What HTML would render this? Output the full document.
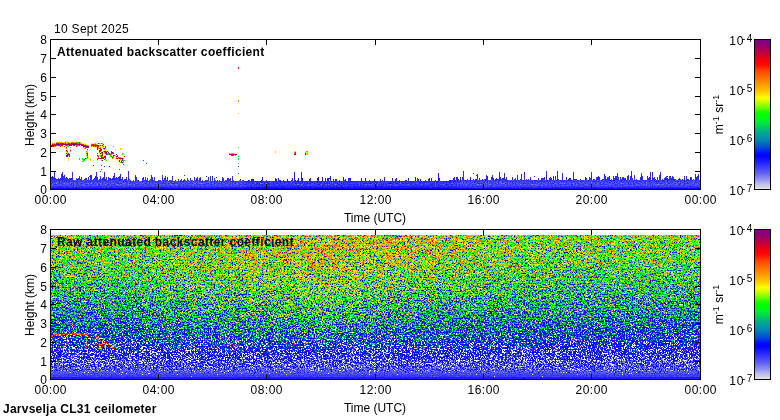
<!DOCTYPE html><html><head><meta charset="utf-8"><style>
html,body{margin:0;padding:0;background:#fff;width:780px;height:420px;overflow:hidden}
body{position:relative;font-family:"Liberation Sans", sans-serif;font-size:12px;color:#000}
.t{position:absolute;line-height:20px;white-space:nowrap;opacity:0.999}
.ov{position:absolute}
.frame{position:absolute;width:649px;height:149px;border:1px solid #000}
.cbar{position:absolute;width:15px;height:149px;border:1px solid #000;background:linear-gradient(to bottom,#800088 0.00%,#900070 3.40%,#b00050 6.80%,#d00030 10.10%,#e80018 12.20%,#ff0000 14.90%,#ff1800 17.60%,#ff4000 20.30%,#ff6000 23.60%,#ff8000 27.00%,#ffa000 30.40%,#ffc000 33.80%,#ffe000 36.50%,#ffff00 38.50%,#e0ff00 40.50%,#a0ff00 43.20%,#60ff00 45.90%,#20ff00 48.00%,#00ff00 50.00%,#00ff00 51.40%,#00f030 54.10%,#00d850 57.40%,#00c070 59.50%,#00a890 62.20%,#0098a8 64.90%,#0080b8 67.60%,#0060c8 70.30%,#0040e0 73.00%,#0010f8 75.70%,#0000ff 77.70%,#1818ff 81.10%,#3030ff 83.80%,#4848f8 86.50%,#6060f0 89.20%,#8080f0 91.90%,#a0a0f0 94.60%,#c0c0e8 96.60%,#d0d0e0 98.65%,#e8e8e8 100.00%)}
.rot{transform:rotate(-90deg);transform-origin:50% 50%}
sup{font-size:9px;vertical-align:0;position:relative;top:-4px}
</style></head><body><svg class="ov" width="780" height="420" style="left:0;top:0"><defs><filter id="nzb" filterUnits="userSpaceOnUse" x="51" y="160" width="649" height="29" color-interpolation-filters="sRGB">
<feTurbulence type="fractalNoise" baseFrequency="0.71" numOctaves="2" seed="5" result="t"/>
<feColorMatrix in="t" values="1 0 0 0 0 1 0 0 0 0 1 0 0 0 0 0 0 0 0 1" result="n0"/>
<feComponentTransfer in="n0" result="n"><feFuncR type="table" tableValues="0.0000 0.0000 0.0000 0.0000 0.0000 0.0000 0.0000 0.0000 0.0000 0.0000 0.0000 0.0000 0.0000 0.0025 0.0516 0.1045 0.1515 0.1968 0.2383 0.2762 0.3101 0.3422 0.3716 0.3995 0.4250 0.4497 0.4735 0.4969 0.5203 0.5438 0.5672 0.5908 0.6123 0.6388 0.6612 0.6823 0.7027 0.7222 0.7415 0.7601 0.7788 0.7976 0.8163 0.8357 0.8550 0.8751 0.8960 0.9175 0.9399 0.9624 0.9846 1.0000 1.0000 1.0000 1.0000 1.0000 1.0000 1.0000 1.0000 1.0000 1.0000 1.0000 1.0000 1.0000 1.0000"/><feFuncG type="table" tableValues="0.0000 0.0000 0.0000 0.0000 0.0000 0.0000 0.0000 0.0000 0.0000 0.0000 0.0000 0.0000 0.0000 0.0025 0.0516 0.1045 0.1515 0.1968 0.2383 0.2762 0.3101 0.3422 0.3716 0.3995 0.4250 0.4497 0.4735 0.4969 0.5203 0.5438 0.5672 0.5908 0.6123 0.6388 0.6612 0.6823 0.7027 0.7222 0.7415 0.7601 0.7788 0.7976 0.8163 0.8357 0.8550 0.8751 0.8960 0.9175 0.9399 0.9624 0.9846 1.0000 1.0000 1.0000 1.0000 1.0000 1.0000 1.0000 1.0000 1.0000 1.0000 1.0000 1.0000 1.0000 1.0000"/><feFuncB type="table" tableValues="0.0000 0.0000 0.0000 0.0000 0.0000 0.0000 0.0000 0.0000 0.0000 0.0000 0.0000 0.0000 0.0000 0.0025 0.0516 0.1045 0.1515 0.1968 0.2383 0.2762 0.3101 0.3422 0.3716 0.3995 0.4250 0.4497 0.4735 0.4969 0.5203 0.5438 0.5672 0.5908 0.6123 0.6388 0.6612 0.6823 0.7027 0.7222 0.7415 0.7601 0.7788 0.7976 0.8163 0.8357 0.8550 0.8751 0.8960 0.9175 0.9399 0.9624 0.9846 1.0000 1.0000 1.0000 1.0000 1.0000 1.0000 1.0000 1.0000 1.0000 1.0000 1.0000 1.0000 1.0000 1.0000"/></feComponentTransfer>
<feColorMatrix in="SourceGraphic" values="0 1 0 0 0 0 1 0 0 0 0 1 0 0 0 0 0 0 0 1" result="amp"/>
<feComposite in="amp" in2="n" operator="arithmetic" k1="1" k2="0" k3="0" k4="0" result="an"/>
<feColorMatrix in="SourceGraphic" values="1 0 0 0 0 1 0 0 0 0 1 0 0 0 0 0 0 0 0 1" result="base"/>
<feComposite in="base" in2="an" operator="arithmetic" k1="0" k2="1" k3="1.2" k4="-0.6" result="v"/>
<feComponentTransfer in="v" result="col"><feFuncR type="table" tableValues="0.957 0.806 0.755 0.653 0.569 0.491 0.414 0.346 0.288 0.230 0.172 0.114 0.064 0.018 0.000 0.000 0.000 0.000 0.000 0.000 0.000 0.000 0.000 0.000 0.000 0.000 0.000 0.000 0.000 0.000 0.000 0.105 0.285 0.460 0.615 0.770 0.909 1.000 1.000 1.000 1.000 1.000 1.000 1.000 1.000 1.000 1.000 1.000 1.000 1.000 1.000 1.000 0.948 0.886 0.812 0.749 0.685 0.624 0.563 0.533 0.502"/><feFuncG type="table" tableValues="0.957 0.806 0.755 0.653 0.569 0.491 0.414 0.346 0.288 0.230 0.172 0.114 0.064 0.018 0.032 0.112 0.228 0.313 0.390 0.468 0.534 0.593 0.632 0.677 0.736 0.805 0.868 0.916 0.958 0.994 1.000 1.000 1.000 1.000 1.000 1.000 1.000 0.990 0.889 0.809 0.736 0.674 0.613 0.551 0.490 0.428 0.366 0.303 0.234 0.137 0.062 0.003 0.000 0.000 0.000 0.000 0.000 0.000 0.000 0.000 0.000"/><feFuncB type="table" tableValues="0.894 0.883 0.909 0.935 0.941 0.941 0.941 0.951 0.971 0.988 1.000 1.000 1.000 1.000 0.986 0.948 0.890 0.832 0.777 0.739 0.700 0.661 0.604 0.540 0.462 0.369 0.286 0.222 0.135 0.019 0.000 0.000 0.000 0.000 0.000 0.000 0.000 0.000 0.000 0.000 0.000 0.000 0.000 0.000 0.000 0.000 0.000 0.000 0.000 0.000 0.000 0.000 0.055 0.118 0.192 0.255 0.319 0.380 0.441 0.487 0.533"/></feComponentTransfer>
<feColorMatrix in="t" values="0 1 0 0 0 0 1 0 0 0 0 1 0 0 0 0 0 0 0 1" result="g"/>
<feComponentTransfer in="g" result="u"><feFuncR type="table" tableValues="1.0000 1.0000 1.0000 1.0000 1.0000 1.0000 1.0000 1.0000 0.9999 0.9998 0.9996 0.9990 0.9981 0.9966 0.9942 0.9908 0.9858 0.9783 0.9686 0.9561 0.9410 0.9227 0.9016 0.8772 0.8499 0.8186 0.7836 0.7447 0.7028 0.6568 0.6073 0.5544 0.5036 0.4410 0.3887 0.3403 0.2951 0.2540 0.2165 0.1828 0.1519 0.1246 0.1002 0.0788 0.0606 0.0456 0.0329 0.0229 0.0151 0.0099 0.0061 0.0036 0.0021 0.0011 0.0006 0.0003 0.0001 0.0000 0.0000 0.0000 0.0000 0.0000 0.0000 0.0000 0.0000"/><feFuncG type="table" tableValues="1.0000 1.0000 1.0000 1.0000 1.0000 1.0000 1.0000 1.0000 0.9999 0.9998 0.9996 0.9990 0.9981 0.9966 0.9942 0.9908 0.9858 0.9783 0.9686 0.9561 0.9410 0.9227 0.9016 0.8772 0.8499 0.8186 0.7836 0.7447 0.7028 0.6568 0.6073 0.5544 0.5036 0.4410 0.3887 0.3403 0.2951 0.2540 0.2165 0.1828 0.1519 0.1246 0.1002 0.0788 0.0606 0.0456 0.0329 0.0229 0.0151 0.0099 0.0061 0.0036 0.0021 0.0011 0.0006 0.0003 0.0001 0.0000 0.0000 0.0000 0.0000 0.0000 0.0000 0.0000 0.0000"/><feFuncB type="table" tableValues="1.0000 1.0000 1.0000 1.0000 1.0000 1.0000 1.0000 1.0000 0.9999 0.9998 0.9996 0.9990 0.9981 0.9966 0.9942 0.9908 0.9858 0.9783 0.9686 0.9561 0.9410 0.9227 0.9016 0.8772 0.8499 0.8186 0.7836 0.7447 0.7028 0.6568 0.6073 0.5544 0.5036 0.4410 0.3887 0.3403 0.2951 0.2540 0.2165 0.1828 0.1519 0.1246 0.1002 0.0788 0.0606 0.0456 0.0329 0.0229 0.0151 0.0099 0.0061 0.0036 0.0021 0.0011 0.0006 0.0003 0.0001 0.0000 0.0000 0.0000 0.0000 0.0000 0.0000 0.0000 0.0000"/></feComponentTransfer>
<feColorMatrix in="SourceGraphic" values="0 0 1 0 0 0 0 1 0 0 0 0 1 0 0 0 0 0 0 1" result="pp"/>
<feComposite in="pp" in2="u" operator="arithmetic" k1="0" k2="0.5" k3="0.5" k4="0" result="w0"/>
<feComponentTransfer in="w0" result="mask"><feFuncR type="discrete" tableValues="0 1"/><feFuncG type="discrete" tableValues="0 1"/><feFuncB type="discrete" tableValues="0 1"/></feComponentTransfer>
<feColorMatrix in="mask" values="0 0 0 0 0 0 0 0 0 0 0 0 0 0 0 1 0 0 0 0" result="ma"/>
<feFlood flood-color="#f4f4e4" result="fw"/>
<feComposite in="fw" in2="ma" operator="in" result="wl"/>
<feComposite in="wl" in2="col" operator="over"/><feComposite in2="SourceAlpha" operator="in"/>
</filter><linearGradient id="b0" gradientUnits="userSpaceOnUse" x1="51" x2="700" y1="0" y2="0"><stop offset="0.0%" stop-color="#bd0a00"/><stop offset="29.1%" stop-color="#bd0a00"/><stop offset="30.7%" stop-color="#c20a00"/><stop offset="61.5%" stop-color="#c20a00"/><stop offset="63.0%" stop-color="#bd0a00"/><stop offset="99.8%" stop-color="#bd0a00"/></linearGradient><linearGradient id="b1" gradientUnits="userSpaceOnUse" x1="51" x2="700" y1="0" y2="0"><stop offset="0.0%" stop-color="#bd0a00"/><stop offset="29.1%" stop-color="#bd0a00"/><stop offset="30.7%" stop-color="#c20a00"/><stop offset="61.5%" stop-color="#c20a00"/><stop offset="63.0%" stop-color="#bd0a00"/><stop offset="99.8%" stop-color="#bd0a00"/></linearGradient><linearGradient id="b2" gradientUnits="userSpaceOnUse" x1="51" x2="700" y1="0" y2="0"><stop offset="0.0%" stop-color="#bd0a00"/><stop offset="29.1%" stop-color="#bd0a00"/><stop offset="30.7%" stop-color="#c20a00"/><stop offset="61.5%" stop-color="#c20a00"/><stop offset="63.0%" stop-color="#bd0a00"/><stop offset="99.8%" stop-color="#bd0a00"/></linearGradient><linearGradient id="b3" gradientUnits="userSpaceOnUse" x1="51" x2="700" y1="0" y2="0"><stop offset="0.0%" stop-color="#bd0a00"/><stop offset="29.1%" stop-color="#bd0a00"/><stop offset="30.7%" stop-color="#c20a00"/><stop offset="61.5%" stop-color="#c20a00"/><stop offset="63.0%" stop-color="#bd0a00"/><stop offset="99.8%" stop-color="#bd0a00"/></linearGradient><linearGradient id="b4" gradientUnits="userSpaceOnUse" x1="51" x2="700" y1="0" y2="0"><stop offset="0.0%" stop-color="#bd0a00"/><stop offset="29.1%" stop-color="#bd0a00"/><stop offset="30.7%" stop-color="#c20a00"/><stop offset="61.5%" stop-color="#c20a00"/><stop offset="63.0%" stop-color="#bd0a00"/><stop offset="99.8%" stop-color="#bd0a00"/></linearGradient><linearGradient id="b5" gradientUnits="userSpaceOnUse" x1="51" x2="700" y1="0" y2="0"><stop offset="0.0%" stop-color="#bd0a00"/><stop offset="29.1%" stop-color="#bd0a00"/><stop offset="30.7%" stop-color="#c20a00"/><stop offset="61.5%" stop-color="#c20a00"/><stop offset="63.0%" stop-color="#bd0a00"/><stop offset="99.8%" stop-color="#bd0a00"/></linearGradient><linearGradient id="b6" gradientUnits="userSpaceOnUse" x1="51" x2="700" y1="0" y2="0"><stop offset="0.0%" stop-color="#bd0a00"/><stop offset="29.1%" stop-color="#bd0a00"/><stop offset="30.7%" stop-color="#c20a00"/><stop offset="61.5%" stop-color="#c20a00"/><stop offset="63.0%" stop-color="#bd0a00"/><stop offset="99.8%" stop-color="#bd0a00"/></linearGradient><linearGradient id="b7" gradientUnits="userSpaceOnUse" x1="51" x2="700" y1="0" y2="0"><stop offset="0.0%" stop-color="#bd0a00"/><stop offset="29.1%" stop-color="#bd0a00"/><stop offset="30.7%" stop-color="#c20a00"/><stop offset="61.5%" stop-color="#c20a00"/><stop offset="63.0%" stop-color="#bd0a00"/><stop offset="99.8%" stop-color="#bd0a00"/></linearGradient><linearGradient id="b8" gradientUnits="userSpaceOnUse" x1="51" x2="700" y1="0" y2="0"><stop offset="0.0%" stop-color="#bd0a00"/><stop offset="29.1%" stop-color="#bd0a00"/><stop offset="30.7%" stop-color="#c20a00"/><stop offset="61.5%" stop-color="#c20a00"/><stop offset="63.0%" stop-color="#bd0a00"/><stop offset="99.8%" stop-color="#bd0a00"/></linearGradient><linearGradient id="b9" gradientUnits="userSpaceOnUse" x1="51" x2="700" y1="0" y2="0"><stop offset="0.0%" stop-color="#bd0a00"/><stop offset="29.1%" stop-color="#bd0a00"/><stop offset="30.7%" stop-color="#c20a00"/><stop offset="61.5%" stop-color="#c20a00"/><stop offset="63.0%" stop-color="#bd0a00"/><stop offset="99.8%" stop-color="#bd0a00"/></linearGradient><linearGradient id="b10" gradientUnits="userSpaceOnUse" x1="51" x2="700" y1="0" y2="0"><stop offset="0.0%" stop-color="#bd0a00"/><stop offset="29.1%" stop-color="#bd0a00"/><stop offset="30.7%" stop-color="#c20a00"/><stop offset="61.5%" stop-color="#c20a00"/><stop offset="63.0%" stop-color="#bd0a00"/><stop offset="99.8%" stop-color="#bd0a00"/></linearGradient><linearGradient id="b11" gradientUnits="userSpaceOnUse" x1="51" x2="700" y1="0" y2="0"><stop offset="0.0%" stop-color="#bd0a00"/><stop offset="29.1%" stop-color="#bd0a00"/><stop offset="30.7%" stop-color="#c20a00"/><stop offset="61.5%" stop-color="#c20a00"/><stop offset="63.0%" stop-color="#bd0a00"/><stop offset="99.8%" stop-color="#bd0a00"/></linearGradient><linearGradient id="b12" gradientUnits="userSpaceOnUse" x1="51" x2="700" y1="0" y2="0"><stop offset="0.0%" stop-color="#bd0a00"/><stop offset="29.1%" stop-color="#bd0a00"/><stop offset="30.7%" stop-color="#c20a00"/><stop offset="61.5%" stop-color="#c20a00"/><stop offset="63.0%" stop-color="#bd0a00"/><stop offset="99.8%" stop-color="#bd0a00"/></linearGradient><linearGradient id="b13" gradientUnits="userSpaceOnUse" x1="51" x2="700" y1="0" y2="0"><stop offset="0.0%" stop-color="#bd0a00"/><stop offset="29.1%" stop-color="#bd0a00"/><stop offset="30.7%" stop-color="#c20a00"/><stop offset="61.5%" stop-color="#c20a00"/><stop offset="63.0%" stop-color="#bd0a00"/><stop offset="99.8%" stop-color="#bd0a00"/></linearGradient><linearGradient id="b14" gradientUnits="userSpaceOnUse" x1="51" x2="700" y1="0" y2="0"><stop offset="0.0%" stop-color="#bd0a00"/><stop offset="29.1%" stop-color="#bd0a00"/><stop offset="30.7%" stop-color="#c20a00"/><stop offset="61.5%" stop-color="#c20a00"/><stop offset="63.0%" stop-color="#bd0a00"/><stop offset="99.8%" stop-color="#bd0a00"/></linearGradient><linearGradient id="b15" gradientUnits="userSpaceOnUse" x1="51" x2="700" y1="0" y2="0"><stop offset="0.0%" stop-color="#b41000"/><stop offset="29.1%" stop-color="#b41000"/><stop offset="30.7%" stop-color="#b91000"/><stop offset="61.5%" stop-color="#b91000"/><stop offset="63.0%" stop-color="#b41000"/><stop offset="99.8%" stop-color="#b41000"/></linearGradient><linearGradient id="b16" gradientUnits="userSpaceOnUse" x1="51" x2="700" y1="0" y2="0"><stop offset="0.0%" stop-color="#b41000"/><stop offset="29.1%" stop-color="#b41000"/><stop offset="30.7%" stop-color="#b91000"/><stop offset="61.5%" stop-color="#b91000"/><stop offset="63.0%" stop-color="#b41000"/><stop offset="99.8%" stop-color="#b41000"/></linearGradient><linearGradient id="b17" gradientUnits="userSpaceOnUse" x1="51" x2="700" y1="0" y2="0"><stop offset="0.0%" stop-color="#aa1900"/><stop offset="29.1%" stop-color="#aa1900"/><stop offset="30.7%" stop-color="#af1900"/><stop offset="61.5%" stop-color="#af1900"/><stop offset="63.0%" stop-color="#aa1900"/><stop offset="99.8%" stop-color="#aa1900"/></linearGradient><linearGradient id="b18" gradientUnits="userSpaceOnUse" x1="51" x2="700" y1="0" y2="0"><stop offset="0.0%" stop-color="#aa1900"/><stop offset="29.1%" stop-color="#aa1900"/><stop offset="30.7%" stop-color="#af1900"/><stop offset="61.5%" stop-color="#af1900"/><stop offset="63.0%" stop-color="#aa1900"/><stop offset="99.8%" stop-color="#aa1900"/></linearGradient><linearGradient id="b19" gradientUnits="userSpaceOnUse" x1="51" x2="700" y1="0" y2="0"><stop offset="0.0%" stop-color="#aa1900"/><stop offset="29.1%" stop-color="#aa1900"/><stop offset="30.7%" stop-color="#af1900"/><stop offset="61.5%" stop-color="#af1900"/><stop offset="63.0%" stop-color="#aa1900"/><stop offset="99.8%" stop-color="#aa1900"/></linearGradient><linearGradient id="b20" gradientUnits="userSpaceOnUse" x1="51" x2="700" y1="0" y2="0"><stop offset="0.0%" stop-color="#aa1900"/><stop offset="29.1%" stop-color="#aa1900"/><stop offset="30.7%" stop-color="#af1900"/><stop offset="61.5%" stop-color="#af1900"/><stop offset="63.0%" stop-color="#aa1900"/><stop offset="99.8%" stop-color="#aa1900"/></linearGradient><linearGradient id="b21" gradientUnits="userSpaceOnUse" x1="51" x2="700" y1="0" y2="0"><stop offset="0.0%" stop-color="#b51000"/><stop offset="29.1%" stop-color="#b51000"/><stop offset="30.7%" stop-color="#ba1000"/><stop offset="61.5%" stop-color="#ba1000"/><stop offset="63.0%" stop-color="#b51000"/><stop offset="99.8%" stop-color="#b51000"/></linearGradient><linearGradient id="b22" gradientUnits="userSpaceOnUse" x1="51" x2="700" y1="0" y2="0"><stop offset="0.0%" stop-color="#bd0c00"/><stop offset="29.1%" stop-color="#bd0c00"/><stop offset="30.7%" stop-color="#c20c00"/><stop offset="61.5%" stop-color="#c20c00"/><stop offset="63.0%" stop-color="#bd0c00"/><stop offset="99.8%" stop-color="#bd0c00"/></linearGradient><linearGradient id="b23" gradientUnits="userSpaceOnUse" x1="51" x2="700" y1="0" y2="0"><stop offset="0.0%" stop-color="#c80800"/><stop offset="29.1%" stop-color="#c80800"/><stop offset="30.7%" stop-color="#cd0800"/><stop offset="61.5%" stop-color="#cd0800"/><stop offset="63.0%" stop-color="#c80800"/><stop offset="99.8%" stop-color="#c80800"/></linearGradient><clipPath id="sky"><path d="M51 189V177H52V176H53V177H54V171H55V178H56V179H57V179H58V178H59V179H60V178H61V174H62V172H63V176H64V175H65V178H66V177H67V178H68V179H69V178H70V178H71V178H72V172H73V180H74V180H75V180H76V178H77V179H78V178H79V176H80V179H81V177H82V180H83V180H84V179H85V178H86V178H87V180H88V177H89V180H90V175H91V175H92V180H93V179H94V178H95V176H96V172H97V177H98V180H99V179H100V176H101V179H102V178H103V177H104V172H105V179H106V177H107V180H108V177H109V178H110V178H111V179H112V178H113V176H114V173H115V178H116V177H117V179H118V177H119V176H120V174H121V179H122V177H123V180H124V179H125V179H126V177H127V180H128V171H129V179H130V180H131V181H132V181H133V180H134V181H135V175H136V177H137V180H138V180H139V181H140V181H141V181H142V178H143V177H144V180H145V177H146V180H147V178H148V181H149V180H150V179H151V175H152V177H153V180H154V177H155V181H156V181H157V181H158V180H159V180H160V180H161V181H162V175H163V180H164V178H165V176H166V180H167V177H168V181H169V180H170V180H171V180H172V176H173V181H174V181H175V180H176V181H177V181H178V179H179V181H180V180H181V179H182V181H183V180H184V179H185V180H186V181H187V178H188V180H189V181H190V178H191V180H192V180H193V181H194V177H195V180H196V178H197V177H198V180H199V178H200V177H201V181H202V180H203V181H204V181H205V180H206V180H207V180H208V177H209V181H210V176H211V181H212V176H213V181H214V178H215V180H216V181H217V180H218V181H219V180H220V181H221V181H222V177H223V178H224V181H225V180H226V180H227V178H228V178H229V179H230V178H231V181H232V176H233V180H234V181H235V181H236V181H237V181H238V181H239V180H240V179H241V181H242V180H243V180H244V181H245V181H246V181H247V181H248V180H249V180H250V181H251V179H252V179H253V179H254V181H255V181H256V181H257V181H258V181H259V181H260V181H261V180H262V177H263V181H264V181H265V181H266V180H267V181H268V181H269V181H270V181H271V181H272V181H273V181H274V181H275V178H276V179H277V181H278V178H279V180H280V180H281V181H282V181H283V180H284V181H285V181H286V181H287V179H288V181H289V181H290V181H291V180H292V178H293V181H294V172H295V180H296V181H297V180H298V178H299V181H300V181H301V172H302V178H303V181H304V181H305V181H306V181H307V181H308V181H309V179H310V178H311V181H312V181H313V181H314V181H315V181H316V181H317V178H318V177H319V181H320V181H321V181H322V177H323V181H324V181H325V178H326V181H327V178H328V178H329V181H330V176H331V181H332V181H333V179H334V181H335V179H336V179H337V181H338V181H339V180H340V181H341V181H342V181H343V177H344V180H345V179H346V181H347V181H348V178H349V178H350V178H351V181H352V181H353V181H354V181H355V181H356V181H357V181H358V181H359V181H360V181H361V178H362V181H363V181H364V181H365V178H366V181H367V181H368V181H369V180H370V181H371V181H372V181H373V181H374V179H375V181H376V181H377V181H378V181H379V181H380V179H381V181H382V180H383V181H384V177H385V181H386V181H387V181H388V181H389V181H390V181H391V181H392V178H393V181H394V181H395V179H396V178H397V181H398V181H399V180H400V181H401V181H402V181H403V181H404V181H405V180H406V180H407V181H408V178H409V181H410V181H411V181H412V181H413V181H414V181H415V177H416V181H417V178H418V179H419V181H420V179H421V181H422V181H423V181H424V181H425V180H426V181H427V181H428V179H429V178H430V181H431V178H432V181H433V181H434V181H435V180H436V181H437V181H438V173H439V178H440V181H441V181H442V181H443V181H444V181H445V181H446V181H447V181H448V181H449V180H450V180H451V180H452V180H453V178H454V177H455V180H456V177H457V177H458V179H459V180H460V177H461V180H462V177H463V171H464V180H465V180H466V180H467V179H468V180H469V180H470V177H471V180H472V180H473V179H474V180H475V179H476V179H477V174H478V180H479V178H480V180H481V180H482V179H483V180H484V179H485V179H486V175H487V176H488V180H489V180H490V180H491V177H492V175H493V178H494V180H495V179H496V178H497V179H498V179H499V172H500V177H501V179H502V178H503V178H504V173H505V179H506V177H507V180H508V180H509V180H510V180H511V180H512V177H513V180H514V179H515V178H516V180H517V175H518V180H519V180H520V179H521V174H522V180H523V180H524V172H525V180H526V179H527V180H528V179H529V180H530V177H531V180H532V180H533V180H534V180H535V180H536V180H537V180H538V178H539V180H540V180H541V178H542V178H543V178H544V177H545V180H546V171H547V180H548V180H549V178H550V177H551V178H552V180H553V176H554V180H555V176H556V180H557V171H558V179H559V180H560V180H561V180H562V173H563V180H564V180H565V180H566V177H567V180H568V179H569V178H570V178H571V180H572V180H573V172H574V179H575V179H576V179H577V180H578V180H579V180H580V179H581V180H582V180H583V180H584V180H585V177H586V178H587V180H588V180H589V177H590V178H591V172H592V180H593V179H594V179H595V180H596V177H597V177H598V176H599V177H600V180H601V180H602V179H603V179H604V174H605V176H606V179H607V177H608V177H609V176H610V180H611V179H612V180H613V176H614V178H615V176H616V176H617V173H618V177H619V180H620V177H621V179H622V177H623V177H624V178H625V178H626V180H627V176H628V175H629V180H630V176H631V171H632V178H633V180H634V175H635V180H636V179H637V180H638V180H639V180H640V177H641V173H642V176H643V180H644V180H645V180H646V180H647V176H648V178H649V177H650V172H651V180H652V172H653V178H654V177H655V179H656V180H657V177H658V180H659V175H660V172H661V180H662V179H663V180H664V178H665V177H666V176H667V178H668V179H669V176H670V176H671V178H672V176H673V177H674V179H675V179H676V180H677V180H678V179H679V178H680V179H681V180H682V179H683V180H684V176H685V180H686V176H687V179H688V179H689V180H690V177H691V177H692V180H693V179H694V180H695V174H696V177H697V176H698V174H699V180H700V189ZM89 176h1v1h-1zM100 171h1v1h-1zM104 166h1v1h-1zM184 175h1v1h-1zM206 176h1v1h-1zM216 177h1v1h-1zM329 178h1v1h-1zM473 173h1v1h-1zM476 175h1v1h-1zM534 176h1v1h-1zM667 176h1v1h-1z"/></clipPath></defs><path d="M51 189V177H52V176H53V177H54V171H55V178H56V179H57V179H58V178H59V179H60V178H61V174H62V172H63V176H64V175H65V178H66V177H67V178H68V179H69V178H70V178H71V178H72V172H73V180H74V180H75V180H76V178H77V179H78V178H79V176H80V179H81V177H82V180H83V180H84V179H85V178H86V178H87V180H88V177H89V180H90V175H91V175H92V180H93V179H94V178H95V176H96V172H97V177H98V180H99V179H100V176H101V179H102V178H103V177H104V172H105V179H106V177H107V180H108V177H109V178H110V178H111V179H112V178H113V176H114V173H115V178H116V177H117V179H118V177H119V176H120V174H121V179H122V177H123V180H124V179H125V179H126V177H127V180H128V171H129V179H130V180H131V181H132V181H133V180H134V181H135V175H136V177H137V180H138V180H139V181H140V181H141V181H142V178H143V177H144V180H145V177H146V180H147V178H148V181H149V180H150V179H151V175H152V177H153V180H154V177H155V181H156V181H157V181H158V180H159V180H160V180H161V181H162V175H163V180H164V178H165V176H166V180H167V177H168V181H169V180H170V180H171V180H172V176H173V181H174V181H175V180H176V181H177V181H178V179H179V181H180V180H181V179H182V181H183V180H184V179H185V180H186V181H187V178H188V180H189V181H190V178H191V180H192V180H193V181H194V177H195V180H196V178H197V177H198V180H199V178H200V177H201V181H202V180H203V181H204V181H205V180H206V180H207V180H208V177H209V181H210V176H211V181H212V176H213V181H214V178H215V180H216V181H217V180H218V181H219V180H220V181H221V181H222V177H223V178H224V181H225V180H226V180H227V178H228V178H229V179H230V178H231V181H232V176H233V180H234V181H235V181H236V181H237V181H238V181H239V180H240V179H241V181H242V180H243V180H244V181H245V181H246V181H247V181H248V180H249V180H250V181H251V179H252V179H253V179H254V181H255V181H256V181H257V181H258V181H259V181H260V181H261V180H262V177H263V181H264V181H265V181H266V180H267V181H268V181H269V181H270V181H271V181H272V181H273V181H274V181H275V178H276V179H277V181H278V178H279V180H280V180H281V181H282V181H283V180H284V181H285V181H286V181H287V179H288V181H289V181H290V181H291V180H292V178H293V181H294V172H295V180H296V181H297V180H298V178H299V181H300V181H301V172H302V178H303V181H304V181H305V181H306V181H307V181H308V181H309V179H310V178H311V181H312V181H313V181H314V181H315V181H316V181H317V178H318V177H319V181H320V181H321V181H322V177H323V181H324V181H325V178H326V181H327V178H328V178H329V181H330V176H331V181H332V181H333V179H334V181H335V179H336V179H337V181H338V181H339V180H340V181H341V181H342V181H343V177H344V180H345V179H346V181H347V181H348V178H349V178H350V178H351V181H352V181H353V181H354V181H355V181H356V181H357V181H358V181H359V181H360V181H361V178H362V181H363V181H364V181H365V178H366V181H367V181H368V181H369V180H370V181H371V181H372V181H373V181H374V179H375V181H376V181H377V181H378V181H379V181H380V179H381V181H382V180H383V181H384V177H385V181H386V181H387V181H388V181H389V181H390V181H391V181H392V178H393V181H394V181H395V179H396V178H397V181H398V181H399V180H400V181H401V181H402V181H403V181H404V181H405V180H406V180H407V181H408V178H409V181H410V181H411V181H412V181H413V181H414V181H415V177H416V181H417V178H418V179H419V181H420V179H421V181H422V181H423V181H424V181H425V180H426V181H427V181H428V179H429V178H430V181H431V178H432V181H433V181H434V181H435V180H436V181H437V181H438V173H439V178H440V181H441V181H442V181H443V181H444V181H445V181H446V181H447V181H448V181H449V180H450V180H451V180H452V180H453V178H454V177H455V180H456V177H457V177H458V179H459V180H460V177H461V180H462V177H463V171H464V180H465V180H466V180H467V179H468V180H469V180H470V177H471V180H472V180H473V179H474V180H475V179H476V179H477V174H478V180H479V178H480V180H481V180H482V179H483V180H484V179H485V179H486V175H487V176H488V180H489V180H490V180H491V177H492V175H493V178H494V180H495V179H496V178H497V179H498V179H499V172H500V177H501V179H502V178H503V178H504V173H505V179H506V177H507V180H508V180H509V180H510V180H511V180H512V177H513V180H514V179H515V178H516V180H517V175H518V180H519V180H520V179H521V174H522V180H523V180H524V172H525V180H526V179H527V180H528V179H529V180H530V177H531V180H532V180H533V180H534V180H535V180H536V180H537V180H538V178H539V180H540V180H541V178H542V178H543V178H544V177H545V180H546V171H547V180H548V180H549V178H550V177H551V178H552V180H553V176H554V180H555V176H556V180H557V171H558V179H559V180H560V180H561V180H562V173H563V180H564V180H565V180H566V177H567V180H568V179H569V178H570V178H571V180H572V180H573V172H574V179H575V179H576V179H577V180H578V180H579V180H580V179H581V180H582V180H583V180H584V180H585V177H586V178H587V180H588V180H589V177H590V178H591V172H592V180H593V179H594V179H595V180H596V177H597V177H598V176H599V177H600V180H601V180H602V179H603V179H604V174H605V176H606V179H607V177H608V177H609V176H610V180H611V179H612V180H613V176H614V178H615V176H616V176H617V173H618V177H619V180H620V177H621V179H622V177H623V177H624V178H625V178H626V180H627V176H628V175H629V180H630V176H631V171H632V178H633V180H634V175H635V180H636V179H637V180H638V180H639V180H640V177H641V173H642V176H643V180H644V180H645V180H646V180H647V176H648V178H649V177H650V172H651V180H652V172H653V178H654V177H655V179H656V180H657V177H658V180H659V175H660V172H661V180H662V179H663V180H664V178H665V177H666V176H667V178H668V179H669V176H670V176H671V178H672V176H673V177H674V179H675V179H676V180H677V180H678V179H679V178H680V179H681V180H682V179H683V180H684V176H685V180H686V176H687V179H688V179H689V180H690V177H691V177H692V180H693V179H694V180H695V174H696V177H697V176H698V174H699V180H700V189ZM89 176h1v1h-1zM100 171h1v1h-1zM104 166h1v1h-1zM184 175h1v1h-1zM206 176h1v1h-1zM216 177h1v1h-1zM329 178h1v1h-1zM473 173h1v1h-1zM476 175h1v1h-1zM534 176h1v1h-1zM667 176h1v1h-1z" fill="#4444f4"/><g filter="url(#nzb)"><g clip-path="url(#sky)"><rect x="51" y="165" width="649" height="1" fill="url(#b0)"/><rect x="51" y="166" width="649" height="1" fill="url(#b1)"/><rect x="51" y="167" width="649" height="1" fill="url(#b2)"/><rect x="51" y="168" width="649" height="1" fill="url(#b3)"/><rect x="51" y="169" width="649" height="1" fill="url(#b4)"/><rect x="51" y="170" width="649" height="1" fill="url(#b5)"/><rect x="51" y="171" width="649" height="1" fill="url(#b6)"/><rect x="51" y="172" width="649" height="1" fill="url(#b7)"/><rect x="51" y="173" width="649" height="1" fill="url(#b8)"/><rect x="51" y="174" width="649" height="1" fill="url(#b9)"/><rect x="51" y="175" width="649" height="1" fill="url(#b10)"/><rect x="51" y="176" width="649" height="1" fill="url(#b11)"/><rect x="51" y="177" width="649" height="1" fill="url(#b12)"/><rect x="51" y="178" width="649" height="1" fill="url(#b13)"/><rect x="51" y="179" width="649" height="1" fill="url(#b14)"/><rect x="51" y="180" width="649" height="1" fill="url(#b15)"/><rect x="51" y="181" width="649" height="1" fill="url(#b16)"/><rect x="51" y="182" width="649" height="1" fill="url(#b17)"/><rect x="51" y="183" width="649" height="1" fill="url(#b18)"/><rect x="51" y="184" width="649" height="1" fill="url(#b19)"/><rect x="51" y="185" width="649" height="1" fill="url(#b20)"/><rect x="51" y="186" width="649" height="1" fill="url(#b21)"/><rect x="51" y="187" width="649" height="1" fill="url(#b22)"/><rect x="51" y="188" width="649" height="1" fill="url(#b23)"/></g></g><path fill="#ffff00" d="M51 144h1v1h-1zM52 142h1v1h-1zM55 143h1v1h-1zM59 141h1v1h-1zM59 146h1v1h-1zM61 141h1v1h-1zM62 146h1v1h-1zM63 142h1v1h-1zM63 145h1v1h-1zM66 141h1v1h-1zM66 142h1v1h-1zM67 141h1v1h-1zM69 142h1v1h-1zM72 141h1v1h-1zM75 145h1v1h-1zM75 146h1v1h-1zM76 141h1v1h-1zM77 146h1v1h-1zM81 146h1v1h-1zM82 143h1v1h-1zM84 143h1v1h-1zM84 144h1v1h-1zM84 147h1v1h-1zM86 144h1v1h-1zM65 148h1v1h-1zM66 149h1v1h-1zM67 149h1v1h-1zM67 150h1v1h-1zM66 152h1v1h-1zM67 153h1v1h-1zM70 149h1v1h-1zM68 158h1v1h-1zM68 159h1v1h-1zM86 149h1v1h-1zM87 150h1v1h-1zM87 151h1v1h-1zM86 152h1v1h-1zM86 154h1v1h-1zM88 156h1v1h-1zM88 158h1v1h-1zM89 158h1v1h-1zM90 160h1v1h-1zM91 143h1v1h-1zM92 143h1v1h-1zM92 146h1v1h-1zM93 143h1v1h-1zM94 143h1v1h-1zM94 147h1v1h-1zM97 143h1v1h-1zM97 144h1v1h-1zM99 145h1v1h-1zM100 146h1v1h-1zM99 147h1v1h-1zM100 152h1v1h-1zM100 154h1v1h-1zM101 154h1v1h-1zM100 143h1v1h-1zM102 144h1v1h-1zM101 145h1v1h-1zM102 146h1v1h-1zM104 146h1v1h-1zM102 147h1v1h-1zM103 147h1v1h-1zM106 149h1v1h-1zM104 150h1v1h-1zM105 150h1v1h-1zM106 150h1v1h-1zM107 152h1v1h-1zM98 150h1v1h-1zM99 146h1v1h-1zM99 153h1v1h-1zM99 155h1v1h-1zM101 146h1v1h-1zM101 159h1v1h-1zM104 153h1v1h-1zM105 159h1v1h-1zM105 160h1v1h-1zM106 159h1v1h-1zM108 151h1v1h-1zM110 153h1v1h-1zM111 155h1v1h-1zM112 156h1v1h-1zM113 158h1v1h-1zM114 157h1v1h-1zM115 155h1v1h-1zM115 156h1v1h-1zM115 158h1v1h-1zM117 157h1v1h-1zM117 159h1v1h-1zM117 160h1v1h-1zM120 160h1v1h-1zM122 161h1v1h-1zM122 163h1v1h-1zM115 149h1v1h-1zM115 150h1v1h-1zM230 153h1v1h-1zM234 153h1v1h-1zM235 153h1v1h-1zM236 153h1v1h-1zM294 151h1v1h-1zM306 152h1v1h-1zM306 153h1v1h-1z"/><path fill="#800088" d="M51 145h1v1h-1zM51 146h1v1h-1zM52 145h1v1h-1zM53 145h1v1h-1zM54 145h1v1h-1zM55 145h1v1h-1zM56 144h1v1h-1zM57 144h1v1h-1zM58 144h1v1h-1zM59 144h1v1h-1zM60 144h1v1h-1zM61 143h1v1h-1zM61 144h1v1h-1zM62 145h1v1h-1zM63 143h1v1h-1zM63 144h1v1h-1zM64 144h1v1h-1zM65 144h1v1h-1zM66 144h1v1h-1zM67 144h1v1h-1zM68 143h1v1h-1zM69 144h1v1h-1zM69 145h1v1h-1zM71 143h1v1h-1zM71 144h1v1h-1zM71 145h1v1h-1zM73 143h1v1h-1zM73 144h1v1h-1zM74 144h1v1h-1zM74 145h1v1h-1zM75 143h1v1h-1zM75 144h1v1h-1zM76 144h1v1h-1zM78 144h1v1h-1zM79 144h1v1h-1zM80 144h1v1h-1zM81 145h1v1h-1zM82 145h1v1h-1zM83 146h1v1h-1zM84 146h1v1h-1zM85 145h1v1h-1zM86 146h1v1h-1zM87 146h1v1h-1zM87 147h1v1h-1zM88 147h1v1h-1zM68 153h1v1h-1zM67 154h1v1h-1zM68 154h1v1h-1zM66 153h1v1h-1zM66 155h1v1h-1zM66 156h1v1h-1zM67 155h1v1h-1zM67 156h1v1h-1zM69 156h1v1h-1zM85 158h1v1h-1zM91 145h1v1h-1zM93 145h1v1h-1zM95 145h1v1h-1zM96 145h1v1h-1zM97 145h1v1h-1zM98 143h1v1h-1zM99 150h1v1h-1zM100 151h1v1h-1zM102 152h1v1h-1zM100 153h1v1h-1zM101 155h1v1h-1zM102 155h1v1h-1zM101 157h1v1h-1zM101 158h1v1h-1zM103 158h1v1h-1zM103 144h1v1h-1zM102 145h1v1h-1zM104 148h1v1h-1zM105 151h1v1h-1zM106 152h1v1h-1zM108 152h1v1h-1zM99 148h1v1h-1zM100 158h1v1h-1zM102 160h1v1h-1zM104 157h1v1h-1zM105 153h1v1h-1zM106 154h1v1h-1zM104 151h1v1h-1zM106 153h1v1h-1zM107 151h1v1h-1zM109 154h1v1h-1zM111 152h1v1h-1zM112 152h1v1h-1zM112 157h1v1h-1zM113 153h1v1h-1zM113 155h1v1h-1zM116 154h1v1h-1zM116 156h1v1h-1zM117 158h1v1h-1zM119 158h1v1h-1zM119 161h1v1h-1zM121 158h1v1h-1zM121 161h1v1h-1zM122 158h1v1h-1zM122 160h1v1h-1zM122 162h1v1h-1zM123 164h1v1h-1zM231 154h1v1h-1zM233 154h1v1h-1zM236 154h1v1h-1zM294 154h1v1h-1z"/><path fill="#ff8000" d="M52 143h1v1h-1zM54 143h1v1h-1zM54 146h1v1h-1zM55 146h1v1h-1zM56 142h1v1h-1zM57 145h1v1h-1zM58 142h1v1h-1zM59 142h1v1h-1zM59 143h1v1h-1zM60 145h1v1h-1zM64 143h1v1h-1zM65 145h1v1h-1zM66 143h1v1h-1zM67 143h1v1h-1zM67 145h1v1h-1zM68 145h1v1h-1zM70 143h1v1h-1zM72 142h1v1h-1zM73 142h1v1h-1zM74 142h1v1h-1zM76 142h1v1h-1zM76 145h1v1h-1zM77 142h1v1h-1zM78 143h1v1h-1zM78 145h1v1h-1zM80 143h1v1h-1zM83 147h1v1h-1zM84 148h1v1h-1zM86 145h1v1h-1zM87 145h1v1h-1zM66 148h1v1h-1zM67 152h1v1h-1zM68 155h1v1h-1zM70 147h1v1h-1zM70 151h1v1h-1zM86 151h1v1h-1zM87 152h1v1h-1zM86 155h1v1h-1zM79 159h1v1h-1zM82 159h1v1h-1zM83 159h1v1h-1zM83 160h1v1h-1zM83 161h1v1h-1zM91 144h1v1h-1zM91 146h1v1h-1zM94 144h1v1h-1zM94 146h1v1h-1zM96 144h1v1h-1zM96 146h1v1h-1zM99 143h1v1h-1zM98 147h1v1h-1zM98 148h1v1h-1zM101 153h1v1h-1zM100 155h1v1h-1zM102 156h1v1h-1zM102 143h1v1h-1zM104 149h1v1h-1zM97 156h1v1h-1zM99 152h1v1h-1zM103 151h1v1h-1zM104 152h1v1h-1zM106 151h1v1h-1zM107 153h1v1h-1zM108 153h1v1h-1zM111 154h1v1h-1zM112 158h1v1h-1zM113 152h1v1h-1zM118 158h1v1h-1zM120 157h1v1h-1zM123 161h1v1h-1zM229 153h1v1h-1zM231 153h1v1h-1zM232 153h1v1h-1zM233 153h1v1h-1zM235 155h1v1h-1zM238 100h1v1h-1zM294 153h1v1h-1zM306 151h1v1h-1zM307 151h1v1h-1zM306 154h1v1h-1z"/><path fill="#ff0000" d="M52 144h1v1h-1zM52 146h1v1h-1zM53 144h1v1h-1zM53 146h1v1h-1zM54 144h1v1h-1zM55 144h1v1h-1zM56 143h1v1h-1zM56 145h1v1h-1zM57 143h1v1h-1zM58 143h1v1h-1zM58 145h1v1h-1zM59 145h1v1h-1zM60 143h1v1h-1zM60 146h1v1h-1zM61 145h1v1h-1zM62 143h1v1h-1zM62 144h1v1h-1zM64 146h1v1h-1zM65 143h1v1h-1zM66 145h1v1h-1zM69 143h1v1h-1zM70 144h1v1h-1zM70 145h1v1h-1zM72 143h1v1h-1zM73 145h1v1h-1zM74 143h1v1h-1zM76 143h1v1h-1zM76 146h1v1h-1zM77 143h1v1h-1zM77 144h1v1h-1zM77 145h1v1h-1zM79 142h1v1h-1zM79 143h1v1h-1zM79 145h1v1h-1zM81 144h1v1h-1zM82 144h1v1h-1zM83 144h1v1h-1zM83 145h1v1h-1zM84 145h1v1h-1zM85 147h1v1h-1zM86 147h1v1h-1zM88 146h1v1h-1zM66 147h1v1h-1zM66 150h1v1h-1zM67 151h1v1h-1zM69 154h1v1h-1zM69 155h1v1h-1zM70 150h1v1h-1zM87 149h1v1h-1zM86 153h1v1h-1zM87 153h1v1h-1zM87 154h1v1h-1zM87 155h1v1h-1zM87 157h1v1h-1zM84 159h1v1h-1zM92 144h1v1h-1zM92 145h1v1h-1zM93 144h1v1h-1zM93 146h1v1h-1zM94 145h1v1h-1zM95 144h1v1h-1zM95 146h1v1h-1zM97 146h1v1h-1zM98 145h1v1h-1zM100 145h1v1h-1zM98 146h1v1h-1zM100 148h1v1h-1zM100 149h1v1h-1zM101 149h1v1h-1zM100 150h1v1h-1zM101 150h1v1h-1zM99 151h1v1h-1zM101 152h1v1h-1zM102 154h1v1h-1zM101 156h1v1h-1zM102 157h1v1h-1zM103 157h1v1h-1zM102 158h1v1h-1zM101 143h1v1h-1zM103 148h1v1h-1zM97 147h1v1h-1zM97 148h1v1h-1zM97 149h1v1h-1zM97 153h1v1h-1zM97 155h1v1h-1zM97 159h1v1h-1zM98 156h1v1h-1zM98 158h1v1h-1zM99 158h1v1h-1zM102 153h1v1h-1zM103 146h1v1h-1zM104 156h1v1h-1zM104 159h1v1h-1zM105 146h1v1h-1zM105 147h1v1h-1zM105 156h1v1h-1zM105 157h1v1h-1zM105 158h1v1h-1zM105 152h1v1h-1zM107 154h1v1h-1zM109 153h1v1h-1zM110 154h1v1h-1zM111 151h1v1h-1zM111 153h1v1h-1zM111 156h1v1h-1zM112 153h1v1h-1zM113 156h1v1h-1zM114 155h1v1h-1zM116 158h1v1h-1zM117 155h1v1h-1zM117 156h1v1h-1zM118 157h1v1h-1zM119 160h1v1h-1zM120 158h1v1h-1zM121 162h1v1h-1zM122 159h1v1h-1zM124 156h1v1h-1zM231 155h1v1h-1zM232 154h1v1h-1zM232 155h1v1h-1zM233 155h1v1h-1zM235 154h1v1h-1zM238 68h1v1h-1zM295 152h1v1h-1zM295 153h1v1h-1zM295 154h1v1h-1zM305 153h1v1h-1zM305 154h1v1h-1z"/><path fill="#ffa000" d="M53 143h1v1h-1zM57 142h1v1h-1zM60 142h1v1h-1zM61 142h1v1h-1zM62 142h1v1h-1zM64 142h1v1h-1zM65 141h1v1h-1zM68 142h1v1h-1zM70 142h1v1h-1zM75 142h1v1h-1zM80 142h1v1h-1zM81 143h1v1h-1zM85 144h1v1h-1zM88 145h1v1h-1zM95 143h1v1h-1zM238 101h1v1h-1zM294 152h1v1h-1zM307 153h1v1h-1z"/><path fill="#00ff00" d="M65 142h1v1h-1zM67 142h1v1h-1zM67 146h1v1h-1zM68 146h1v1h-1zM71 142h1v1h-1zM78 142h1v1h-1zM85 148h1v1h-1zM66 151h1v1h-1zM87 156h1v1h-1zM86 158h1v1h-1zM84 160h1v1h-1zM90 159h1v1h-1zM79 158h1v1h-1zM82 158h1v1h-1zM100 147h1v1h-1zM100 156h1v1h-1zM105 148h1v1h-1zM97 158h1v1h-1zM98 155h1v1h-1zM98 157h1v1h-1zM101 160h1v1h-1zM105 155h1v1h-1zM106 160h1v1h-1zM108 154h1v1h-1zM110 155h1v1h-1zM110 156h1v1h-1zM113 157h1v1h-1zM116 157h1v1h-1zM119 157h1v1h-1zM120 159h1v1h-1zM120 162h1v1h-1zM121 160h1v1h-1zM123 158h1v1h-1zM123 160h1v1h-1zM123 162h1v1h-1zM122 153h1v1h-1zM122 154h1v1h-1zM113 146h1v1h-1zM124 160h1v1h-1zM238 147h1v1h-1zM238 156h1v1h-1zM238 159h1v1h-1z"/><path fill="#b00050" d="M68 144h1v1h-1zM72 144h1v1h-1zM85 146h1v1h-1zM229 154h1v1h-1zM230 154h1v1h-1zM234 154h1v1h-1z"/><path fill="#ffd000" d="M68 160h1v1h-1zM120 148h1v1h-1zM121 148h1v1h-1zM120 149h1v1h-1zM121 149h1v1h-1zM238 113h1v1h-1zM275 151h1v1h-1zM275 152h1v1h-1zM295 151h1v1h-1zM305 152h1v1h-1zM307 152h1v1h-1zM307 154h1v1h-1z"/><path fill="#00c070" d="M82 161h1v1h-1zM238 158h1v1h-1zM238 163h1v1h-1z"/><path fill="#ff3000" d="M238 67h1v1h-1z"/><path fill="#0050d0" d="M238 166h1v1h-1zM238 173h1v1h-1zM93 165h1v1h-1zM101 165h1v1h-1zM109 166h1v1h-1zM101 169h1v1h-1zM119 169h1v1h-1zM143 160h1v1h-1zM146 163h1v1h-1zM117 178h1v1h-1z"/></svg>
<div class="frame" style="left:50px;top:39px"></div>
<svg class="ov" width="780" height="420" style="top:0;left:0"><rect x="51" y="171" width="5" height="1"/><rect x="695" y="171" width="5" height="1"/><rect x="51" y="152" width="5" height="1"/><rect x="695" y="152" width="5" height="1"/><rect x="51" y="133" width="5" height="1"/><rect x="695" y="133" width="5" height="1"/><rect x="51" y="114" width="5" height="1"/><rect x="695" y="114" width="5" height="1"/><rect x="51" y="96" width="5" height="1"/><rect x="695" y="96" width="5" height="1"/><rect x="51" y="77" width="5" height="1"/><rect x="695" y="77" width="5" height="1"/><rect x="51" y="58" width="5" height="1"/><rect x="695" y="58" width="5" height="1"/><rect x="158" y="40" width="1" height="5"/><rect x="158" y="184" width="1" height="5"/><rect x="266" y="40" width="1" height="5"/><rect x="266" y="184" width="1" height="5"/><rect x="375" y="40" width="1" height="5"/><rect x="375" y="184" width="1" height="5"/><rect x="483" y="40" width="1" height="5"/><rect x="483" y="184" width="1" height="5"/><rect x="591" y="40" width="1" height="5"/><rect x="591" y="184" width="1" height="5"/></svg>
<div class="t" style="right:733px;top:180px;text-align:right;">0</div>
<div class="t" style="right:733px;top:162px;text-align:right;">1</div>
<div class="t" style="right:733px;top:143px;text-align:right;">2</div>
<div class="t" style="right:733px;top:124px;text-align:right;">3</div>
<div class="t" style="right:733px;top:105px;text-align:right;">4</div>
<div class="t" style="right:733px;top:87px;text-align:right;">5</div>
<div class="t" style="right:733px;top:68px;text-align:right;">6</div>
<div class="t" style="right:733px;top:49px;text-align:right;">7</div>
<div class="t" style="right:733px;top:30px;text-align:right;">8</div>
<div class="t" style="left:-49.25px;width:200px;top:190px;text-align:center;letter-spacing:0.5px;">00:00</div>
<div class="t" style="left:58.75px;width:200px;top:190px;text-align:center;letter-spacing:0.5px;">04:00</div>
<div class="t" style="left:166.75px;width:200px;top:190px;text-align:center;letter-spacing:0.5px;">08:00</div>
<div class="t" style="left:275.75px;width:200px;top:190px;text-align:center;letter-spacing:0.5px;">12:00</div>
<div class="t" style="left:383.75px;width:200px;top:190px;text-align:center;letter-spacing:0.5px;">16:00</div>
<div class="t" style="left:491.75px;width:200px;top:190px;text-align:center;letter-spacing:0.5px;">20:00</div>
<div class="t" style="left:600.75px;width:200px;top:190px;text-align:center;letter-spacing:0.5px;">00:00</div>
<div class="t" style="left:275px;width:200px;top:208px;text-align:center;">Time (UTC)</div>
<div class="t rot" style="left:-20px;top:105px;width:100px;text-align:center">Height (km)</div>
<div class="t" style="left:57px;top:42px;font-weight:700;letter-spacing:0.34px;">Attenuated backscatter coefficient</div>
<div class="cbar" style="left:754px;top:39px"></div>
<div class="t" style="right:35.5px;top:31px;text-align:right;letter-spacing:1px;">10</div>
<div class="t" style="left:742px;top:28.5px;font-size:10px;letter-spacing:1.5px;">-4</div>
<div class="t" style="right:35.5px;top:81px;text-align:right;letter-spacing:1px;">10</div>
<div class="t" style="left:742px;top:78.5px;font-size:10px;letter-spacing:1.5px;">-5</div>
<div class="t" style="right:35.5px;top:131px;text-align:right;letter-spacing:1px;">10</div>
<div class="t" style="left:742px;top:128.5px;font-size:10px;letter-spacing:1.5px;">-6</div>
<div class="t" style="right:35.5px;top:181px;text-align:right;letter-spacing:1px;">10</div>
<div class="t" style="left:742px;top:178.5px;font-size:10px;letter-spacing:1.5px;">-7</div>
<div class="t rot" style="left:669px;top:104px;width:100px;text-align:center">m<sup>-1</sup> sr<sup>-1</sup></div>
<svg class="ov" width="780" height="420" style="left:0;top:0"><defs><linearGradient id="fb" x1="0" x2="0" y1="0" y2="1"><stop offset="1.4%" stop-color="#87b92d"/><stop offset="4.2%" stop-color="#8ab92f"/><stop offset="6.9%" stop-color="#87ba31"/><stop offset="9.7%" stop-color="#86bb30"/><stop offset="12.5%" stop-color="#83bf30"/><stop offset="15.3%" stop-color="#7cbe34"/><stop offset="18.1%" stop-color="#79b93a"/><stop offset="20.8%" stop-color="#75bb3e"/><stop offset="23.6%" stop-color="#70b941"/><stop offset="26.4%" stop-color="#69bf41"/><stop offset="29.2%" stop-color="#5ebd46"/><stop offset="31.9%" stop-color="#58bd48"/><stop offset="34.7%" stop-color="#55b751"/><stop offset="37.5%" stop-color="#53b556"/><stop offset="40.3%" stop-color="#49b05d"/><stop offset="43.1%" stop-color="#45ac62"/><stop offset="45.8%" stop-color="#3ca868"/><stop offset="48.6%" stop-color="#36a76c"/><stop offset="51.4%" stop-color="#319d77"/><stop offset="54.2%" stop-color="#2e9585"/><stop offset="56.9%" stop-color="#2d918b"/><stop offset="59.7%" stop-color="#2b8899"/><stop offset="62.5%" stop-color="#2d83a4"/><stop offset="65.3%" stop-color="#3380b0"/><stop offset="68.1%" stop-color="#3370be"/><stop offset="70.8%" stop-color="#3771c7"/><stop offset="73.6%" stop-color="#3b6ad1"/><stop offset="76.4%" stop-color="#3b5de1"/><stop offset="79.2%" stop-color="#4659ec"/><stop offset="81.9%" stop-color="#4b54f2"/><stop offset="84.7%" stop-color="#545af3"/><stop offset="87.5%" stop-color="#6266f1"/><stop offset="90.3%" stop-color="#5e62f2"/><stop offset="93.1%" stop-color="#5d60f3"/><stop offset="95.8%" stop-color="#4d4ef5"/><stop offset="98.6%" stop-color="#2b2bfb"/></linearGradient></defs><rect x="51" y="235" width="649" height="144" fill="url(#fb)"/></svg>
<svg class="ov" width="780" height="420" style="left:0;top:0"><defs><filter id="nz" filterUnits="userSpaceOnUse" x="51" y="235" width="649" height="144" color-interpolation-filters="sRGB">
<feTurbulence type="fractalNoise" baseFrequency="0.71" numOctaves="2" seed="7" result="t"/>
<feColorMatrix in="t" values="1 0 0 0 0 1 0 0 0 0 1 0 0 0 0 0 0 0 0 1" result="n0"/>
<feComponentTransfer in="n0" result="n"><feFuncR type="table" tableValues="0.0000 0.0000 0.0000 0.0000 0.0000 0.0000 0.0000 0.0000 0.0000 0.0000 0.0000 0.0000 0.0000 0.0025 0.0516 0.1045 0.1515 0.1968 0.2383 0.2762 0.3101 0.3422 0.3716 0.3995 0.4250 0.4497 0.4735 0.4969 0.5203 0.5438 0.5672 0.5908 0.6123 0.6388 0.6612 0.6823 0.7027 0.7222 0.7415 0.7601 0.7788 0.7976 0.8163 0.8357 0.8550 0.8751 0.8960 0.9175 0.9399 0.9624 0.9846 1.0000 1.0000 1.0000 1.0000 1.0000 1.0000 1.0000 1.0000 1.0000 1.0000 1.0000 1.0000 1.0000 1.0000"/><feFuncG type="table" tableValues="0.0000 0.0000 0.0000 0.0000 0.0000 0.0000 0.0000 0.0000 0.0000 0.0000 0.0000 0.0000 0.0000 0.0025 0.0516 0.1045 0.1515 0.1968 0.2383 0.2762 0.3101 0.3422 0.3716 0.3995 0.4250 0.4497 0.4735 0.4969 0.5203 0.5438 0.5672 0.5908 0.6123 0.6388 0.6612 0.6823 0.7027 0.7222 0.7415 0.7601 0.7788 0.7976 0.8163 0.8357 0.8550 0.8751 0.8960 0.9175 0.9399 0.9624 0.9846 1.0000 1.0000 1.0000 1.0000 1.0000 1.0000 1.0000 1.0000 1.0000 1.0000 1.0000 1.0000 1.0000 1.0000"/><feFuncB type="table" tableValues="0.0000 0.0000 0.0000 0.0000 0.0000 0.0000 0.0000 0.0000 0.0000 0.0000 0.0000 0.0000 0.0000 0.0025 0.0516 0.1045 0.1515 0.1968 0.2383 0.2762 0.3101 0.3422 0.3716 0.3995 0.4250 0.4497 0.4735 0.4969 0.5203 0.5438 0.5672 0.5908 0.6123 0.6388 0.6612 0.6823 0.7027 0.7222 0.7415 0.7601 0.7788 0.7976 0.8163 0.8357 0.8550 0.8751 0.8960 0.9175 0.9399 0.9624 0.9846 1.0000 1.0000 1.0000 1.0000 1.0000 1.0000 1.0000 1.0000 1.0000 1.0000 1.0000 1.0000 1.0000 1.0000"/></feComponentTransfer>
<feColorMatrix in="SourceGraphic" values="0 1 0 0 0 0 1 0 0 0 0 1 0 0 0 0 0 0 0 1" result="amp"/>
<feComposite in="amp" in2="n" operator="arithmetic" k1="1" k2="0" k3="0" k4="0" result="an"/>
<feColorMatrix in="SourceGraphic" values="1 0 0 0 0 1 0 0 0 0 1 0 0 0 0 0 0 0 0 1" result="base"/>
<feComposite in="base" in2="an" operator="arithmetic" k1="0" k2="1" k3="1.2" k4="-0.6" result="v"/>
<feComponentTransfer in="v" result="col"><feFuncR type="table" tableValues="0.957 0.806 0.755 0.653 0.569 0.491 0.414 0.346 0.288 0.230 0.172 0.114 0.064 0.018 0.000 0.000 0.000 0.000 0.000 0.000 0.000 0.000 0.000 0.000 0.000 0.000 0.000 0.000 0.000 0.000 0.000 0.105 0.285 0.460 0.615 0.770 0.909 1.000 1.000 1.000 1.000 1.000 1.000 1.000 1.000 1.000 1.000 1.000 1.000 1.000 1.000 1.000 0.948 0.886 0.812 0.749 0.685 0.624 0.563 0.533 0.502"/><feFuncG type="table" tableValues="0.957 0.806 0.755 0.653 0.569 0.491 0.414 0.346 0.288 0.230 0.172 0.114 0.064 0.018 0.032 0.112 0.228 0.313 0.390 0.468 0.534 0.593 0.632 0.677 0.736 0.805 0.868 0.916 0.958 0.994 1.000 1.000 1.000 1.000 1.000 1.000 1.000 0.990 0.889 0.809 0.736 0.674 0.613 0.551 0.490 0.428 0.366 0.303 0.234 0.137 0.062 0.003 0.000 0.000 0.000 0.000 0.000 0.000 0.000 0.000 0.000"/><feFuncB type="table" tableValues="0.894 0.883 0.909 0.935 0.941 0.941 0.941 0.951 0.971 0.988 1.000 1.000 1.000 1.000 0.986 0.948 0.890 0.832 0.777 0.739 0.700 0.661 0.604 0.540 0.462 0.369 0.286 0.222 0.135 0.019 0.000 0.000 0.000 0.000 0.000 0.000 0.000 0.000 0.000 0.000 0.000 0.000 0.000 0.000 0.000 0.000 0.000 0.000 0.000 0.000 0.000 0.000 0.055 0.118 0.192 0.255 0.319 0.380 0.441 0.487 0.533"/></feComponentTransfer>
<feColorMatrix in="t" values="0 1 0 0 0 0 1 0 0 0 0 1 0 0 0 0 0 0 0 1" result="g"/>
<feComponentTransfer in="g" result="u"><feFuncR type="table" tableValues="1.0000 1.0000 1.0000 1.0000 1.0000 1.0000 1.0000 1.0000 0.9999 0.9998 0.9996 0.9990 0.9981 0.9966 0.9942 0.9908 0.9858 0.9783 0.9686 0.9561 0.9410 0.9227 0.9016 0.8772 0.8499 0.8186 0.7836 0.7447 0.7028 0.6568 0.6073 0.5544 0.5036 0.4410 0.3887 0.3403 0.2951 0.2540 0.2165 0.1828 0.1519 0.1246 0.1002 0.0788 0.0606 0.0456 0.0329 0.0229 0.0151 0.0099 0.0061 0.0036 0.0021 0.0011 0.0006 0.0003 0.0001 0.0000 0.0000 0.0000 0.0000 0.0000 0.0000 0.0000 0.0000"/><feFuncG type="table" tableValues="1.0000 1.0000 1.0000 1.0000 1.0000 1.0000 1.0000 1.0000 0.9999 0.9998 0.9996 0.9990 0.9981 0.9966 0.9942 0.9908 0.9858 0.9783 0.9686 0.9561 0.9410 0.9227 0.9016 0.8772 0.8499 0.8186 0.7836 0.7447 0.7028 0.6568 0.6073 0.5544 0.5036 0.4410 0.3887 0.3403 0.2951 0.2540 0.2165 0.1828 0.1519 0.1246 0.1002 0.0788 0.0606 0.0456 0.0329 0.0229 0.0151 0.0099 0.0061 0.0036 0.0021 0.0011 0.0006 0.0003 0.0001 0.0000 0.0000 0.0000 0.0000 0.0000 0.0000 0.0000 0.0000"/><feFuncB type="table" tableValues="1.0000 1.0000 1.0000 1.0000 1.0000 1.0000 1.0000 1.0000 0.9999 0.9998 0.9996 0.9990 0.9981 0.9966 0.9942 0.9908 0.9858 0.9783 0.9686 0.9561 0.9410 0.9227 0.9016 0.8772 0.8499 0.8186 0.7836 0.7447 0.7028 0.6568 0.6073 0.5544 0.5036 0.4410 0.3887 0.3403 0.2951 0.2540 0.2165 0.1828 0.1519 0.1246 0.1002 0.0788 0.0606 0.0456 0.0329 0.0229 0.0151 0.0099 0.0061 0.0036 0.0021 0.0011 0.0006 0.0003 0.0001 0.0000 0.0000 0.0000 0.0000 0.0000 0.0000 0.0000 0.0000"/></feComponentTransfer>
<feColorMatrix in="SourceGraphic" values="0 0 1 0 0 0 0 1 0 0 0 0 1 0 0 0 0 0 0 1" result="pp"/>
<feComposite in="pp" in2="u" operator="arithmetic" k1="0" k2="0.5" k3="0.5" k4="0" result="w0"/>
<feComponentTransfer in="w0" result="mask"><feFuncR type="discrete" tableValues="0 1"/><feFuncG type="discrete" tableValues="0 1"/><feFuncB type="discrete" tableValues="0 1"/></feComponentTransfer>
<feColorMatrix in="mask" values="0 0 0 0 0 0 0 0 0 0 0 0 0 0 0 1 0 0 0 0" result="ma"/>
<feFlood flood-color="#f4f4e4" result="fw"/>
<feComposite in="fw" in2="ma" operator="in" result="wl"/>
<feComposite in="wl" in2="col" operator="over"/>
</filter><filter id="nz2" filterUnits="userSpaceOnUse" x="51" y="235" width="649" height="144" color-interpolation-filters="sRGB">
<feTurbulence type="fractalNoise" baseFrequency="0.71" numOctaves="2" seed="23" result="t"/>
<feColorMatrix in="t" values="1 0 0 0 0 1 0 0 0 0 1 0 0 0 0 0 0 0 0 1" result="n0"/>
<feComponentTransfer in="n0" result="n"><feFuncR type="table" tableValues="0.0000 0.0000 0.0000 0.0000 0.0000 0.0000 0.0000 0.0000 0.0000 0.0000 0.0000 0.0000 0.0000 0.0025 0.0516 0.1045 0.1515 0.1968 0.2383 0.2762 0.3101 0.3422 0.3716 0.3995 0.4250 0.4497 0.4735 0.4969 0.5203 0.5438 0.5672 0.5908 0.6123 0.6388 0.6612 0.6823 0.7027 0.7222 0.7415 0.7601 0.7788 0.7976 0.8163 0.8357 0.8550 0.8751 0.8960 0.9175 0.9399 0.9624 0.9846 1.0000 1.0000 1.0000 1.0000 1.0000 1.0000 1.0000 1.0000 1.0000 1.0000 1.0000 1.0000 1.0000 1.0000"/><feFuncG type="table" tableValues="0.0000 0.0000 0.0000 0.0000 0.0000 0.0000 0.0000 0.0000 0.0000 0.0000 0.0000 0.0000 0.0000 0.0025 0.0516 0.1045 0.1515 0.1968 0.2383 0.2762 0.3101 0.3422 0.3716 0.3995 0.4250 0.4497 0.4735 0.4969 0.5203 0.5438 0.5672 0.5908 0.6123 0.6388 0.6612 0.6823 0.7027 0.7222 0.7415 0.7601 0.7788 0.7976 0.8163 0.8357 0.8550 0.8751 0.8960 0.9175 0.9399 0.9624 0.9846 1.0000 1.0000 1.0000 1.0000 1.0000 1.0000 1.0000 1.0000 1.0000 1.0000 1.0000 1.0000 1.0000 1.0000"/><feFuncB type="table" tableValues="0.0000 0.0000 0.0000 0.0000 0.0000 0.0000 0.0000 0.0000 0.0000 0.0000 0.0000 0.0000 0.0000 0.0025 0.0516 0.1045 0.1515 0.1968 0.2383 0.2762 0.3101 0.3422 0.3716 0.3995 0.4250 0.4497 0.4735 0.4969 0.5203 0.5438 0.5672 0.5908 0.6123 0.6388 0.6612 0.6823 0.7027 0.7222 0.7415 0.7601 0.7788 0.7976 0.8163 0.8357 0.8550 0.8751 0.8960 0.9175 0.9399 0.9624 0.9846 1.0000 1.0000 1.0000 1.0000 1.0000 1.0000 1.0000 1.0000 1.0000 1.0000 1.0000 1.0000 1.0000 1.0000"/></feComponentTransfer>
<feColorMatrix in="SourceGraphic" values="0 1 0 0 0 0 1 0 0 0 0 1 0 0 0 0 0 0 0 1" result="amp"/>
<feComposite in="amp" in2="n" operator="arithmetic" k1="1" k2="0" k3="0" k4="0" result="an"/>
<feColorMatrix in="SourceGraphic" values="1 0 0 0 0 1 0 0 0 0 1 0 0 0 0 0 0 0 0 1" result="base"/>
<feComposite in="base" in2="an" operator="arithmetic" k1="0" k2="1" k3="1.2" k4="-0.6" result="v"/>
<feComponentTransfer in="v" result="col"><feFuncR type="table" tableValues="0.957 0.806 0.755 0.653 0.569 0.491 0.414 0.346 0.288 0.230 0.172 0.114 0.064 0.018 0.000 0.000 0.000 0.000 0.000 0.000 0.000 0.000 0.000 0.000 0.000 0.000 0.000 0.000 0.000 0.000 0.000 0.105 0.285 0.460 0.615 0.770 0.909 1.000 1.000 1.000 1.000 1.000 1.000 1.000 1.000 1.000 1.000 1.000 1.000 1.000 1.000 1.000 0.948 0.886 0.812 0.749 0.685 0.624 0.563 0.533 0.502"/><feFuncG type="table" tableValues="0.957 0.806 0.755 0.653 0.569 0.491 0.414 0.346 0.288 0.230 0.172 0.114 0.064 0.018 0.032 0.112 0.228 0.313 0.390 0.468 0.534 0.593 0.632 0.677 0.736 0.805 0.868 0.916 0.958 0.994 1.000 1.000 1.000 1.000 1.000 1.000 1.000 0.990 0.889 0.809 0.736 0.674 0.613 0.551 0.490 0.428 0.366 0.303 0.234 0.137 0.062 0.003 0.000 0.000 0.000 0.000 0.000 0.000 0.000 0.000 0.000"/><feFuncB type="table" tableValues="0.894 0.883 0.909 0.935 0.941 0.941 0.941 0.951 0.971 0.988 1.000 1.000 1.000 1.000 0.986 0.948 0.890 0.832 0.777 0.739 0.700 0.661 0.604 0.540 0.462 0.369 0.286 0.222 0.135 0.019 0.000 0.000 0.000 0.000 0.000 0.000 0.000 0.000 0.000 0.000 0.000 0.000 0.000 0.000 0.000 0.000 0.000 0.000 0.000 0.000 0.000 0.000 0.055 0.118 0.192 0.255 0.319 0.380 0.441 0.487 0.533"/></feComponentTransfer>
<feColorMatrix in="t" values="0 1 0 0 0 0 1 0 0 0 0 1 0 0 0 0 0 0 0 1" result="g"/>
<feComponentTransfer in="g" result="u"><feFuncR type="table" tableValues="1.0000 1.0000 1.0000 1.0000 1.0000 1.0000 1.0000 1.0000 0.9999 0.9998 0.9996 0.9990 0.9981 0.9966 0.9942 0.9908 0.9858 0.9783 0.9686 0.9561 0.9410 0.9227 0.9016 0.8772 0.8499 0.8186 0.7836 0.7447 0.7028 0.6568 0.6073 0.5544 0.5036 0.4410 0.3887 0.3403 0.2951 0.2540 0.2165 0.1828 0.1519 0.1246 0.1002 0.0788 0.0606 0.0456 0.0329 0.0229 0.0151 0.0099 0.0061 0.0036 0.0021 0.0011 0.0006 0.0003 0.0001 0.0000 0.0000 0.0000 0.0000 0.0000 0.0000 0.0000 0.0000"/><feFuncG type="table" tableValues="1.0000 1.0000 1.0000 1.0000 1.0000 1.0000 1.0000 1.0000 0.9999 0.9998 0.9996 0.9990 0.9981 0.9966 0.9942 0.9908 0.9858 0.9783 0.9686 0.9561 0.9410 0.9227 0.9016 0.8772 0.8499 0.8186 0.7836 0.7447 0.7028 0.6568 0.6073 0.5544 0.5036 0.4410 0.3887 0.3403 0.2951 0.2540 0.2165 0.1828 0.1519 0.1246 0.1002 0.0788 0.0606 0.0456 0.0329 0.0229 0.0151 0.0099 0.0061 0.0036 0.0021 0.0011 0.0006 0.0003 0.0001 0.0000 0.0000 0.0000 0.0000 0.0000 0.0000 0.0000 0.0000"/><feFuncB type="table" tableValues="1.0000 1.0000 1.0000 1.0000 1.0000 1.0000 1.0000 1.0000 0.9999 0.9998 0.9996 0.9990 0.9981 0.9966 0.9942 0.9908 0.9858 0.9783 0.9686 0.9561 0.9410 0.9227 0.9016 0.8772 0.8499 0.8186 0.7836 0.7447 0.7028 0.6568 0.6073 0.5544 0.5036 0.4410 0.3887 0.3403 0.2951 0.2540 0.2165 0.1828 0.1519 0.1246 0.1002 0.0788 0.0606 0.0456 0.0329 0.0229 0.0151 0.0099 0.0061 0.0036 0.0021 0.0011 0.0006 0.0003 0.0001 0.0000 0.0000 0.0000 0.0000 0.0000 0.0000 0.0000 0.0000"/></feComponentTransfer>
<feColorMatrix in="SourceGraphic" values="0 0 1 0 0 0 0 1 0 0 0 0 1 0 0 0 0 0 0 1" result="pp"/>
<feComposite in="pp" in2="u" operator="arithmetic" k1="0" k2="0.5" k3="0.5" k4="0" result="w0"/>
<feComponentTransfer in="w0" result="mask"><feFuncR type="discrete" tableValues="0 1"/><feFuncG type="discrete" tableValues="0 1"/><feFuncB type="discrete" tableValues="0 1"/></feComponentTransfer>
<feColorMatrix in="mask" values="0 0 0 0 0 0 0 0 0 0 0 0 0 0 0 1 0 0 0 0" result="ma"/>
<feComposite in="col" in2="ma" operator="in"/>
</filter><linearGradient id="g0" gradientUnits="userSpaceOnUse" x1="51" x2="700" y1="0" y2="0"><stop offset="0.0%" stop-color="#b49b03"/><stop offset="4.0%" stop-color="#b49b03"/><stop offset="8.2%" stop-color="#b49b03"/><stop offset="12.4%" stop-color="#b49b03"/><stop offset="16.5%" stop-color="#b69b03"/><stop offset="20.7%" stop-color="#b99b03"/><stop offset="24.9%" stop-color="#bc9b03"/><stop offset="29.1%" stop-color="#c09b03"/><stop offset="33.2%" stop-color="#c49b03"/><stop offset="37.4%" stop-color="#c69b03"/><stop offset="41.6%" stop-color="#c99b03"/><stop offset="45.7%" stop-color="#c99b03"/><stop offset="49.9%" stop-color="#c99b03"/><stop offset="54.1%" stop-color="#c69b03"/><stop offset="58.3%" stop-color="#c49b03"/><stop offset="62.4%" stop-color="#c09b03"/><stop offset="66.6%" stop-color="#bc9b03"/><stop offset="75.0%" stop-color="#b49b03"/><stop offset="83.3%" stop-color="#b49b03"/><stop offset="91.7%" stop-color="#b49b03"/><stop offset="99.8%" stop-color="#b49b03"/></linearGradient><linearGradient id="g1" gradientUnits="userSpaceOnUse" x1="51" x2="700" y1="0" y2="0"><stop offset="0.0%" stop-color="#b49b03"/><stop offset="4.0%" stop-color="#b49b03"/><stop offset="8.2%" stop-color="#b49b03"/><stop offset="12.4%" stop-color="#b49b03"/><stop offset="16.5%" stop-color="#b69b03"/><stop offset="20.7%" stop-color="#b99b03"/><stop offset="24.9%" stop-color="#bc9b03"/><stop offset="29.1%" stop-color="#c09b03"/><stop offset="33.2%" stop-color="#c39b03"/><stop offset="37.4%" stop-color="#c69b03"/><stop offset="41.6%" stop-color="#c89b03"/><stop offset="45.7%" stop-color="#c89b03"/><stop offset="49.9%" stop-color="#c89b03"/><stop offset="54.1%" stop-color="#c69b03"/><stop offset="58.3%" stop-color="#c39b03"/><stop offset="62.4%" stop-color="#c09b03"/><stop offset="66.6%" stop-color="#bc9b03"/><stop offset="75.0%" stop-color="#b49b03"/><stop offset="83.3%" stop-color="#b49b03"/><stop offset="91.7%" stop-color="#b49b03"/><stop offset="99.8%" stop-color="#b49b03"/></linearGradient><linearGradient id="g2" gradientUnits="userSpaceOnUse" x1="51" x2="700" y1="0" y2="0"><stop offset="0.0%" stop-color="#b49b03"/><stop offset="4.0%" stop-color="#b49b03"/><stop offset="8.2%" stop-color="#b49b03"/><stop offset="12.4%" stop-color="#b49b03"/><stop offset="16.5%" stop-color="#b59b03"/><stop offset="20.7%" stop-color="#b89b03"/><stop offset="24.9%" stop-color="#bb9b03"/><stop offset="29.1%" stop-color="#bf9b03"/><stop offset="33.2%" stop-color="#c39b03"/><stop offset="37.4%" stop-color="#c59b03"/><stop offset="41.6%" stop-color="#c89b03"/><stop offset="45.7%" stop-color="#c89b03"/><stop offset="49.9%" stop-color="#c89b03"/><stop offset="54.1%" stop-color="#c59b03"/><stop offset="58.3%" stop-color="#c39b03"/><stop offset="62.4%" stop-color="#bf9b03"/><stop offset="66.6%" stop-color="#bb9b03"/><stop offset="75.0%" stop-color="#b49b03"/><stop offset="83.3%" stop-color="#b49b03"/><stop offset="91.7%" stop-color="#b49b03"/><stop offset="99.8%" stop-color="#b49b03"/></linearGradient><linearGradient id="g3" gradientUnits="userSpaceOnUse" x1="51" x2="700" y1="0" y2="0"><stop offset="0.0%" stop-color="#b39b03"/><stop offset="4.0%" stop-color="#b39b03"/><stop offset="8.2%" stop-color="#b39b03"/><stop offset="12.4%" stop-color="#b39b03"/><stop offset="16.5%" stop-color="#b59b03"/><stop offset="20.7%" stop-color="#b89b03"/><stop offset="24.9%" stop-color="#bb9b03"/><stop offset="29.1%" stop-color="#bf9b03"/><stop offset="33.2%" stop-color="#c39b03"/><stop offset="37.4%" stop-color="#c59b03"/><stop offset="41.6%" stop-color="#c89b03"/><stop offset="45.7%" stop-color="#c89b03"/><stop offset="49.9%" stop-color="#c89b03"/><stop offset="54.1%" stop-color="#c59b03"/><stop offset="58.3%" stop-color="#c39b03"/><stop offset="62.4%" stop-color="#bf9b03"/><stop offset="66.6%" stop-color="#bb9b03"/><stop offset="75.0%" stop-color="#b39b03"/><stop offset="83.3%" stop-color="#b39b03"/><stop offset="91.7%" stop-color="#b39b03"/><stop offset="99.8%" stop-color="#b39b03"/></linearGradient><linearGradient id="g4" gradientUnits="userSpaceOnUse" x1="51" x2="700" y1="0" y2="0"><stop offset="0.0%" stop-color="#b39b03"/><stop offset="4.0%" stop-color="#b39b03"/><stop offset="8.2%" stop-color="#b39b03"/><stop offset="12.4%" stop-color="#b39b03"/><stop offset="16.5%" stop-color="#b49b03"/><stop offset="20.7%" stop-color="#b79b03"/><stop offset="24.9%" stop-color="#bb9b03"/><stop offset="29.1%" stop-color="#be9b03"/><stop offset="33.2%" stop-color="#c29b03"/><stop offset="37.4%" stop-color="#c59b03"/><stop offset="41.6%" stop-color="#c79b03"/><stop offset="45.7%" stop-color="#c79b03"/><stop offset="49.9%" stop-color="#c79b03"/><stop offset="54.1%" stop-color="#c59b03"/><stop offset="58.3%" stop-color="#c29b03"/><stop offset="62.4%" stop-color="#be9b03"/><stop offset="66.6%" stop-color="#bb9b03"/><stop offset="75.0%" stop-color="#b39b03"/><stop offset="83.3%" stop-color="#b39b03"/><stop offset="91.7%" stop-color="#b39b03"/><stop offset="99.8%" stop-color="#b39b03"/></linearGradient><linearGradient id="g5" gradientUnits="userSpaceOnUse" x1="51" x2="700" y1="0" y2="0"><stop offset="0.0%" stop-color="#b29b03"/><stop offset="4.0%" stop-color="#b29b03"/><stop offset="8.2%" stop-color="#b29b03"/><stop offset="12.4%" stop-color="#b29b03"/><stop offset="16.5%" stop-color="#b49b03"/><stop offset="20.7%" stop-color="#b79b03"/><stop offset="24.9%" stop-color="#ba9b03"/><stop offset="29.1%" stop-color="#be9b03"/><stop offset="33.2%" stop-color="#c29b03"/><stop offset="37.4%" stop-color="#c49b03"/><stop offset="41.6%" stop-color="#c79b03"/><stop offset="45.7%" stop-color="#c79b03"/><stop offset="49.9%" stop-color="#c79b03"/><stop offset="54.1%" stop-color="#c49b03"/><stop offset="58.3%" stop-color="#c29b03"/><stop offset="62.4%" stop-color="#be9b03"/><stop offset="66.6%" stop-color="#ba9b03"/><stop offset="75.0%" stop-color="#b29b03"/><stop offset="83.3%" stop-color="#b29b03"/><stop offset="91.7%" stop-color="#b29b03"/><stop offset="99.8%" stop-color="#b29b03"/></linearGradient><linearGradient id="g6" gradientUnits="userSpaceOnUse" x1="51" x2="700" y1="0" y2="0"><stop offset="0.0%" stop-color="#b29b03"/><stop offset="4.0%" stop-color="#b29b03"/><stop offset="8.2%" stop-color="#b29b03"/><stop offset="12.4%" stop-color="#b29b03"/><stop offset="16.5%" stop-color="#b49b03"/><stop offset="20.7%" stop-color="#b79b03"/><stop offset="24.9%" stop-color="#ba9b03"/><stop offset="29.1%" stop-color="#be9b03"/><stop offset="33.2%" stop-color="#c19b03"/><stop offset="37.4%" stop-color="#c49b03"/><stop offset="41.6%" stop-color="#c79b03"/><stop offset="45.7%" stop-color="#c79b03"/><stop offset="49.9%" stop-color="#c79b03"/><stop offset="54.1%" stop-color="#c49b03"/><stop offset="58.3%" stop-color="#c19b03"/><stop offset="62.4%" stop-color="#be9b03"/><stop offset="66.6%" stop-color="#ba9b03"/><stop offset="75.0%" stop-color="#b29b03"/><stop offset="83.3%" stop-color="#b29b03"/><stop offset="91.7%" stop-color="#b29b03"/><stop offset="99.8%" stop-color="#b29b03"/></linearGradient><linearGradient id="g7" gradientUnits="userSpaceOnUse" x1="51" x2="700" y1="0" y2="0"><stop offset="0.0%" stop-color="#b29a03"/><stop offset="4.0%" stop-color="#b29a03"/><stop offset="8.2%" stop-color="#b29a03"/><stop offset="12.4%" stop-color="#b29a03"/><stop offset="16.5%" stop-color="#b49a03"/><stop offset="20.7%" stop-color="#b79a03"/><stop offset="24.9%" stop-color="#ba9a03"/><stop offset="29.1%" stop-color="#be9a03"/><stop offset="33.2%" stop-color="#c29a03"/><stop offset="37.4%" stop-color="#c49a03"/><stop offset="41.6%" stop-color="#c79a03"/><stop offset="45.7%" stop-color="#c79a03"/><stop offset="49.9%" stop-color="#c79a03"/><stop offset="54.1%" stop-color="#c49a03"/><stop offset="58.3%" stop-color="#c29a03"/><stop offset="62.4%" stop-color="#be9a03"/><stop offset="66.6%" stop-color="#ba9a03"/><stop offset="75.0%" stop-color="#b29a03"/><stop offset="83.3%" stop-color="#b29a03"/><stop offset="91.7%" stop-color="#b29a03"/><stop offset="99.8%" stop-color="#b29a03"/></linearGradient><linearGradient id="g8" gradientUnits="userSpaceOnUse" x1="51" x2="700" y1="0" y2="0"><stop offset="0.0%" stop-color="#b29a03"/><stop offset="4.0%" stop-color="#b29a03"/><stop offset="8.2%" stop-color="#b29a03"/><stop offset="12.4%" stop-color="#b29a03"/><stop offset="16.5%" stop-color="#b49a03"/><stop offset="20.7%" stop-color="#b79a03"/><stop offset="24.9%" stop-color="#ba9a03"/><stop offset="29.1%" stop-color="#be9a03"/><stop offset="33.2%" stop-color="#c29a03"/><stop offset="37.4%" stop-color="#c49a03"/><stop offset="41.6%" stop-color="#c79a03"/><stop offset="45.7%" stop-color="#c79a03"/><stop offset="49.9%" stop-color="#c79a03"/><stop offset="54.1%" stop-color="#c49a03"/><stop offset="58.3%" stop-color="#c29a03"/><stop offset="62.4%" stop-color="#be9a03"/><stop offset="66.6%" stop-color="#ba9a03"/><stop offset="75.0%" stop-color="#b29a03"/><stop offset="83.3%" stop-color="#b29a03"/><stop offset="91.7%" stop-color="#b29a03"/><stop offset="99.8%" stop-color="#b29a03"/></linearGradient><linearGradient id="g9" gradientUnits="userSpaceOnUse" x1="51" x2="700" y1="0" y2="0"><stop offset="0.0%" stop-color="#b29904"/><stop offset="4.0%" stop-color="#b29904"/><stop offset="8.2%" stop-color="#b29904"/><stop offset="12.4%" stop-color="#b29904"/><stop offset="16.5%" stop-color="#b49904"/><stop offset="20.7%" stop-color="#b79904"/><stop offset="24.9%" stop-color="#ba9904"/><stop offset="29.1%" stop-color="#be9904"/><stop offset="33.2%" stop-color="#c29904"/><stop offset="37.4%" stop-color="#c49904"/><stop offset="41.6%" stop-color="#c79904"/><stop offset="45.7%" stop-color="#c79904"/><stop offset="49.9%" stop-color="#c79904"/><stop offset="54.1%" stop-color="#c49904"/><stop offset="58.3%" stop-color="#c29904"/><stop offset="62.4%" stop-color="#be9904"/><stop offset="66.6%" stop-color="#ba9904"/><stop offset="75.0%" stop-color="#b29904"/><stop offset="83.3%" stop-color="#b29904"/><stop offset="91.7%" stop-color="#b29904"/><stop offset="99.8%" stop-color="#b29904"/></linearGradient><linearGradient id="g10" gradientUnits="userSpaceOnUse" x1="51" x2="700" y1="0" y2="0"><stop offset="0.0%" stop-color="#b29804"/><stop offset="4.0%" stop-color="#b29804"/><stop offset="8.2%" stop-color="#b29804"/><stop offset="12.4%" stop-color="#b29804"/><stop offset="16.5%" stop-color="#b49804"/><stop offset="20.7%" stop-color="#b79804"/><stop offset="24.9%" stop-color="#ba9804"/><stop offset="29.1%" stop-color="#be9804"/><stop offset="33.2%" stop-color="#c29804"/><stop offset="37.4%" stop-color="#c49804"/><stop offset="41.6%" stop-color="#c79804"/><stop offset="45.7%" stop-color="#c79804"/><stop offset="49.9%" stop-color="#c79804"/><stop offset="54.1%" stop-color="#c49804"/><stop offset="58.3%" stop-color="#c29804"/><stop offset="62.4%" stop-color="#be9804"/><stop offset="66.6%" stop-color="#ba9804"/><stop offset="75.0%" stop-color="#b29804"/><stop offset="83.3%" stop-color="#b29804"/><stop offset="91.7%" stop-color="#b29804"/><stop offset="99.8%" stop-color="#b29804"/></linearGradient><linearGradient id="g11" gradientUnits="userSpaceOnUse" x1="51" x2="700" y1="0" y2="0"><stop offset="0.0%" stop-color="#b29704"/><stop offset="4.0%" stop-color="#b29704"/><stop offset="8.2%" stop-color="#b29704"/><stop offset="12.4%" stop-color="#b29704"/><stop offset="16.5%" stop-color="#b49704"/><stop offset="20.7%" stop-color="#b79704"/><stop offset="24.9%" stop-color="#ba9704"/><stop offset="29.1%" stop-color="#be9704"/><stop offset="33.2%" stop-color="#c29704"/><stop offset="37.4%" stop-color="#c49704"/><stop offset="41.6%" stop-color="#c79704"/><stop offset="45.7%" stop-color="#c79704"/><stop offset="49.9%" stop-color="#c79704"/><stop offset="54.1%" stop-color="#c49704"/><stop offset="58.3%" stop-color="#c19704"/><stop offset="62.4%" stop-color="#be9704"/><stop offset="66.6%" stop-color="#ba9704"/><stop offset="75.0%" stop-color="#b29704"/><stop offset="83.3%" stop-color="#b29704"/><stop offset="91.7%" stop-color="#b29704"/><stop offset="99.8%" stop-color="#b29704"/></linearGradient><linearGradient id="g12" gradientUnits="userSpaceOnUse" x1="51" x2="700" y1="0" y2="0"><stop offset="0.0%" stop-color="#b29605"/><stop offset="4.0%" stop-color="#b29605"/><stop offset="8.2%" stop-color="#b29605"/><stop offset="12.4%" stop-color="#b29605"/><stop offset="16.5%" stop-color="#b49605"/><stop offset="20.7%" stop-color="#b79605"/><stop offset="24.9%" stop-color="#ba9605"/><stop offset="29.1%" stop-color="#be9605"/><stop offset="33.2%" stop-color="#c19605"/><stop offset="37.4%" stop-color="#c49605"/><stop offset="41.6%" stop-color="#c69605"/><stop offset="45.7%" stop-color="#c69605"/><stop offset="49.9%" stop-color="#c69605"/><stop offset="54.1%" stop-color="#c39605"/><stop offset="58.3%" stop-color="#c19605"/><stop offset="62.4%" stop-color="#bd9605"/><stop offset="66.6%" stop-color="#b99605"/><stop offset="75.0%" stop-color="#b29605"/><stop offset="83.3%" stop-color="#b29605"/><stop offset="91.7%" stop-color="#b29605"/><stop offset="99.8%" stop-color="#b29605"/></linearGradient><linearGradient id="g13" gradientUnits="userSpaceOnUse" x1="51" x2="700" y1="0" y2="0"><stop offset="0.0%" stop-color="#b19505"/><stop offset="4.0%" stop-color="#b19505"/><stop offset="8.2%" stop-color="#b19505"/><stop offset="12.4%" stop-color="#b29505"/><stop offset="16.5%" stop-color="#b49505"/><stop offset="20.7%" stop-color="#b79505"/><stop offset="24.9%" stop-color="#ba9505"/><stop offset="29.1%" stop-color="#bd9505"/><stop offset="33.2%" stop-color="#c19505"/><stop offset="37.4%" stop-color="#c49505"/><stop offset="41.6%" stop-color="#c69505"/><stop offset="45.7%" stop-color="#c69505"/><stop offset="49.9%" stop-color="#c59505"/><stop offset="54.1%" stop-color="#c39505"/><stop offset="58.3%" stop-color="#c09505"/><stop offset="62.4%" stop-color="#bc9505"/><stop offset="66.6%" stop-color="#b99505"/><stop offset="75.0%" stop-color="#b29505"/><stop offset="83.3%" stop-color="#b19505"/><stop offset="91.7%" stop-color="#b19505"/><stop offset="99.8%" stop-color="#b19505"/></linearGradient><linearGradient id="g14" gradientUnits="userSpaceOnUse" x1="51" x2="700" y1="0" y2="0"><stop offset="0.0%" stop-color="#b19505"/><stop offset="4.0%" stop-color="#b19505"/><stop offset="8.2%" stop-color="#b19505"/><stop offset="12.4%" stop-color="#b19505"/><stop offset="16.5%" stop-color="#b49505"/><stop offset="20.7%" stop-color="#b79505"/><stop offset="24.9%" stop-color="#ba9505"/><stop offset="29.1%" stop-color="#bd9505"/><stop offset="33.2%" stop-color="#c19505"/><stop offset="37.4%" stop-color="#c39505"/><stop offset="41.6%" stop-color="#c69505"/><stop offset="45.7%" stop-color="#c59505"/><stop offset="49.9%" stop-color="#c59505"/><stop offset="54.1%" stop-color="#c29505"/><stop offset="58.3%" stop-color="#bf9505"/><stop offset="62.4%" stop-color="#bc9505"/><stop offset="66.6%" stop-color="#b99505"/><stop offset="75.0%" stop-color="#b29505"/><stop offset="83.3%" stop-color="#b19505"/><stop offset="91.7%" stop-color="#b19505"/><stop offset="99.8%" stop-color="#b19505"/></linearGradient><linearGradient id="g15" gradientUnits="userSpaceOnUse" x1="51" x2="700" y1="0" y2="0"><stop offset="0.0%" stop-color="#b09406"/><stop offset="4.0%" stop-color="#b09406"/><stop offset="8.2%" stop-color="#b09406"/><stop offset="12.4%" stop-color="#b19406"/><stop offset="16.5%" stop-color="#b49406"/><stop offset="20.7%" stop-color="#b79406"/><stop offset="24.9%" stop-color="#ba9406"/><stop offset="29.1%" stop-color="#bd9406"/><stop offset="33.2%" stop-color="#c19406"/><stop offset="37.4%" stop-color="#c39406"/><stop offset="41.6%" stop-color="#c69406"/><stop offset="45.7%" stop-color="#c59406"/><stop offset="49.9%" stop-color="#c49406"/><stop offset="54.1%" stop-color="#c19406"/><stop offset="58.3%" stop-color="#be9406"/><stop offset="62.4%" stop-color="#bb9406"/><stop offset="66.6%" stop-color="#b89406"/><stop offset="75.0%" stop-color="#b19406"/><stop offset="83.3%" stop-color="#b09406"/><stop offset="91.7%" stop-color="#b09406"/><stop offset="99.8%" stop-color="#b09406"/></linearGradient><linearGradient id="g16" gradientUnits="userSpaceOnUse" x1="51" x2="700" y1="0" y2="0"><stop offset="0.0%" stop-color="#b09306"/><stop offset="4.0%" stop-color="#b09306"/><stop offset="8.2%" stop-color="#b09306"/><stop offset="12.4%" stop-color="#b19306"/><stop offset="16.5%" stop-color="#b49306"/><stop offset="20.7%" stop-color="#b79306"/><stop offset="24.9%" stop-color="#ba9306"/><stop offset="29.1%" stop-color="#bd9306"/><stop offset="33.2%" stop-color="#c09306"/><stop offset="37.4%" stop-color="#c39306"/><stop offset="41.6%" stop-color="#c59306"/><stop offset="45.7%" stop-color="#c49306"/><stop offset="49.9%" stop-color="#c39306"/><stop offset="54.1%" stop-color="#c19306"/><stop offset="58.3%" stop-color="#be9306"/><stop offset="62.4%" stop-color="#bb9306"/><stop offset="66.6%" stop-color="#b89306"/><stop offset="75.0%" stop-color="#b19306"/><stop offset="83.3%" stop-color="#b09306"/><stop offset="91.7%" stop-color="#b09306"/><stop offset="99.8%" stop-color="#b09306"/></linearGradient><linearGradient id="g17" gradientUnits="userSpaceOnUse" x1="51" x2="700" y1="0" y2="0"><stop offset="0.0%" stop-color="#af9206"/><stop offset="4.0%" stop-color="#af9206"/><stop offset="8.2%" stop-color="#af9206"/><stop offset="12.4%" stop-color="#b19206"/><stop offset="16.5%" stop-color="#b49206"/><stop offset="20.7%" stop-color="#b79206"/><stop offset="24.9%" stop-color="#b99206"/><stop offset="29.1%" stop-color="#bd9206"/><stop offset="33.2%" stop-color="#c09206"/><stop offset="37.4%" stop-color="#c39206"/><stop offset="41.6%" stop-color="#c59206"/><stop offset="45.7%" stop-color="#c49206"/><stop offset="49.9%" stop-color="#c39206"/><stop offset="54.1%" stop-color="#c09206"/><stop offset="58.3%" stop-color="#bd9206"/><stop offset="62.4%" stop-color="#ba9206"/><stop offset="66.6%" stop-color="#b79206"/><stop offset="75.0%" stop-color="#b19206"/><stop offset="83.3%" stop-color="#af9206"/><stop offset="91.7%" stop-color="#af9206"/><stop offset="99.8%" stop-color="#af9206"/></linearGradient><linearGradient id="g18" gradientUnits="userSpaceOnUse" x1="51" x2="700" y1="0" y2="0"><stop offset="0.0%" stop-color="#af9107"/><stop offset="4.0%" stop-color="#af9107"/><stop offset="8.2%" stop-color="#af9107"/><stop offset="12.4%" stop-color="#b09107"/><stop offset="16.5%" stop-color="#b49107"/><stop offset="20.7%" stop-color="#b79107"/><stop offset="24.9%" stop-color="#b99107"/><stop offset="29.1%" stop-color="#bd9107"/><stop offset="33.2%" stop-color="#c09107"/><stop offset="37.4%" stop-color="#c29107"/><stop offset="41.6%" stop-color="#c59107"/><stop offset="45.7%" stop-color="#c39107"/><stop offset="49.9%" stop-color="#c29107"/><stop offset="54.1%" stop-color="#bf9107"/><stop offset="58.3%" stop-color="#bc9107"/><stop offset="62.4%" stop-color="#b99107"/><stop offset="66.6%" stop-color="#b79107"/><stop offset="75.0%" stop-color="#b19107"/><stop offset="83.3%" stop-color="#af9107"/><stop offset="91.7%" stop-color="#af9107"/><stop offset="99.8%" stop-color="#af9107"/></linearGradient><linearGradient id="g19" gradientUnits="userSpaceOnUse" x1="51" x2="700" y1="0" y2="0"><stop offset="0.0%" stop-color="#ae9007"/><stop offset="4.0%" stop-color="#ae9007"/><stop offset="8.2%" stop-color="#ae9007"/><stop offset="12.4%" stop-color="#b09007"/><stop offset="16.5%" stop-color="#b49007"/><stop offset="20.7%" stop-color="#b79007"/><stop offset="24.9%" stop-color="#b99007"/><stop offset="29.1%" stop-color="#bc9007"/><stop offset="33.2%" stop-color="#c09007"/><stop offset="37.4%" stop-color="#c29007"/><stop offset="41.6%" stop-color="#c49007"/><stop offset="45.7%" stop-color="#c39007"/><stop offset="49.9%" stop-color="#c19007"/><stop offset="54.1%" stop-color="#be9007"/><stop offset="58.3%" stop-color="#bb9007"/><stop offset="62.4%" stop-color="#b99007"/><stop offset="66.6%" stop-color="#b69007"/><stop offset="75.0%" stop-color="#b19007"/><stop offset="83.3%" stop-color="#ae9007"/><stop offset="91.7%" stop-color="#ae9007"/><stop offset="99.8%" stop-color="#ae9007"/></linearGradient><linearGradient id="g20" gradientUnits="userSpaceOnUse" x1="51" x2="700" y1="0" y2="0"><stop offset="0.0%" stop-color="#ae9007"/><stop offset="4.0%" stop-color="#ae9007"/><stop offset="8.2%" stop-color="#ae9007"/><stop offset="12.4%" stop-color="#b09007"/><stop offset="16.5%" stop-color="#b49007"/><stop offset="20.7%" stop-color="#b79007"/><stop offset="24.9%" stop-color="#b99007"/><stop offset="29.1%" stop-color="#bc9007"/><stop offset="33.2%" stop-color="#bf9007"/><stop offset="37.4%" stop-color="#c29007"/><stop offset="41.6%" stop-color="#c49007"/><stop offset="45.7%" stop-color="#c29007"/><stop offset="49.9%" stop-color="#c19007"/><stop offset="54.1%" stop-color="#be9007"/><stop offset="58.3%" stop-color="#bb9007"/><stop offset="62.4%" stop-color="#b89007"/><stop offset="66.6%" stop-color="#b69007"/><stop offset="75.0%" stop-color="#b09007"/><stop offset="83.3%" stop-color="#ae9007"/><stop offset="91.7%" stop-color="#ae9007"/><stop offset="99.8%" stop-color="#ae9007"/></linearGradient><linearGradient id="g21" gradientUnits="userSpaceOnUse" x1="51" x2="700" y1="0" y2="0"><stop offset="0.0%" stop-color="#ae8f08"/><stop offset="4.0%" stop-color="#ae8f08"/><stop offset="8.2%" stop-color="#ae8f08"/><stop offset="12.4%" stop-color="#af8f08"/><stop offset="16.5%" stop-color="#b48f08"/><stop offset="20.7%" stop-color="#b68f08"/><stop offset="24.9%" stop-color="#b98f08"/><stop offset="29.1%" stop-color="#bc8f08"/><stop offset="33.2%" stop-color="#bf8f08"/><stop offset="37.4%" stop-color="#c18f08"/><stop offset="41.6%" stop-color="#c48f08"/><stop offset="45.7%" stop-color="#c28f08"/><stop offset="49.9%" stop-color="#c08f08"/><stop offset="54.1%" stop-color="#bd8f08"/><stop offset="58.3%" stop-color="#ba8f08"/><stop offset="62.4%" stop-color="#b88f08"/><stop offset="66.6%" stop-color="#b58f08"/><stop offset="75.0%" stop-color="#b08f08"/><stop offset="83.3%" stop-color="#ae8f08"/><stop offset="91.7%" stop-color="#ae8f08"/><stop offset="99.8%" stop-color="#ae8f08"/></linearGradient><linearGradient id="g22" gradientUnits="userSpaceOnUse" x1="51" x2="700" y1="0" y2="0"><stop offset="0.0%" stop-color="#ad8e08"/><stop offset="4.0%" stop-color="#ad8e08"/><stop offset="8.2%" stop-color="#ad8e08"/><stop offset="12.4%" stop-color="#af8e08"/><stop offset="16.5%" stop-color="#b48e08"/><stop offset="20.7%" stop-color="#b68e08"/><stop offset="24.9%" stop-color="#b98e08"/><stop offset="29.1%" stop-color="#bc8e08"/><stop offset="33.2%" stop-color="#bf8e08"/><stop offset="37.4%" stop-color="#c18e08"/><stop offset="41.6%" stop-color="#c48e08"/><stop offset="45.7%" stop-color="#c18e08"/><stop offset="49.9%" stop-color="#bf8e08"/><stop offset="54.1%" stop-color="#bc8e08"/><stop offset="58.3%" stop-color="#b98e08"/><stop offset="62.4%" stop-color="#b78e08"/><stop offset="66.6%" stop-color="#b58e08"/><stop offset="75.0%" stop-color="#b08e08"/><stop offset="83.3%" stop-color="#ad8e08"/><stop offset="91.7%" stop-color="#ad8e08"/><stop offset="99.8%" stop-color="#ad8e08"/></linearGradient><linearGradient id="g23" gradientUnits="userSpaceOnUse" x1="51" x2="700" y1="0" y2="0"><stop offset="0.0%" stop-color="#ad8d09"/><stop offset="4.0%" stop-color="#ad8d09"/><stop offset="8.2%" stop-color="#ad8d09"/><stop offset="12.4%" stop-color="#af8d09"/><stop offset="16.5%" stop-color="#b48d08"/><stop offset="20.7%" stop-color="#b68d08"/><stop offset="24.9%" stop-color="#b98d08"/><stop offset="29.1%" stop-color="#bc8d08"/><stop offset="33.2%" stop-color="#be8d08"/><stop offset="37.4%" stop-color="#c18d08"/><stop offset="41.6%" stop-color="#c38d08"/><stop offset="45.7%" stop-color="#c18d08"/><stop offset="49.9%" stop-color="#bf8d08"/><stop offset="54.1%" stop-color="#bc8d08"/><stop offset="58.3%" stop-color="#b88d08"/><stop offset="62.4%" stop-color="#b68d09"/><stop offset="66.6%" stop-color="#b48d09"/><stop offset="75.0%" stop-color="#b08d09"/><stop offset="83.3%" stop-color="#ad8d09"/><stop offset="91.7%" stop-color="#ad8d09"/><stop offset="99.8%" stop-color="#ad8d09"/></linearGradient><linearGradient id="g24" gradientUnits="userSpaceOnUse" x1="51" x2="700" y1="0" y2="0"><stop offset="0.0%" stop-color="#ac8c09"/><stop offset="4.0%" stop-color="#ac8c09"/><stop offset="8.2%" stop-color="#ac8c09"/><stop offset="12.4%" stop-color="#af8c09"/><stop offset="16.5%" stop-color="#b48c09"/><stop offset="20.7%" stop-color="#b68c09"/><stop offset="24.9%" stop-color="#b98c09"/><stop offset="29.1%" stop-color="#bc8c09"/><stop offset="33.2%" stop-color="#be8c09"/><stop offset="37.4%" stop-color="#c18c09"/><stop offset="41.6%" stop-color="#c38c09"/><stop offset="45.7%" stop-color="#c08c09"/><stop offset="49.9%" stop-color="#be8c09"/><stop offset="54.1%" stop-color="#bb8c09"/><stop offset="58.3%" stop-color="#b88c09"/><stop offset="62.4%" stop-color="#b68c09"/><stop offset="66.6%" stop-color="#b48c09"/><stop offset="75.0%" stop-color="#af8c09"/><stop offset="83.3%" stop-color="#ac8c09"/><stop offset="91.7%" stop-color="#ac8c09"/><stop offset="99.8%" stop-color="#ac8c09"/></linearGradient><linearGradient id="g25" gradientUnits="userSpaceOnUse" x1="51" x2="700" y1="0" y2="0"><stop offset="0.0%" stop-color="#ac8c0a"/><stop offset="4.0%" stop-color="#ac8c0a"/><stop offset="8.2%" stop-color="#ac8c0a"/><stop offset="12.4%" stop-color="#ae8c09"/><stop offset="16.5%" stop-color="#b48c09"/><stop offset="20.7%" stop-color="#b68c09"/><stop offset="24.9%" stop-color="#b98c09"/><stop offset="29.1%" stop-color="#bb8c09"/><stop offset="33.2%" stop-color="#be8c09"/><stop offset="37.4%" stop-color="#c08c09"/><stop offset="41.6%" stop-color="#c28c09"/><stop offset="45.7%" stop-color="#c08c09"/><stop offset="49.9%" stop-color="#bd8c09"/><stop offset="54.1%" stop-color="#ba8c09"/><stop offset="58.3%" stop-color="#b78c09"/><stop offset="62.4%" stop-color="#b58c09"/><stop offset="66.6%" stop-color="#b48c09"/><stop offset="75.0%" stop-color="#af8c09"/><stop offset="83.3%" stop-color="#ac8c0a"/><stop offset="91.7%" stop-color="#ac8c0a"/><stop offset="99.8%" stop-color="#ac8c0a"/></linearGradient><linearGradient id="g26" gradientUnits="userSpaceOnUse" x1="51" x2="700" y1="0" y2="0"><stop offset="0.0%" stop-color="#ac8b0a"/><stop offset="4.0%" stop-color="#ac8b0a"/><stop offset="8.2%" stop-color="#ac8b0a"/><stop offset="12.4%" stop-color="#ae8b0a"/><stop offset="16.5%" stop-color="#b48b0a"/><stop offset="20.7%" stop-color="#b68b0a"/><stop offset="24.9%" stop-color="#b88b0a"/><stop offset="29.1%" stop-color="#bb8b0a"/><stop offset="33.2%" stop-color="#bd8b0a"/><stop offset="37.4%" stop-color="#bf8b09"/><stop offset="41.6%" stop-color="#c18b09"/><stop offset="45.7%" stop-color="#bf8b09"/><stop offset="49.9%" stop-color="#bc8b0a"/><stop offset="54.1%" stop-color="#b98b0a"/><stop offset="58.3%" stop-color="#b68b0a"/><stop offset="62.4%" stop-color="#b58b0a"/><stop offset="66.6%" stop-color="#b38b0a"/><stop offset="75.0%" stop-color="#af8b0a"/><stop offset="83.3%" stop-color="#ac8b0a"/><stop offset="91.7%" stop-color="#ac8b0a"/><stop offset="99.8%" stop-color="#ac8b0a"/></linearGradient><linearGradient id="g27" gradientUnits="userSpaceOnUse" x1="51" x2="700" y1="0" y2="0"><stop offset="0.0%" stop-color="#ac8a0b"/><stop offset="4.0%" stop-color="#ac8a0b"/><stop offset="8.2%" stop-color="#ac8a0b"/><stop offset="12.4%" stop-color="#af8a0a"/><stop offset="16.5%" stop-color="#b48a0a"/><stop offset="20.7%" stop-color="#b68a0a"/><stop offset="24.9%" stop-color="#b88a0a"/><stop offset="29.1%" stop-color="#ba8a0a"/><stop offset="33.2%" stop-color="#bc8a0a"/><stop offset="37.4%" stop-color="#be8a0a"/><stop offset="41.6%" stop-color="#c08a0a"/><stop offset="45.7%" stop-color="#be8a0a"/><stop offset="49.9%" stop-color="#bb8a0a"/><stop offset="54.1%" stop-color="#b88a0a"/><stop offset="58.3%" stop-color="#b58a0a"/><stop offset="62.4%" stop-color="#b48a0a"/><stop offset="66.6%" stop-color="#b38a0a"/><stop offset="75.0%" stop-color="#af8a0a"/><stop offset="83.3%" stop-color="#ac8a0b"/><stop offset="91.7%" stop-color="#ac8a0b"/><stop offset="99.8%" stop-color="#ac8a0b"/></linearGradient><linearGradient id="g28" gradientUnits="userSpaceOnUse" x1="51" x2="700" y1="0" y2="0"><stop offset="0.0%" stop-color="#ac890b"/><stop offset="4.0%" stop-color="#ac890b"/><stop offset="8.2%" stop-color="#ac890b"/><stop offset="12.4%" stop-color="#af890b"/><stop offset="16.5%" stop-color="#b4890b"/><stop offset="20.7%" stop-color="#b6890b"/><stop offset="24.9%" stop-color="#b8890b"/><stop offset="29.1%" stop-color="#ba890a"/><stop offset="33.2%" stop-color="#bc890a"/><stop offset="37.4%" stop-color="#bd890a"/><stop offset="41.6%" stop-color="#bf890a"/><stop offset="45.7%" stop-color="#bd890a"/><stop offset="49.9%" stop-color="#ba890a"/><stop offset="54.1%" stop-color="#b7890b"/><stop offset="58.3%" stop-color="#b5890b"/><stop offset="62.4%" stop-color="#b4890b"/><stop offset="66.6%" stop-color="#b3890b"/><stop offset="75.0%" stop-color="#af890b"/><stop offset="83.3%" stop-color="#ac890b"/><stop offset="91.7%" stop-color="#ac890b"/><stop offset="99.8%" stop-color="#ac890b"/></linearGradient><linearGradient id="g29" gradientUnits="userSpaceOnUse" x1="51" x2="700" y1="0" y2="0"><stop offset="0.0%" stop-color="#ac880c"/><stop offset="4.0%" stop-color="#ac880c"/><stop offset="8.2%" stop-color="#ac880c"/><stop offset="12.4%" stop-color="#af880b"/><stop offset="16.5%" stop-color="#b4880b"/><stop offset="20.7%" stop-color="#b6880b"/><stop offset="24.9%" stop-color="#b7880b"/><stop offset="29.1%" stop-color="#b9880b"/><stop offset="33.2%" stop-color="#bb880b"/><stop offset="37.4%" stop-color="#bd880b"/><stop offset="41.6%" stop-color="#be880b"/><stop offset="45.7%" stop-color="#bc880b"/><stop offset="49.9%" stop-color="#b9880b"/><stop offset="54.1%" stop-color="#b7880b"/><stop offset="58.3%" stop-color="#b4880b"/><stop offset="62.4%" stop-color="#b3880b"/><stop offset="66.6%" stop-color="#b2880b"/><stop offset="75.0%" stop-color="#b0880b"/><stop offset="83.3%" stop-color="#ac880c"/><stop offset="91.7%" stop-color="#ac880c"/><stop offset="99.8%" stop-color="#ac880c"/></linearGradient><linearGradient id="g30" gradientUnits="userSpaceOnUse" x1="51" x2="700" y1="0" y2="0"><stop offset="0.0%" stop-color="#ac870c"/><stop offset="4.0%" stop-color="#ac870c"/><stop offset="8.2%" stop-color="#ac870c"/><stop offset="12.4%" stop-color="#af870c"/><stop offset="16.5%" stop-color="#b4870c"/><stop offset="20.7%" stop-color="#b6870c"/><stop offset="24.9%" stop-color="#b7870c"/><stop offset="29.1%" stop-color="#b9870b"/><stop offset="33.2%" stop-color="#bb870b"/><stop offset="37.4%" stop-color="#bc870b"/><stop offset="41.6%" stop-color="#be870b"/><stop offset="45.7%" stop-color="#bb870b"/><stop offset="49.9%" stop-color="#b9870b"/><stop offset="54.1%" stop-color="#b6870c"/><stop offset="58.3%" stop-color="#b4870c"/><stop offset="62.4%" stop-color="#b3870c"/><stop offset="66.6%" stop-color="#b2870c"/><stop offset="75.0%" stop-color="#b0870c"/><stop offset="83.3%" stop-color="#ac870c"/><stop offset="91.7%" stop-color="#ac870c"/><stop offset="99.8%" stop-color="#ac870c"/></linearGradient><linearGradient id="g31" gradientUnits="userSpaceOnUse" x1="51" x2="700" y1="0" y2="0"><stop offset="0.0%" stop-color="#ac870d"/><stop offset="4.0%" stop-color="#ac870d"/><stop offset="8.2%" stop-color="#ac870d"/><stop offset="12.4%" stop-color="#af870d"/><stop offset="16.5%" stop-color="#b4870c"/><stop offset="20.7%" stop-color="#b6870c"/><stop offset="24.9%" stop-color="#b7870c"/><stop offset="29.1%" stop-color="#b9870c"/><stop offset="33.2%" stop-color="#bb870c"/><stop offset="37.4%" stop-color="#bc870c"/><stop offset="41.6%" stop-color="#be870c"/><stop offset="45.7%" stop-color="#bc870c"/><stop offset="49.9%" stop-color="#b9870c"/><stop offset="54.1%" stop-color="#b6870c"/><stop offset="58.3%" stop-color="#b4870c"/><stop offset="62.4%" stop-color="#b3870c"/><stop offset="66.6%" stop-color="#b2870c"/><stop offset="75.0%" stop-color="#b0870d"/><stop offset="83.3%" stop-color="#ac870d"/><stop offset="91.7%" stop-color="#ac870d"/><stop offset="99.8%" stop-color="#ac870d"/></linearGradient><linearGradient id="g32" gradientUnits="userSpaceOnUse" x1="51" x2="700" y1="0" y2="0"><stop offset="0.0%" stop-color="#ac860d"/><stop offset="4.0%" stop-color="#ac860d"/><stop offset="8.2%" stop-color="#ac860d"/><stop offset="12.4%" stop-color="#af860d"/><stop offset="16.5%" stop-color="#b4860d"/><stop offset="20.7%" stop-color="#b6860d"/><stop offset="24.9%" stop-color="#b7860d"/><stop offset="29.1%" stop-color="#b9860c"/><stop offset="33.2%" stop-color="#bb860c"/><stop offset="37.4%" stop-color="#bc860c"/><stop offset="41.6%" stop-color="#be860c"/><stop offset="45.7%" stop-color="#bc860c"/><stop offset="49.9%" stop-color="#b9860c"/><stop offset="54.1%" stop-color="#b7860d"/><stop offset="58.3%" stop-color="#b4860d"/><stop offset="62.4%" stop-color="#b3860d"/><stop offset="66.6%" stop-color="#b2860d"/><stop offset="75.0%" stop-color="#b0860d"/><stop offset="83.3%" stop-color="#ac860d"/><stop offset="91.7%" stop-color="#ac860d"/><stop offset="99.8%" stop-color="#ac860d"/></linearGradient><linearGradient id="g33" gradientUnits="userSpaceOnUse" x1="51" x2="700" y1="0" y2="0"><stop offset="0.0%" stop-color="#ac850e"/><stop offset="4.0%" stop-color="#ac850e"/><stop offset="8.2%" stop-color="#ac850e"/><stop offset="12.4%" stop-color="#af850e"/><stop offset="16.5%" stop-color="#b4850d"/><stop offset="20.7%" stop-color="#b6850d"/><stop offset="24.9%" stop-color="#b7850d"/><stop offset="29.1%" stop-color="#b9850d"/><stop offset="33.2%" stop-color="#bb850d"/><stop offset="37.4%" stop-color="#bd850d"/><stop offset="41.6%" stop-color="#be850d"/><stop offset="45.7%" stop-color="#bc850d"/><stop offset="49.9%" stop-color="#b9850d"/><stop offset="54.1%" stop-color="#b7850d"/><stop offset="58.3%" stop-color="#b4850d"/><stop offset="62.4%" stop-color="#b3850d"/><stop offset="66.6%" stop-color="#b2850e"/><stop offset="75.0%" stop-color="#b0850e"/><stop offset="83.3%" stop-color="#ac850e"/><stop offset="91.7%" stop-color="#ac850e"/><stop offset="99.8%" stop-color="#ac850e"/></linearGradient><linearGradient id="g34" gradientUnits="userSpaceOnUse" x1="51" x2="700" y1="0" y2="0"><stop offset="0.0%" stop-color="#ac840f"/><stop offset="4.0%" stop-color="#ac840f"/><stop offset="8.2%" stop-color="#ac840f"/><stop offset="12.4%" stop-color="#af840e"/><stop offset="16.5%" stop-color="#b4840e"/><stop offset="20.7%" stop-color="#b6840e"/><stop offset="24.9%" stop-color="#b8840e"/><stop offset="29.1%" stop-color="#b9840e"/><stop offset="33.2%" stop-color="#bb840d"/><stop offset="37.4%" stop-color="#bd840d"/><stop offset="41.6%" stop-color="#be840d"/><stop offset="45.7%" stop-color="#bc840d"/><stop offset="49.9%" stop-color="#b9840e"/><stop offset="54.1%" stop-color="#b7840e"/><stop offset="58.3%" stop-color="#b4840e"/><stop offset="62.4%" stop-color="#b3840e"/><stop offset="66.6%" stop-color="#b2840e"/><stop offset="75.0%" stop-color="#b0840e"/><stop offset="83.3%" stop-color="#ac840f"/><stop offset="91.7%" stop-color="#ac840f"/><stop offset="99.8%" stop-color="#ac840f"/></linearGradient><linearGradient id="g35" gradientUnits="userSpaceOnUse" x1="51" x2="700" y1="0" y2="0"><stop offset="0.0%" stop-color="#ac830f"/><stop offset="4.0%" stop-color="#ac830f"/><stop offset="8.2%" stop-color="#ac830f"/><stop offset="12.4%" stop-color="#af830f"/><stop offset="16.5%" stop-color="#b4830e"/><stop offset="20.7%" stop-color="#b6830e"/><stop offset="24.9%" stop-color="#b7830e"/><stop offset="29.1%" stop-color="#b9830e"/><stop offset="33.2%" stop-color="#bb830e"/><stop offset="37.4%" stop-color="#bc830d"/><stop offset="41.6%" stop-color="#be830d"/><stop offset="45.7%" stop-color="#bc830e"/><stop offset="49.9%" stop-color="#b9830e"/><stop offset="54.1%" stop-color="#b6830e"/><stop offset="58.3%" stop-color="#b4830e"/><stop offset="62.4%" stop-color="#b3830e"/><stop offset="66.6%" stop-color="#b2830e"/><stop offset="75.0%" stop-color="#b0830f"/><stop offset="83.3%" stop-color="#ac830f"/><stop offset="91.7%" stop-color="#ac830f"/><stop offset="99.8%" stop-color="#ac830f"/></linearGradient><linearGradient id="g36" gradientUnits="userSpaceOnUse" x1="51" x2="700" y1="0" y2="0"><stop offset="0.0%" stop-color="#ac820f"/><stop offset="4.0%" stop-color="#ac820f"/><stop offset="8.2%" stop-color="#ac820f"/><stop offset="12.4%" stop-color="#af820f"/><stop offset="16.5%" stop-color="#b4820e"/><stop offset="20.7%" stop-color="#b5820e"/><stop offset="24.9%" stop-color="#b7820e"/><stop offset="29.1%" stop-color="#b9820e"/><stop offset="33.2%" stop-color="#bb820e"/><stop offset="37.4%" stop-color="#bc820e"/><stop offset="41.6%" stop-color="#be820e"/><stop offset="45.7%" stop-color="#bb820e"/><stop offset="49.9%" stop-color="#b9820e"/><stop offset="54.1%" stop-color="#b6820e"/><stop offset="58.3%" stop-color="#b4820e"/><stop offset="62.4%" stop-color="#b3820e"/><stop offset="66.6%" stop-color="#b2820f"/><stop offset="75.0%" stop-color="#b0820f"/><stop offset="83.3%" stop-color="#ac820f"/><stop offset="91.7%" stop-color="#ac820f"/><stop offset="99.8%" stop-color="#ac820f"/></linearGradient><linearGradient id="g37" gradientUnits="userSpaceOnUse" x1="51" x2="700" y1="0" y2="0"><stop offset="0.0%" stop-color="#ac800f"/><stop offset="4.0%" stop-color="#ac800f"/><stop offset="8.2%" stop-color="#ac800f"/><stop offset="12.4%" stop-color="#af800f"/><stop offset="16.5%" stop-color="#b4800f"/><stop offset="20.7%" stop-color="#b5800e"/><stop offset="24.9%" stop-color="#b7800e"/><stop offset="29.1%" stop-color="#b9800e"/><stop offset="33.2%" stop-color="#ba800e"/><stop offset="37.4%" stop-color="#bc800e"/><stop offset="41.6%" stop-color="#be800e"/><stop offset="45.7%" stop-color="#bb800e"/><stop offset="49.9%" stop-color="#b9800e"/><stop offset="54.1%" stop-color="#b6800e"/><stop offset="58.3%" stop-color="#b4800f"/><stop offset="62.4%" stop-color="#b3800f"/><stop offset="66.6%" stop-color="#b2800f"/><stop offset="75.0%" stop-color="#af800f"/><stop offset="83.3%" stop-color="#ac800f"/><stop offset="91.7%" stop-color="#ac800f"/><stop offset="99.8%" stop-color="#ac800f"/></linearGradient><linearGradient id="g38" gradientUnits="userSpaceOnUse" x1="51" x2="700" y1="0" y2="0"><stop offset="0.0%" stop-color="#ac7f10"/><stop offset="4.0%" stop-color="#ac7f10"/><stop offset="8.2%" stop-color="#ac7f10"/><stop offset="12.4%" stop-color="#ae7f0f"/><stop offset="16.5%" stop-color="#b37f0f"/><stop offset="20.7%" stop-color="#b57f0f"/><stop offset="24.9%" stop-color="#b77f0e"/><stop offset="29.1%" stop-color="#b97f0e"/><stop offset="33.2%" stop-color="#ba7f0e"/><stop offset="37.4%" stop-color="#bc7f0e"/><stop offset="41.6%" stop-color="#be7f0e"/><stop offset="45.7%" stop-color="#bb7f0e"/><stop offset="49.9%" stop-color="#b97f0e"/><stop offset="54.1%" stop-color="#b67f0f"/><stop offset="58.3%" stop-color="#b37f0f"/><stop offset="62.4%" stop-color="#b37f0f"/><stop offset="66.6%" stop-color="#b27f0f"/><stop offset="75.0%" stop-color="#af7f0f"/><stop offset="83.3%" stop-color="#ac7f10"/><stop offset="91.7%" stop-color="#ac7f10"/><stop offset="99.8%" stop-color="#ac7f10"/></linearGradient><linearGradient id="g39" gradientUnits="userSpaceOnUse" x1="51" x2="700" y1="0" y2="0"><stop offset="0.0%" stop-color="#ac7e11"/><stop offset="4.0%" stop-color="#ac7e11"/><stop offset="8.2%" stop-color="#ac7e11"/><stop offset="12.4%" stop-color="#ae7e10"/><stop offset="16.5%" stop-color="#b37e10"/><stop offset="20.7%" stop-color="#b57e0f"/><stop offset="24.9%" stop-color="#b77e0f"/><stop offset="29.1%" stop-color="#b87e0f"/><stop offset="33.2%" stop-color="#ba7e0f"/><stop offset="37.4%" stop-color="#bc7e0f"/><stop offset="41.6%" stop-color="#bd7e0f"/><stop offset="45.7%" stop-color="#bb7e0f"/><stop offset="49.9%" stop-color="#b87e0f"/><stop offset="54.1%" stop-color="#b67e0f"/><stop offset="58.3%" stop-color="#b37e10"/><stop offset="62.4%" stop-color="#b27e10"/><stop offset="66.6%" stop-color="#b27e10"/><stop offset="75.0%" stop-color="#af7e10"/><stop offset="83.3%" stop-color="#ac7e11"/><stop offset="91.7%" stop-color="#ac7e11"/><stop offset="99.8%" stop-color="#ac7e11"/></linearGradient><linearGradient id="g40" gradientUnits="userSpaceOnUse" x1="51" x2="700" y1="0" y2="0"><stop offset="0.0%" stop-color="#ab7d13"/><stop offset="4.0%" stop-color="#ab7d13"/><stop offset="8.2%" stop-color="#ab7d13"/><stop offset="12.4%" stop-color="#ae7d12"/><stop offset="16.5%" stop-color="#b37d12"/><stop offset="20.7%" stop-color="#b57d11"/><stop offset="24.9%" stop-color="#b67d11"/><stop offset="29.1%" stop-color="#b87d11"/><stop offset="33.2%" stop-color="#ba7d11"/><stop offset="37.4%" stop-color="#bc7d11"/><stop offset="41.6%" stop-color="#bd7d10"/><stop offset="45.7%" stop-color="#bb7d11"/><stop offset="49.9%" stop-color="#b87d11"/><stop offset="54.1%" stop-color="#b67d11"/><stop offset="58.3%" stop-color="#b37d12"/><stop offset="62.4%" stop-color="#b27d12"/><stop offset="66.6%" stop-color="#b17d12"/><stop offset="75.0%" stop-color="#af7d12"/><stop offset="83.3%" stop-color="#ab7d13"/><stop offset="91.7%" stop-color="#ab7d13"/><stop offset="99.8%" stop-color="#ab7d13"/></linearGradient><linearGradient id="g41" gradientUnits="userSpaceOnUse" x1="51" x2="700" y1="0" y2="0"><stop offset="0.0%" stop-color="#ab7b15"/><stop offset="4.0%" stop-color="#ab7b15"/><stop offset="8.2%" stop-color="#ab7b15"/><stop offset="12.4%" stop-color="#ae7b15"/><stop offset="16.5%" stop-color="#b37b14"/><stop offset="20.7%" stop-color="#b57b14"/><stop offset="24.9%" stop-color="#b67b13"/><stop offset="29.1%" stop-color="#b87b13"/><stop offset="33.2%" stop-color="#ba7b13"/><stop offset="37.4%" stop-color="#bb7b12"/><stop offset="41.6%" stop-color="#bd7b12"/><stop offset="45.7%" stop-color="#bb7b13"/><stop offset="49.9%" stop-color="#b87b13"/><stop offset="54.1%" stop-color="#b57b13"/><stop offset="58.3%" stop-color="#b37b14"/><stop offset="62.4%" stop-color="#b27b14"/><stop offset="66.6%" stop-color="#b17b14"/><stop offset="75.0%" stop-color="#af7b15"/><stop offset="83.3%" stop-color="#ab7b15"/><stop offset="91.7%" stop-color="#ab7b15"/><stop offset="99.8%" stop-color="#ab7b15"/></linearGradient><linearGradient id="g42" gradientUnits="userSpaceOnUse" x1="51" x2="700" y1="0" y2="0"><stop offset="0.0%" stop-color="#ab7a18"/><stop offset="4.0%" stop-color="#ab7a18"/><stop offset="8.2%" stop-color="#ab7a18"/><stop offset="12.4%" stop-color="#ae7a17"/><stop offset="16.5%" stop-color="#b37a16"/><stop offset="20.7%" stop-color="#b47a16"/><stop offset="24.9%" stop-color="#b67a15"/><stop offset="29.1%" stop-color="#b87a15"/><stop offset="33.2%" stop-color="#ba7a15"/><stop offset="37.4%" stop-color="#bb7a14"/><stop offset="41.6%" stop-color="#bd7a14"/><stop offset="45.7%" stop-color="#ba7a15"/><stop offset="49.9%" stop-color="#b87a15"/><stop offset="54.1%" stop-color="#b57a16"/><stop offset="58.3%" stop-color="#b37a16"/><stop offset="62.4%" stop-color="#b27a16"/><stop offset="66.6%" stop-color="#b17a17"/><stop offset="75.0%" stop-color="#af7a17"/><stop offset="83.3%" stop-color="#ab7a18"/><stop offset="91.7%" stop-color="#ab7a18"/><stop offset="99.8%" stop-color="#ab7a18"/></linearGradient><linearGradient id="g43" gradientUnits="userSpaceOnUse" x1="51" x2="700" y1="0" y2="0"><stop offset="0.0%" stop-color="#ab791b"/><stop offset="4.0%" stop-color="#ab791b"/><stop offset="8.2%" stop-color="#ab791b"/><stop offset="12.4%" stop-color="#ad791a"/><stop offset="16.5%" stop-color="#b37919"/><stop offset="20.7%" stop-color="#b47918"/><stop offset="24.9%" stop-color="#b67918"/><stop offset="29.1%" stop-color="#b87917"/><stop offset="33.2%" stop-color="#b97917"/><stop offset="37.4%" stop-color="#bb7917"/><stop offset="41.6%" stop-color="#bd7916"/><stop offset="45.7%" stop-color="#ba7917"/><stop offset="49.9%" stop-color="#b87917"/><stop offset="54.1%" stop-color="#b57918"/><stop offset="58.3%" stop-color="#b37919"/><stop offset="62.4%" stop-color="#b27919"/><stop offset="66.6%" stop-color="#b17919"/><stop offset="75.0%" stop-color="#ae791a"/><stop offset="83.3%" stop-color="#ab791b"/><stop offset="91.7%" stop-color="#ab791b"/><stop offset="99.8%" stop-color="#ab791b"/></linearGradient><linearGradient id="g44" gradientUnits="userSpaceOnUse" x1="51" x2="700" y1="0" y2="0"><stop offset="0.0%" stop-color="#a87b1e"/><stop offset="4.0%" stop-color="#a87b1e"/><stop offset="8.2%" stop-color="#a87b1e"/><stop offset="12.4%" stop-color="#aa7b1d"/><stop offset="16.5%" stop-color="#af7b1b"/><stop offset="20.7%" stop-color="#b17b1b"/><stop offset="24.9%" stop-color="#b37b1a"/><stop offset="29.1%" stop-color="#b47b1a"/><stop offset="33.2%" stop-color="#b67b19"/><stop offset="37.4%" stop-color="#b87b19"/><stop offset="41.6%" stop-color="#ba7b19"/><stop offset="45.7%" stop-color="#b77b19"/><stop offset="49.9%" stop-color="#b47b1a"/><stop offset="54.1%" stop-color="#b27b1b"/><stop offset="58.3%" stop-color="#af7b1b"/><stop offset="62.4%" stop-color="#ae7b1c"/><stop offset="66.6%" stop-color="#ae7b1c"/><stop offset="75.0%" stop-color="#ab7b1d"/><stop offset="83.3%" stop-color="#a87b1e"/><stop offset="91.7%" stop-color="#a87b1e"/><stop offset="99.8%" stop-color="#a87b1e"/></linearGradient><linearGradient id="g45" gradientUnits="userSpaceOnUse" x1="51" x2="700" y1="0" y2="0"><stop offset="0.0%" stop-color="#a37f21"/><stop offset="4.0%" stop-color="#a37f21"/><stop offset="8.2%" stop-color="#a37f21"/><stop offset="12.4%" stop-color="#a57f20"/><stop offset="16.5%" stop-color="#aa7f1e"/><stop offset="20.7%" stop-color="#ac7f1e"/><stop offset="24.9%" stop-color="#ae7f1d"/><stop offset="29.1%" stop-color="#af7f1d"/><stop offset="33.2%" stop-color="#b17f1c"/><stop offset="37.4%" stop-color="#b37f1c"/><stop offset="41.6%" stop-color="#b47f1b"/><stop offset="45.7%" stop-color="#b27f1c"/><stop offset="49.9%" stop-color="#af7f1d"/><stop offset="54.1%" stop-color="#ad7f1d"/><stop offset="58.3%" stop-color="#aa7f1e"/><stop offset="62.4%" stop-color="#a97f1f"/><stop offset="66.6%" stop-color="#a97f1f"/><stop offset="75.0%" stop-color="#a67f20"/><stop offset="83.3%" stop-color="#a37f21"/><stop offset="91.7%" stop-color="#a37f21"/><stop offset="99.8%" stop-color="#a37f21"/></linearGradient><linearGradient id="g46" gradientUnits="userSpaceOnUse" x1="51" x2="700" y1="0" y2="0"><stop offset="0.0%" stop-color="#9d8325"/><stop offset="4.0%" stop-color="#9d8325"/><stop offset="8.2%" stop-color="#9d8325"/><stop offset="12.4%" stop-color="#a08324"/><stop offset="16.5%" stop-color="#a58321"/><stop offset="20.7%" stop-color="#a78321"/><stop offset="24.9%" stop-color="#a98320"/><stop offset="29.1%" stop-color="#aa831f"/><stop offset="33.2%" stop-color="#ac831f"/><stop offset="37.4%" stop-color="#ae831e"/><stop offset="41.6%" stop-color="#af831e"/><stop offset="45.7%" stop-color="#ad831f"/><stop offset="49.9%" stop-color="#aa831f"/><stop offset="54.1%" stop-color="#a88320"/><stop offset="58.3%" stop-color="#a58321"/><stop offset="62.4%" stop-color="#a48322"/><stop offset="66.6%" stop-color="#a38322"/><stop offset="75.0%" stop-color="#a18323"/><stop offset="83.3%" stop-color="#9d8325"/><stop offset="91.7%" stop-color="#9d8325"/><stop offset="99.8%" stop-color="#9d8325"/></linearGradient><linearGradient id="g47" gradientUnits="userSpaceOnUse" x1="51" x2="700" y1="0" y2="0"><stop offset="0.0%" stop-color="#988729"/><stop offset="4.0%" stop-color="#988729"/><stop offset="8.2%" stop-color="#988729"/><stop offset="12.4%" stop-color="#9b8727"/><stop offset="16.5%" stop-color="#a08725"/><stop offset="20.7%" stop-color="#a28724"/><stop offset="24.9%" stop-color="#a38723"/><stop offset="29.1%" stop-color="#a58722"/><stop offset="33.2%" stop-color="#a78722"/><stop offset="37.4%" stop-color="#a98721"/><stop offset="41.6%" stop-color="#aa8720"/><stop offset="45.7%" stop-color="#a88721"/><stop offset="49.9%" stop-color="#a58722"/><stop offset="54.1%" stop-color="#a38724"/><stop offset="58.3%" stop-color="#a08725"/><stop offset="62.4%" stop-color="#9f8725"/><stop offset="66.6%" stop-color="#9e8725"/><stop offset="75.0%" stop-color="#9c8727"/><stop offset="83.3%" stop-color="#988729"/><stop offset="91.7%" stop-color="#988729"/><stop offset="99.8%" stop-color="#988729"/></linearGradient><linearGradient id="g48" gradientUnits="userSpaceOnUse" x1="51" x2="700" y1="0" y2="0"><stop offset="0.0%" stop-color="#918c2e"/><stop offset="4.0%" stop-color="#918c2e"/><stop offset="8.2%" stop-color="#918c2e"/><stop offset="12.4%" stop-color="#938c2c"/><stop offset="16.5%" stop-color="#988c29"/><stop offset="20.7%" stop-color="#9a8c29"/><stop offset="24.9%" stop-color="#9c8c28"/><stop offset="29.1%" stop-color="#9e8c27"/><stop offset="33.2%" stop-color="#9f8c26"/><stop offset="37.4%" stop-color="#a18c25"/><stop offset="41.6%" stop-color="#a38c25"/><stop offset="45.7%" stop-color="#a08c26"/><stop offset="49.9%" stop-color="#9e8c27"/><stop offset="54.1%" stop-color="#9b8c28"/><stop offset="58.3%" stop-color="#988c29"/><stop offset="62.4%" stop-color="#988c2a"/><stop offset="66.6%" stop-color="#978c2a"/><stop offset="75.0%" stop-color="#948c2c"/><stop offset="83.3%" stop-color="#918c2e"/><stop offset="91.7%" stop-color="#918c2e"/><stop offset="99.8%" stop-color="#918c2e"/></linearGradient><linearGradient id="g49" gradientUnits="userSpaceOnUse" x1="51" x2="700" y1="0" y2="0"><stop offset="0.0%" stop-color="#899233"/><stop offset="4.0%" stop-color="#899233"/><stop offset="8.2%" stop-color="#899233"/><stop offset="12.4%" stop-color="#8c9231"/><stop offset="16.5%" stop-color="#91922e"/><stop offset="20.7%" stop-color="#92922d"/><stop offset="24.9%" stop-color="#94922d"/><stop offset="29.1%" stop-color="#95922c"/><stop offset="33.2%" stop-color="#97922b"/><stop offset="37.4%" stop-color="#98922a"/><stop offset="41.6%" stop-color="#9a9229"/><stop offset="45.7%" stop-color="#98922a"/><stop offset="49.9%" stop-color="#95922c"/><stop offset="54.1%" stop-color="#93922d"/><stop offset="58.3%" stop-color="#91922e"/><stop offset="62.4%" stop-color="#90922f"/><stop offset="66.6%" stop-color="#8f922f"/><stop offset="75.0%" stop-color="#8d9231"/><stop offset="83.3%" stop-color="#899233"/><stop offset="91.7%" stop-color="#899233"/><stop offset="99.8%" stop-color="#899233"/></linearGradient><linearGradient id="g50" gradientUnits="userSpaceOnUse" x1="51" x2="700" y1="0" y2="0"><stop offset="0.0%" stop-color="#829738"/><stop offset="4.0%" stop-color="#829738"/><stop offset="8.2%" stop-color="#829738"/><stop offset="12.4%" stop-color="#849736"/><stop offset="16.5%" stop-color="#899733"/><stop offset="20.7%" stop-color="#8a9732"/><stop offset="24.9%" stop-color="#8c9731"/><stop offset="29.1%" stop-color="#8d9731"/><stop offset="33.2%" stop-color="#8e9730"/><stop offset="37.4%" stop-color="#90972f"/><stop offset="41.6%" stop-color="#91972e"/><stop offset="45.7%" stop-color="#8f972f"/><stop offset="49.9%" stop-color="#8d9731"/><stop offset="54.1%" stop-color="#8b9732"/><stop offset="58.3%" stop-color="#899733"/><stop offset="62.4%" stop-color="#889734"/><stop offset="66.6%" stop-color="#879734"/><stop offset="75.0%" stop-color="#859736"/><stop offset="83.3%" stop-color="#829738"/><stop offset="91.7%" stop-color="#829738"/><stop offset="99.8%" stop-color="#829738"/></linearGradient><linearGradient id="g51" gradientUnits="userSpaceOnUse" x1="51" x2="700" y1="0" y2="0"><stop offset="0.0%" stop-color="#7b9c3d"/><stop offset="4.0%" stop-color="#7b9c3d"/><stop offset="8.2%" stop-color="#7b9c3d"/><stop offset="12.4%" stop-color="#7d9c3b"/><stop offset="16.5%" stop-color="#819c38"/><stop offset="20.7%" stop-color="#829c37"/><stop offset="24.9%" stop-color="#839c36"/><stop offset="29.1%" stop-color="#859c36"/><stop offset="33.2%" stop-color="#869c35"/><stop offset="37.4%" stop-color="#879c34"/><stop offset="41.6%" stop-color="#899c33"/><stop offset="45.7%" stop-color="#879c34"/><stop offset="49.9%" stop-color="#859c36"/><stop offset="54.1%" stop-color="#839c37"/><stop offset="58.3%" stop-color="#819c38"/><stop offset="62.4%" stop-color="#809c39"/><stop offset="66.6%" stop-color="#7f9c39"/><stop offset="75.0%" stop-color="#7d9c3b"/><stop offset="83.3%" stop-color="#7b9c3d"/><stop offset="91.7%" stop-color="#7b9c3d"/><stop offset="99.8%" stop-color="#7b9c3d"/></linearGradient><linearGradient id="g52" gradientUnits="userSpaceOnUse" x1="51" x2="700" y1="0" y2="0"><stop offset="0.0%" stop-color="#729e42"/><stop offset="4.0%" stop-color="#729e42"/><stop offset="8.2%" stop-color="#729e42"/><stop offset="12.4%" stop-color="#749e41"/><stop offset="16.5%" stop-color="#789e3e"/><stop offset="20.7%" stop-color="#799e3d"/><stop offset="24.9%" stop-color="#7a9e3c"/><stop offset="29.1%" stop-color="#7c9e3b"/><stop offset="33.2%" stop-color="#7d9e3a"/><stop offset="37.4%" stop-color="#7e9e39"/><stop offset="41.6%" stop-color="#7f9e38"/><stop offset="45.7%" stop-color="#7d9e3a"/><stop offset="49.9%" stop-color="#7c9e3b"/><stop offset="54.1%" stop-color="#7a9e3c"/><stop offset="58.3%" stop-color="#789e3e"/><stop offset="62.4%" stop-color="#779e3e"/><stop offset="66.6%" stop-color="#779e3f"/><stop offset="75.0%" stop-color="#759e40"/><stop offset="83.3%" stop-color="#729e42"/><stop offset="91.7%" stop-color="#729e42"/><stop offset="99.8%" stop-color="#729e42"/></linearGradient><linearGradient id="g53" gradientUnits="userSpaceOnUse" x1="51" x2="700" y1="0" y2="0"><stop offset="0.0%" stop-color="#6aa147"/><stop offset="4.0%" stop-color="#6aa147"/><stop offset="8.2%" stop-color="#6aa147"/><stop offset="12.4%" stop-color="#6ca145"/><stop offset="16.5%" stop-color="#6fa143"/><stop offset="20.7%" stop-color="#70a142"/><stop offset="24.9%" stop-color="#71a141"/><stop offset="29.1%" stop-color="#72a140"/><stop offset="33.2%" stop-color="#74a13f"/><stop offset="37.4%" stop-color="#75a13f"/><stop offset="41.6%" stop-color="#76a13e"/><stop offset="45.7%" stop-color="#74a13f"/><stop offset="49.9%" stop-color="#72a140"/><stop offset="54.1%" stop-color="#71a141"/><stop offset="58.3%" stop-color="#6fa143"/><stop offset="62.4%" stop-color="#6fa143"/><stop offset="66.6%" stop-color="#6ea144"/><stop offset="75.0%" stop-color="#6ca145"/><stop offset="83.3%" stop-color="#6aa147"/><stop offset="91.7%" stop-color="#6aa147"/><stop offset="99.8%" stop-color="#6aa147"/></linearGradient><linearGradient id="g54" gradientUnits="userSpaceOnUse" x1="51" x2="700" y1="0" y2="0"><stop offset="0.0%" stop-color="#62a34c"/><stop offset="4.0%" stop-color="#62a34c"/><stop offset="8.2%" stop-color="#62a34c"/><stop offset="12.4%" stop-color="#63a34a"/><stop offset="16.5%" stop-color="#66a348"/><stop offset="20.7%" stop-color="#67a347"/><stop offset="24.9%" stop-color="#68a346"/><stop offset="29.1%" stop-color="#69a345"/><stop offset="33.2%" stop-color="#6aa345"/><stop offset="37.4%" stop-color="#6ba344"/><stop offset="41.6%" stop-color="#6ca343"/><stop offset="45.7%" stop-color="#6ba344"/><stop offset="49.9%" stop-color="#69a345"/><stop offset="54.1%" stop-color="#68a346"/><stop offset="58.3%" stop-color="#66a348"/><stop offset="62.4%" stop-color="#66a348"/><stop offset="66.6%" stop-color="#65a349"/><stop offset="75.0%" stop-color="#64a34a"/><stop offset="83.3%" stop-color="#62a34c"/><stop offset="91.7%" stop-color="#62a34c"/><stop offset="99.8%" stop-color="#62a34c"/></linearGradient><linearGradient id="g55" gradientUnits="userSpaceOnUse" x1="51" x2="700" y1="0" y2="0"><stop offset="0.0%" stop-color="#5ea04f"/><stop offset="4.0%" stop-color="#5ea04f"/><stop offset="8.2%" stop-color="#5ea04f"/><stop offset="12.4%" stop-color="#5fa04e"/><stop offset="16.5%" stop-color="#62a04c"/><stop offset="20.7%" stop-color="#63a04b"/><stop offset="24.9%" stop-color="#63a04a"/><stop offset="29.1%" stop-color="#64a049"/><stop offset="33.2%" stop-color="#65a049"/><stop offset="37.4%" stop-color="#66a048"/><stop offset="41.6%" stop-color="#67a047"/><stop offset="45.7%" stop-color="#66a048"/><stop offset="49.9%" stop-color="#64a049"/><stop offset="54.1%" stop-color="#63a04a"/><stop offset="58.3%" stop-color="#62a04c"/><stop offset="62.4%" stop-color="#61a04c"/><stop offset="66.6%" stop-color="#61a04c"/><stop offset="75.0%" stop-color="#60a04d"/><stop offset="83.3%" stop-color="#5ea04f"/><stop offset="91.7%" stop-color="#5ea04f"/><stop offset="99.8%" stop-color="#5ea04f"/></linearGradient><linearGradient id="g56" gradientUnits="userSpaceOnUse" x1="51" x2="700" y1="0" y2="0"><stop offset="0.0%" stop-color="#619251"/><stop offset="4.0%" stop-color="#619251"/><stop offset="8.2%" stop-color="#619251"/><stop offset="12.4%" stop-color="#629250"/><stop offset="16.5%" stop-color="#64924e"/><stop offset="20.7%" stop-color="#65924d"/><stop offset="24.9%" stop-color="#65924c"/><stop offset="29.1%" stop-color="#66924c"/><stop offset="33.2%" stop-color="#67924b"/><stop offset="37.4%" stop-color="#68924b"/><stop offset="41.6%" stop-color="#68924a"/><stop offset="45.7%" stop-color="#67924b"/><stop offset="49.9%" stop-color="#66924c"/><stop offset="54.1%" stop-color="#65924d"/><stop offset="58.3%" stop-color="#64924e"/><stop offset="62.4%" stop-color="#63924e"/><stop offset="66.6%" stop-color="#63924e"/><stop offset="75.0%" stop-color="#62924f"/><stop offset="83.3%" stop-color="#619251"/><stop offset="91.7%" stop-color="#619251"/><stop offset="99.8%" stop-color="#619251"/></linearGradient><linearGradient id="g57" gradientUnits="userSpaceOnUse" x1="51" x2="700" y1="0" y2="0"><stop offset="0.0%" stop-color="#638452"/><stop offset="4.0%" stop-color="#638452"/><stop offset="8.2%" stop-color="#638452"/><stop offset="12.4%" stop-color="#648451"/><stop offset="16.5%" stop-color="#668450"/><stop offset="20.7%" stop-color="#67844f"/><stop offset="24.9%" stop-color="#67844f"/><stop offset="29.1%" stop-color="#68844e"/><stop offset="33.2%" stop-color="#68844e"/><stop offset="37.4%" stop-color="#69844d"/><stop offset="41.6%" stop-color="#6a844d"/><stop offset="45.7%" stop-color="#69844e"/><stop offset="49.9%" stop-color="#68844e"/><stop offset="54.1%" stop-color="#67844f"/><stop offset="58.3%" stop-color="#668450"/><stop offset="62.4%" stop-color="#668450"/><stop offset="66.6%" stop-color="#658450"/><stop offset="75.0%" stop-color="#648451"/><stop offset="83.3%" stop-color="#638452"/><stop offset="91.7%" stop-color="#638452"/><stop offset="99.8%" stop-color="#638452"/></linearGradient><linearGradient id="g58" gradientUnits="userSpaceOnUse" x1="51" x2="700" y1="0" y2="0"><stop offset="0.0%" stop-color="#687752"/><stop offset="4.0%" stop-color="#687752"/><stop offset="8.2%" stop-color="#687752"/><stop offset="12.4%" stop-color="#697752"/><stop offset="16.5%" stop-color="#6a7750"/><stop offset="20.7%" stop-color="#6b7750"/><stop offset="24.9%" stop-color="#6b7750"/><stop offset="29.1%" stop-color="#6c774f"/><stop offset="33.2%" stop-color="#6c774f"/><stop offset="37.4%" stop-color="#6d774e"/><stop offset="41.6%" stop-color="#6d774e"/><stop offset="45.7%" stop-color="#6c774f"/><stop offset="49.9%" stop-color="#6c774f"/><stop offset="54.1%" stop-color="#6b7750"/><stop offset="58.3%" stop-color="#6a7750"/><stop offset="62.4%" stop-color="#6a7751"/><stop offset="66.6%" stop-color="#6a7751"/><stop offset="75.0%" stop-color="#697751"/><stop offset="83.3%" stop-color="#687752"/><stop offset="91.7%" stop-color="#687752"/><stop offset="99.8%" stop-color="#687752"/></linearGradient><linearGradient id="g59" gradientUnits="userSpaceOnUse" x1="51" x2="700" y1="0" y2="0"><stop offset="0.0%" stop-color="#6e6b51"/><stop offset="4.0%" stop-color="#6e6b51"/><stop offset="8.2%" stop-color="#6e6b51"/><stop offset="12.4%" stop-color="#6f6b51"/><stop offset="16.5%" stop-color="#706b50"/><stop offset="20.7%" stop-color="#706b50"/><stop offset="24.9%" stop-color="#716b4f"/><stop offset="29.1%" stop-color="#716b4f"/><stop offset="33.2%" stop-color="#726b4f"/><stop offset="37.4%" stop-color="#726b4e"/><stop offset="41.6%" stop-color="#726b4e"/><stop offset="45.7%" stop-color="#726b4f"/><stop offset="49.9%" stop-color="#716b4f"/><stop offset="54.1%" stop-color="#716b4f"/><stop offset="58.3%" stop-color="#706b50"/><stop offset="62.4%" stop-color="#706b50"/><stop offset="66.6%" stop-color="#706b50"/><stop offset="75.0%" stop-color="#6f6b51"/><stop offset="83.3%" stop-color="#6e6b51"/><stop offset="91.7%" stop-color="#6e6b51"/><stop offset="99.8%" stop-color="#6e6b51"/></linearGradient><linearGradient id="g60" gradientUnits="userSpaceOnUse" x1="51" x2="700" y1="0" y2="0"><stop offset="0.0%" stop-color="#755e50"/><stop offset="4.0%" stop-color="#755e50"/><stop offset="8.2%" stop-color="#755e50"/><stop offset="12.4%" stop-color="#755e50"/><stop offset="16.5%" stop-color="#765e4f"/><stop offset="20.7%" stop-color="#765e4f"/><stop offset="24.9%" stop-color="#775e4f"/><stop offset="29.1%" stop-color="#775e4f"/><stop offset="33.2%" stop-color="#775e4e"/><stop offset="37.4%" stop-color="#775e4e"/><stop offset="41.6%" stop-color="#785e4e"/><stop offset="45.7%" stop-color="#775e4e"/><stop offset="49.9%" stop-color="#775e4f"/><stop offset="54.1%" stop-color="#765e4f"/><stop offset="58.3%" stop-color="#765e4f"/><stop offset="62.4%" stop-color="#765e4f"/><stop offset="66.6%" stop-color="#765e50"/><stop offset="75.0%" stop-color="#755e50"/><stop offset="83.3%" stop-color="#755e50"/><stop offset="91.7%" stop-color="#755e50"/><stop offset="99.8%" stop-color="#755e50"/></linearGradient><linearGradient id="g61" gradientUnits="userSpaceOnUse" x1="51" x2="700" y1="0" y2="0"><stop offset="0.0%" stop-color="#7b524f"/><stop offset="4.0%" stop-color="#7b524f"/><stop offset="8.2%" stop-color="#7b524f"/><stop offset="12.4%" stop-color="#7c524f"/><stop offset="16.5%" stop-color="#7c524f"/><stop offset="20.7%" stop-color="#7c524f"/><stop offset="24.9%" stop-color="#7c524f"/><stop offset="29.1%" stop-color="#7c524e"/><stop offset="33.2%" stop-color="#7d524e"/><stop offset="37.4%" stop-color="#7d524e"/><stop offset="41.6%" stop-color="#7d524e"/><stop offset="45.7%" stop-color="#7d524e"/><stop offset="49.9%" stop-color="#7c524e"/><stop offset="54.1%" stop-color="#7c524f"/><stop offset="58.3%" stop-color="#7c524f"/><stop offset="62.4%" stop-color="#7c524f"/><stop offset="66.6%" stop-color="#7c524f"/><stop offset="75.0%" stop-color="#7c524f"/><stop offset="83.3%" stop-color="#7b524f"/><stop offset="91.7%" stop-color="#7b524f"/><stop offset="99.8%" stop-color="#7b524f"/></linearGradient><linearGradient id="g62" gradientUnits="userSpaceOnUse" x1="51" x2="700" y1="0" y2="0"><stop offset="0.0%" stop-color="#82464e"/><stop offset="4.0%" stop-color="#82464e"/><stop offset="8.2%" stop-color="#82464e"/><stop offset="12.4%" stop-color="#82464e"/><stop offset="16.5%" stop-color="#82464e"/><stop offset="20.7%" stop-color="#82464e"/><stop offset="24.9%" stop-color="#82464e"/><stop offset="29.1%" stop-color="#82464e"/><stop offset="33.2%" stop-color="#82464e"/><stop offset="37.4%" stop-color="#82464e"/><stop offset="41.6%" stop-color="#82464e"/><stop offset="45.7%" stop-color="#82464e"/><stop offset="49.9%" stop-color="#82464e"/><stop offset="54.1%" stop-color="#82464e"/><stop offset="58.3%" stop-color="#82464e"/><stop offset="62.4%" stop-color="#82464e"/><stop offset="66.6%" stop-color="#82464e"/><stop offset="75.0%" stop-color="#82464e"/><stop offset="83.3%" stop-color="#82464e"/><stop offset="91.7%" stop-color="#82464e"/><stop offset="99.8%" stop-color="#82464e"/></linearGradient><linearGradient id="g63" gradientUnits="userSpaceOnUse" x1="51" x2="700" y1="0" y2="0"><stop offset="0.0%" stop-color="#853f47"/><stop offset="4.0%" stop-color="#853f47"/><stop offset="8.2%" stop-color="#853f47"/><stop offset="12.4%" stop-color="#853f47"/><stop offset="16.5%" stop-color="#853f47"/><stop offset="20.7%" stop-color="#853f47"/><stop offset="24.9%" stop-color="#853f47"/><stop offset="29.1%" stop-color="#853f47"/><stop offset="33.2%" stop-color="#853f47"/><stop offset="37.4%" stop-color="#853f47"/><stop offset="41.6%" stop-color="#853f47"/><stop offset="45.7%" stop-color="#853f47"/><stop offset="49.9%" stop-color="#853f47"/><stop offset="54.1%" stop-color="#853f47"/><stop offset="58.3%" stop-color="#853f47"/><stop offset="62.4%" stop-color="#853f47"/><stop offset="66.6%" stop-color="#853f47"/><stop offset="75.0%" stop-color="#853f47"/><stop offset="83.3%" stop-color="#853f47"/><stop offset="91.7%" stop-color="#853f47"/><stop offset="99.8%" stop-color="#853f47"/></linearGradient><linearGradient id="g64" gradientUnits="userSpaceOnUse" x1="51" x2="700" y1="0" y2="0"><stop offset="0.0%" stop-color="#893a40"/><stop offset="4.0%" stop-color="#893a40"/><stop offset="8.2%" stop-color="#893a40"/><stop offset="12.4%" stop-color="#893a40"/><stop offset="16.5%" stop-color="#893a40"/><stop offset="20.7%" stop-color="#893a40"/><stop offset="24.9%" stop-color="#893a40"/><stop offset="29.1%" stop-color="#893a40"/><stop offset="33.2%" stop-color="#893a40"/><stop offset="37.4%" stop-color="#893a40"/><stop offset="41.6%" stop-color="#893a40"/><stop offset="45.7%" stop-color="#893a40"/><stop offset="49.9%" stop-color="#893a40"/><stop offset="54.1%" stop-color="#893a40"/><stop offset="58.3%" stop-color="#893a40"/><stop offset="62.4%" stop-color="#893a40"/><stop offset="66.6%" stop-color="#893a40"/><stop offset="75.0%" stop-color="#893a40"/><stop offset="83.3%" stop-color="#893a40"/><stop offset="91.7%" stop-color="#893a40"/><stop offset="99.8%" stop-color="#893a40"/></linearGradient><linearGradient id="g65" gradientUnits="userSpaceOnUse" x1="51" x2="700" y1="0" y2="0"><stop offset="0.0%" stop-color="#8d352f"/><stop offset="4.0%" stop-color="#8d352f"/><stop offset="8.2%" stop-color="#8d352f"/><stop offset="12.4%" stop-color="#8d352f"/><stop offset="16.5%" stop-color="#8d352f"/><stop offset="20.7%" stop-color="#8d352f"/><stop offset="24.9%" stop-color="#8d352f"/><stop offset="29.1%" stop-color="#8d352f"/><stop offset="33.2%" stop-color="#8d352f"/><stop offset="37.4%" stop-color="#8d352f"/><stop offset="41.6%" stop-color="#8d352f"/><stop offset="45.7%" stop-color="#8d352f"/><stop offset="49.9%" stop-color="#8d352f"/><stop offset="54.1%" stop-color="#8d352f"/><stop offset="58.3%" stop-color="#8d352f"/><stop offset="62.4%" stop-color="#8d352f"/><stop offset="66.6%" stop-color="#8d352f"/><stop offset="75.0%" stop-color="#8d352f"/><stop offset="83.3%" stop-color="#8d352f"/><stop offset="91.7%" stop-color="#8d352f"/><stop offset="99.8%" stop-color="#8d352f"/></linearGradient><linearGradient id="g66" gradientUnits="userSpaceOnUse" x1="51" x2="700" y1="0" y2="0"><stop offset="0.0%" stop-color="#922f1f"/><stop offset="4.0%" stop-color="#922f1f"/><stop offset="8.2%" stop-color="#922f1f"/><stop offset="12.4%" stop-color="#922f1f"/><stop offset="16.5%" stop-color="#922f1f"/><stop offset="20.7%" stop-color="#922f1f"/><stop offset="24.9%" stop-color="#922f1f"/><stop offset="29.1%" stop-color="#922f1f"/><stop offset="33.2%" stop-color="#922f1f"/><stop offset="37.4%" stop-color="#922f1f"/><stop offset="41.6%" stop-color="#922f1f"/><stop offset="45.7%" stop-color="#922f1f"/><stop offset="49.9%" stop-color="#922f1f"/><stop offset="54.1%" stop-color="#922f1f"/><stop offset="58.3%" stop-color="#922f1f"/><stop offset="62.4%" stop-color="#922f1f"/><stop offset="66.6%" stop-color="#922f1f"/><stop offset="75.0%" stop-color="#922f1f"/><stop offset="83.3%" stop-color="#922f1f"/><stop offset="91.7%" stop-color="#922f1f"/><stop offset="99.8%" stop-color="#922f1f"/></linearGradient><linearGradient id="g67" gradientUnits="userSpaceOnUse" x1="51" x2="700" y1="0" y2="0"><stop offset="0.0%" stop-color="#9b2511"/><stop offset="4.0%" stop-color="#9b2511"/><stop offset="8.2%" stop-color="#9b2511"/><stop offset="12.4%" stop-color="#9b2511"/><stop offset="16.5%" stop-color="#9b2511"/><stop offset="20.7%" stop-color="#9b2511"/><stop offset="24.9%" stop-color="#9b2511"/><stop offset="29.1%" stop-color="#9b2511"/><stop offset="33.2%" stop-color="#9b2511"/><stop offset="37.4%" stop-color="#9b2511"/><stop offset="41.6%" stop-color="#9b2511"/><stop offset="45.7%" stop-color="#9b2511"/><stop offset="49.9%" stop-color="#9b2511"/><stop offset="54.1%" stop-color="#9b2511"/><stop offset="58.3%" stop-color="#9b2511"/><stop offset="62.4%" stop-color="#9b2511"/><stop offset="66.6%" stop-color="#9b2511"/><stop offset="75.0%" stop-color="#9b2511"/><stop offset="83.3%" stop-color="#9b2511"/><stop offset="91.7%" stop-color="#9b2511"/><stop offset="99.8%" stop-color="#9b2511"/></linearGradient><linearGradient id="g68" gradientUnits="userSpaceOnUse" x1="51" x2="700" y1="0" y2="0"><stop offset="0.0%" stop-color="#a41b07"/><stop offset="4.0%" stop-color="#a41b07"/><stop offset="8.2%" stop-color="#a41b07"/><stop offset="12.4%" stop-color="#a41b07"/><stop offset="16.5%" stop-color="#a41b07"/><stop offset="20.7%" stop-color="#a41b07"/><stop offset="24.9%" stop-color="#a41b07"/><stop offset="29.1%" stop-color="#a41b07"/><stop offset="33.2%" stop-color="#a41b07"/><stop offset="37.4%" stop-color="#a41b07"/><stop offset="41.6%" stop-color="#a41b07"/><stop offset="45.7%" stop-color="#a41b07"/><stop offset="49.9%" stop-color="#a41b07"/><stop offset="54.1%" stop-color="#a41b07"/><stop offset="58.3%" stop-color="#a41b07"/><stop offset="62.4%" stop-color="#a41b07"/><stop offset="66.6%" stop-color="#a41b07"/><stop offset="75.0%" stop-color="#a41b07"/><stop offset="83.3%" stop-color="#a41b07"/><stop offset="91.7%" stop-color="#a41b07"/><stop offset="99.8%" stop-color="#a41b07"/></linearGradient><linearGradient id="g69" gradientUnits="userSpaceOnUse" x1="51" x2="700" y1="0" y2="0"><stop offset="0.0%" stop-color="#ad1403"/><stop offset="4.0%" stop-color="#ad1403"/><stop offset="8.2%" stop-color="#ad1403"/><stop offset="12.4%" stop-color="#ad1403"/><stop offset="16.5%" stop-color="#ad1403"/><stop offset="20.7%" stop-color="#ad1403"/><stop offset="24.9%" stop-color="#ad1403"/><stop offset="29.1%" stop-color="#ad1403"/><stop offset="33.2%" stop-color="#ad1403"/><stop offset="37.4%" stop-color="#ad1403"/><stop offset="41.6%" stop-color="#ad1403"/><stop offset="45.7%" stop-color="#ad1403"/><stop offset="49.9%" stop-color="#ad1403"/><stop offset="54.1%" stop-color="#ad1403"/><stop offset="58.3%" stop-color="#ad1403"/><stop offset="62.4%" stop-color="#ad1403"/><stop offset="66.6%" stop-color="#ad1403"/><stop offset="75.0%" stop-color="#ad1403"/><stop offset="83.3%" stop-color="#ad1403"/><stop offset="91.7%" stop-color="#ad1403"/><stop offset="99.8%" stop-color="#ad1403"/></linearGradient><linearGradient id="g70" gradientUnits="userSpaceOnUse" x1="51" x2="700" y1="0" y2="0"><stop offset="0.0%" stop-color="#b31101"/><stop offset="4.0%" stop-color="#b31101"/><stop offset="8.2%" stop-color="#b31101"/><stop offset="12.4%" stop-color="#b31101"/><stop offset="16.5%" stop-color="#b31101"/><stop offset="20.7%" stop-color="#b31101"/><stop offset="24.9%" stop-color="#b31101"/><stop offset="29.1%" stop-color="#b31101"/><stop offset="33.2%" stop-color="#b31101"/><stop offset="37.4%" stop-color="#b31101"/><stop offset="41.6%" stop-color="#b31101"/><stop offset="45.7%" stop-color="#b31101"/><stop offset="49.9%" stop-color="#b31101"/><stop offset="54.1%" stop-color="#b31101"/><stop offset="58.3%" stop-color="#b31101"/><stop offset="62.4%" stop-color="#b31101"/><stop offset="66.6%" stop-color="#b31101"/><stop offset="75.0%" stop-color="#b31101"/><stop offset="83.3%" stop-color="#b31101"/><stop offset="91.7%" stop-color="#b31101"/><stop offset="99.8%" stop-color="#b31101"/></linearGradient><linearGradient id="g71" gradientUnits="userSpaceOnUse" x1="51" x2="700" y1="0" y2="0"><stop offset="0.0%" stop-color="#c10a00"/><stop offset="4.0%" stop-color="#c10a00"/><stop offset="8.2%" stop-color="#c10a00"/><stop offset="12.4%" stop-color="#c10a00"/><stop offset="16.5%" stop-color="#c10a00"/><stop offset="20.7%" stop-color="#c10a00"/><stop offset="24.9%" stop-color="#c10a00"/><stop offset="29.1%" stop-color="#c10a00"/><stop offset="33.2%" stop-color="#c10a00"/><stop offset="37.4%" stop-color="#c10a00"/><stop offset="41.6%" stop-color="#c10a00"/><stop offset="45.7%" stop-color="#c10a00"/><stop offset="49.9%" stop-color="#c10a00"/><stop offset="54.1%" stop-color="#c10a00"/><stop offset="58.3%" stop-color="#c10a00"/><stop offset="62.4%" stop-color="#c10a00"/><stop offset="66.6%" stop-color="#c10a00"/><stop offset="75.0%" stop-color="#c10a00"/><stop offset="83.3%" stop-color="#c10a00"/><stop offset="91.7%" stop-color="#c10a00"/><stop offset="99.8%" stop-color="#c10a00"/></linearGradient><linearGradient id="k0" gradientUnits="userSpaceOnUse" x1="51" x2="700" y1="0" y2="0"><stop offset="0.0%" stop-color="#cb0c12"/><stop offset="4.0%" stop-color="#cb0c12"/><stop offset="8.2%" stop-color="#cb0c12"/><stop offset="12.4%" stop-color="#cb0c12"/><stop offset="16.5%" stop-color="#cb0c12"/><stop offset="20.7%" stop-color="#cb0c12"/><stop offset="24.9%" stop-color="#cb0c12"/><stop offset="29.1%" stop-color="#cb0c12"/><stop offset="33.2%" stop-color="#cb0c12"/><stop offset="37.4%" stop-color="#cb0c12"/><stop offset="41.6%" stop-color="#cb0c12"/><stop offset="45.7%" stop-color="#cb0c12"/><stop offset="49.9%" stop-color="#cb0c12"/><stop offset="54.1%" stop-color="#cb0c12"/><stop offset="58.3%" stop-color="#cb0c12"/><stop offset="62.4%" stop-color="#cb0c12"/><stop offset="66.6%" stop-color="#cb0c12"/><stop offset="75.0%" stop-color="#cb0c12"/><stop offset="83.3%" stop-color="#cb0c12"/><stop offset="91.7%" stop-color="#cb0c12"/><stop offset="99.8%" stop-color="#cb0c12"/></linearGradient><linearGradient id="k1" gradientUnits="userSpaceOnUse" x1="51" x2="700" y1="0" y2="0"><stop offset="0.0%" stop-color="#cb0c13"/><stop offset="4.0%" stop-color="#cb0c13"/><stop offset="8.2%" stop-color="#cb0c13"/><stop offset="12.4%" stop-color="#cb0c13"/><stop offset="16.5%" stop-color="#cb0c13"/><stop offset="20.7%" stop-color="#cb0c13"/><stop offset="24.9%" stop-color="#cb0c13"/><stop offset="29.1%" stop-color="#cb0c13"/><stop offset="33.2%" stop-color="#cb0c13"/><stop offset="37.4%" stop-color="#cb0c13"/><stop offset="41.6%" stop-color="#cb0c13"/><stop offset="45.7%" stop-color="#cb0c13"/><stop offset="49.9%" stop-color="#cb0c13"/><stop offset="54.1%" stop-color="#cb0c13"/><stop offset="58.3%" stop-color="#cb0c13"/><stop offset="62.4%" stop-color="#cb0c13"/><stop offset="66.6%" stop-color="#cb0c13"/><stop offset="75.0%" stop-color="#cb0c13"/><stop offset="83.3%" stop-color="#cb0c13"/><stop offset="91.7%" stop-color="#cb0c13"/><stop offset="99.8%" stop-color="#cb0c13"/></linearGradient><linearGradient id="k2" gradientUnits="userSpaceOnUse" x1="51" x2="700" y1="0" y2="0"><stop offset="0.0%" stop-color="#cb0c13"/><stop offset="4.0%" stop-color="#cb0c13"/><stop offset="8.2%" stop-color="#cb0c13"/><stop offset="12.4%" stop-color="#cb0c13"/><stop offset="16.5%" stop-color="#cb0c13"/><stop offset="20.7%" stop-color="#cb0c13"/><stop offset="24.9%" stop-color="#cb0c13"/><stop offset="29.1%" stop-color="#cb0c13"/><stop offset="33.2%" stop-color="#cb0c13"/><stop offset="37.4%" stop-color="#cb0c13"/><stop offset="41.6%" stop-color="#cb0c13"/><stop offset="45.7%" stop-color="#cb0c13"/><stop offset="49.9%" stop-color="#cb0c13"/><stop offset="54.1%" stop-color="#cb0c13"/><stop offset="58.3%" stop-color="#cb0c13"/><stop offset="62.4%" stop-color="#cb0c13"/><stop offset="66.6%" stop-color="#cb0c13"/><stop offset="75.0%" stop-color="#cb0c13"/><stop offset="83.3%" stop-color="#cb0c13"/><stop offset="91.7%" stop-color="#cb0c13"/><stop offset="99.8%" stop-color="#cb0c13"/></linearGradient><linearGradient id="k3" gradientUnits="userSpaceOnUse" x1="51" x2="700" y1="0" y2="0"><stop offset="0.0%" stop-color="#cb0c14"/><stop offset="4.0%" stop-color="#cb0c14"/><stop offset="8.2%" stop-color="#cb0c14"/><stop offset="12.4%" stop-color="#cb0c14"/><stop offset="16.5%" stop-color="#cb0c14"/><stop offset="20.7%" stop-color="#cb0c14"/><stop offset="24.9%" stop-color="#cb0c14"/><stop offset="29.1%" stop-color="#cb0c14"/><stop offset="33.2%" stop-color="#cb0c14"/><stop offset="37.4%" stop-color="#cb0c14"/><stop offset="41.6%" stop-color="#cb0c14"/><stop offset="45.7%" stop-color="#cb0c14"/><stop offset="49.9%" stop-color="#cb0c14"/><stop offset="54.1%" stop-color="#cb0c14"/><stop offset="58.3%" stop-color="#cb0c14"/><stop offset="62.4%" stop-color="#cb0c14"/><stop offset="66.6%" stop-color="#cb0c14"/><stop offset="75.0%" stop-color="#cb0c14"/><stop offset="83.3%" stop-color="#cb0c14"/><stop offset="91.7%" stop-color="#cb0c14"/><stop offset="99.8%" stop-color="#cb0c14"/></linearGradient><linearGradient id="k4" gradientUnits="userSpaceOnUse" x1="51" x2="700" y1="0" y2="0"><stop offset="0.0%" stop-color="#cb0c15"/><stop offset="4.0%" stop-color="#cb0c15"/><stop offset="8.2%" stop-color="#cb0c15"/><stop offset="12.4%" stop-color="#cb0c15"/><stop offset="16.5%" stop-color="#cb0c15"/><stop offset="20.7%" stop-color="#cb0c15"/><stop offset="24.9%" stop-color="#cb0c15"/><stop offset="29.1%" stop-color="#cb0c15"/><stop offset="33.2%" stop-color="#cb0c15"/><stop offset="37.4%" stop-color="#cb0c15"/><stop offset="41.6%" stop-color="#cb0c15"/><stop offset="45.7%" stop-color="#cb0c15"/><stop offset="49.9%" stop-color="#cb0c15"/><stop offset="54.1%" stop-color="#cb0c15"/><stop offset="58.3%" stop-color="#cb0c15"/><stop offset="62.4%" stop-color="#cb0c15"/><stop offset="66.6%" stop-color="#cb0c15"/><stop offset="75.0%" stop-color="#cb0c15"/><stop offset="83.3%" stop-color="#cb0c15"/><stop offset="91.7%" stop-color="#cb0c15"/><stop offset="99.8%" stop-color="#cb0c15"/></linearGradient><linearGradient id="k5" gradientUnits="userSpaceOnUse" x1="51" x2="700" y1="0" y2="0"><stop offset="0.0%" stop-color="#cb0c16"/><stop offset="4.0%" stop-color="#cb0c16"/><stop offset="8.2%" stop-color="#cb0c16"/><stop offset="12.4%" stop-color="#cb0c16"/><stop offset="16.5%" stop-color="#cb0c16"/><stop offset="20.7%" stop-color="#cb0c16"/><stop offset="24.9%" stop-color="#cb0c16"/><stop offset="29.1%" stop-color="#cb0c16"/><stop offset="33.2%" stop-color="#cb0c16"/><stop offset="37.4%" stop-color="#cb0c16"/><stop offset="41.6%" stop-color="#cb0c16"/><stop offset="45.7%" stop-color="#cb0c16"/><stop offset="49.9%" stop-color="#cb0c16"/><stop offset="54.1%" stop-color="#cb0c16"/><stop offset="58.3%" stop-color="#cb0c16"/><stop offset="62.4%" stop-color="#cb0c16"/><stop offset="66.6%" stop-color="#cb0c16"/><stop offset="75.0%" stop-color="#cb0c16"/><stop offset="83.3%" stop-color="#cb0c16"/><stop offset="91.7%" stop-color="#cb0c16"/><stop offset="99.8%" stop-color="#cb0c16"/></linearGradient><linearGradient id="k6" gradientUnits="userSpaceOnUse" x1="51" x2="700" y1="0" y2="0"><stop offset="0.0%" stop-color="#cb0c17"/><stop offset="4.0%" stop-color="#cb0c17"/><stop offset="8.2%" stop-color="#cb0c17"/><stop offset="12.4%" stop-color="#cb0c17"/><stop offset="16.5%" stop-color="#cb0c17"/><stop offset="20.7%" stop-color="#cb0c17"/><stop offset="24.9%" stop-color="#cb0c17"/><stop offset="29.1%" stop-color="#cb0c17"/><stop offset="33.2%" stop-color="#cb0c17"/><stop offset="37.4%" stop-color="#cb0c17"/><stop offset="41.6%" stop-color="#cb0c17"/><stop offset="45.7%" stop-color="#cb0c17"/><stop offset="49.9%" stop-color="#cb0c17"/><stop offset="54.1%" stop-color="#cb0c17"/><stop offset="58.3%" stop-color="#cb0c17"/><stop offset="62.4%" stop-color="#cb0c17"/><stop offset="66.6%" stop-color="#cb0c17"/><stop offset="75.0%" stop-color="#cb0c17"/><stop offset="83.3%" stop-color="#cb0c17"/><stop offset="91.7%" stop-color="#cb0c17"/><stop offset="99.8%" stop-color="#cb0c17"/></linearGradient><linearGradient id="k7" gradientUnits="userSpaceOnUse" x1="51" x2="700" y1="0" y2="0"><stop offset="0.0%" stop-color="#cb0c18"/><stop offset="4.0%" stop-color="#cb0c18"/><stop offset="8.2%" stop-color="#cb0c18"/><stop offset="12.4%" stop-color="#cb0c18"/><stop offset="16.5%" stop-color="#cb0c18"/><stop offset="20.7%" stop-color="#cb0c18"/><stop offset="24.9%" stop-color="#cb0c18"/><stop offset="29.1%" stop-color="#cb0c18"/><stop offset="33.2%" stop-color="#cb0c18"/><stop offset="37.4%" stop-color="#cb0c18"/><stop offset="41.6%" stop-color="#cb0c18"/><stop offset="45.7%" stop-color="#cb0c18"/><stop offset="49.9%" stop-color="#cb0c18"/><stop offset="54.1%" stop-color="#cb0c18"/><stop offset="58.3%" stop-color="#cb0c18"/><stop offset="62.4%" stop-color="#cb0c18"/><stop offset="66.6%" stop-color="#cb0c18"/><stop offset="75.0%" stop-color="#cb0c18"/><stop offset="83.3%" stop-color="#cb0c18"/><stop offset="91.7%" stop-color="#cb0c18"/><stop offset="99.8%" stop-color="#cb0c18"/></linearGradient><linearGradient id="k8" gradientUnits="userSpaceOnUse" x1="51" x2="700" y1="0" y2="0"><stop offset="0.0%" stop-color="#cb0c1a"/><stop offset="4.0%" stop-color="#cb0c1a"/><stop offset="8.2%" stop-color="#cb0c1a"/><stop offset="12.4%" stop-color="#cb0c1a"/><stop offset="16.5%" stop-color="#cb0c1a"/><stop offset="20.7%" stop-color="#cb0c1a"/><stop offset="24.9%" stop-color="#cb0c19"/><stop offset="29.1%" stop-color="#cb0c19"/><stop offset="33.2%" stop-color="#cb0c19"/><stop offset="37.4%" stop-color="#cb0c19"/><stop offset="41.6%" stop-color="#cb0c19"/><stop offset="45.7%" stop-color="#cb0c19"/><stop offset="49.9%" stop-color="#cb0c19"/><stop offset="54.1%" stop-color="#cb0c19"/><stop offset="58.3%" stop-color="#cb0c1a"/><stop offset="62.4%" stop-color="#cb0c1a"/><stop offset="66.6%" stop-color="#cb0c1a"/><stop offset="75.0%" stop-color="#cb0c1a"/><stop offset="83.3%" stop-color="#cb0c1a"/><stop offset="91.7%" stop-color="#cb0c1a"/><stop offset="99.8%" stop-color="#cb0c1a"/></linearGradient><linearGradient id="k9" gradientUnits="userSpaceOnUse" x1="51" x2="700" y1="0" y2="0"><stop offset="0.0%" stop-color="#cb0c1c"/><stop offset="4.0%" stop-color="#cb0c1c"/><stop offset="8.2%" stop-color="#cb0c1c"/><stop offset="12.4%" stop-color="#cb0c1b"/><stop offset="16.5%" stop-color="#cb0c1b"/><stop offset="20.7%" stop-color="#cb0c1b"/><stop offset="24.9%" stop-color="#cb0c1b"/><stop offset="29.1%" stop-color="#cb0c1a"/><stop offset="33.2%" stop-color="#cb0c1a"/><stop offset="37.4%" stop-color="#cb0c1a"/><stop offset="41.6%" stop-color="#cb0c1a"/><stop offset="45.7%" stop-color="#cb0c1a"/><stop offset="49.9%" stop-color="#cb0c1a"/><stop offset="54.1%" stop-color="#cb0c1b"/><stop offset="58.3%" stop-color="#cb0c1b"/><stop offset="62.4%" stop-color="#cb0c1b"/><stop offset="66.6%" stop-color="#cb0c1b"/><stop offset="75.0%" stop-color="#cb0c1b"/><stop offset="83.3%" stop-color="#cb0c1c"/><stop offset="91.7%" stop-color="#cb0c1c"/><stop offset="99.8%" stop-color="#cb0c1c"/></linearGradient><linearGradient id="k10" gradientUnits="userSpaceOnUse" x1="51" x2="700" y1="0" y2="0"><stop offset="0.0%" stop-color="#cb0c1d"/><stop offset="4.0%" stop-color="#cb0c1d"/><stop offset="8.2%" stop-color="#cb0c1d"/><stop offset="12.4%" stop-color="#cb0c1d"/><stop offset="16.5%" stop-color="#cb0c1c"/><stop offset="20.7%" stop-color="#cb0c1c"/><stop offset="24.9%" stop-color="#cb0c1c"/><stop offset="29.1%" stop-color="#cb0c1b"/><stop offset="33.2%" stop-color="#cb0c1b"/><stop offset="37.4%" stop-color="#cb0c1b"/><stop offset="41.6%" stop-color="#cb0c1b"/><stop offset="45.7%" stop-color="#cb0c1b"/><stop offset="49.9%" stop-color="#cb0c1b"/><stop offset="54.1%" stop-color="#cb0c1c"/><stop offset="58.3%" stop-color="#cb0c1c"/><stop offset="62.4%" stop-color="#cb0c1c"/><stop offset="66.6%" stop-color="#cb0c1c"/><stop offset="75.0%" stop-color="#cb0c1d"/><stop offset="83.3%" stop-color="#cb0c1d"/><stop offset="91.7%" stop-color="#cb0c1d"/><stop offset="99.8%" stop-color="#cb0c1d"/></linearGradient><linearGradient id="k11" gradientUnits="userSpaceOnUse" x1="51" x2="700" y1="0" y2="0"><stop offset="0.0%" stop-color="#cb0c20"/><stop offset="4.0%" stop-color="#cb0c20"/><stop offset="8.2%" stop-color="#cb0c20"/><stop offset="12.4%" stop-color="#cb0c1f"/><stop offset="16.5%" stop-color="#cb0c1e"/><stop offset="20.7%" stop-color="#cb0c1e"/><stop offset="24.9%" stop-color="#cb0c1d"/><stop offset="29.1%" stop-color="#cb0c1d"/><stop offset="33.2%" stop-color="#cb0c1d"/><stop offset="37.4%" stop-color="#cb0c1c"/><stop offset="41.6%" stop-color="#cb0c1c"/><stop offset="45.7%" stop-color="#cb0c1d"/><stop offset="49.9%" stop-color="#cb0c1d"/><stop offset="54.1%" stop-color="#cb0c1e"/><stop offset="58.3%" stop-color="#cb0c1e"/><stop offset="62.4%" stop-color="#cb0c1e"/><stop offset="66.6%" stop-color="#cb0c1e"/><stop offset="75.0%" stop-color="#cb0c1f"/><stop offset="83.3%" stop-color="#cb0c20"/><stop offset="91.7%" stop-color="#cb0c20"/><stop offset="99.8%" stop-color="#cb0c20"/></linearGradient><linearGradient id="k12" gradientUnits="userSpaceOnUse" x1="51" x2="700" y1="0" y2="0"><stop offset="0.0%" stop-color="#cb0c22"/><stop offset="4.0%" stop-color="#cb0c22"/><stop offset="8.2%" stop-color="#cb0c22"/><stop offset="12.4%" stop-color="#cb0c22"/><stop offset="16.5%" stop-color="#cb0c20"/><stop offset="20.7%" stop-color="#cb0c20"/><stop offset="24.9%" stop-color="#cb0c1f"/><stop offset="29.1%" stop-color="#cb0c1f"/><stop offset="33.2%" stop-color="#cb0c1e"/><stop offset="37.4%" stop-color="#cb0c1e"/><stop offset="41.6%" stop-color="#cb0c1d"/><stop offset="45.7%" stop-color="#cb0c1e"/><stop offset="49.9%" stop-color="#cb0c1f"/><stop offset="54.1%" stop-color="#cb0c1f"/><stop offset="58.3%" stop-color="#cb0c20"/><stop offset="62.4%" stop-color="#cb0c20"/><stop offset="66.6%" stop-color="#cb0c21"/><stop offset="75.0%" stop-color="#cb0c21"/><stop offset="83.3%" stop-color="#cb0c22"/><stop offset="91.7%" stop-color="#cb0c22"/><stop offset="99.8%" stop-color="#cb0c22"/></linearGradient><linearGradient id="k13" gradientUnits="userSpaceOnUse" x1="51" x2="700" y1="0" y2="0"><stop offset="0.0%" stop-color="#cb0c25"/><stop offset="4.0%" stop-color="#cb0c25"/><stop offset="8.2%" stop-color="#cb0c25"/><stop offset="12.4%" stop-color="#cb0c24"/><stop offset="16.5%" stop-color="#cb0c22"/><stop offset="20.7%" stop-color="#cb0c22"/><stop offset="24.9%" stop-color="#cb0c21"/><stop offset="29.1%" stop-color="#cb0c20"/><stop offset="33.2%" stop-color="#cb0c20"/><stop offset="37.4%" stop-color="#cb0c1f"/><stop offset="41.6%" stop-color="#cb0c1f"/><stop offset="45.7%" stop-color="#cb0c1f"/><stop offset="49.9%" stop-color="#cb0c20"/><stop offset="54.1%" stop-color="#cb0c21"/><stop offset="58.3%" stop-color="#cb0c22"/><stop offset="62.4%" stop-color="#cb0c22"/><stop offset="66.6%" stop-color="#cb0c23"/><stop offset="75.0%" stop-color="#cb0c24"/><stop offset="83.3%" stop-color="#cb0c25"/><stop offset="91.7%" stop-color="#cb0c25"/><stop offset="99.8%" stop-color="#cb0c25"/></linearGradient><linearGradient id="k14" gradientUnits="userSpaceOnUse" x1="51" x2="700" y1="0" y2="0"><stop offset="0.0%" stop-color="#cb0c28"/><stop offset="4.0%" stop-color="#cb0c28"/><stop offset="8.2%" stop-color="#cb0c28"/><stop offset="12.4%" stop-color="#cb0c26"/><stop offset="16.5%" stop-color="#cb0c24"/><stop offset="20.7%" stop-color="#cb0c23"/><stop offset="24.9%" stop-color="#cb0c23"/><stop offset="29.1%" stop-color="#cb0c22"/><stop offset="33.2%" stop-color="#cb0c21"/><stop offset="37.4%" stop-color="#cb0c21"/><stop offset="41.6%" stop-color="#cb0c20"/><stop offset="45.7%" stop-color="#cb0c21"/><stop offset="49.9%" stop-color="#cb0c22"/><stop offset="54.1%" stop-color="#cb0c23"/><stop offset="58.3%" stop-color="#cb0c24"/><stop offset="62.4%" stop-color="#cb0c25"/><stop offset="66.6%" stop-color="#cb0c25"/><stop offset="75.0%" stop-color="#cb0c26"/><stop offset="83.3%" stop-color="#cb0c28"/><stop offset="91.7%" stop-color="#cb0c28"/><stop offset="99.8%" stop-color="#cb0c28"/></linearGradient><linearGradient id="k15" gradientUnits="userSpaceOnUse" x1="51" x2="700" y1="0" y2="0"><stop offset="0.0%" stop-color="#cb0c2a"/><stop offset="4.0%" stop-color="#cb0c2a"/><stop offset="8.2%" stop-color="#cb0c2a"/><stop offset="12.4%" stop-color="#cb0c29"/><stop offset="16.5%" stop-color="#cb0c26"/><stop offset="20.7%" stop-color="#cb0c25"/><stop offset="24.9%" stop-color="#cb0c24"/><stop offset="29.1%" stop-color="#cb0c24"/><stop offset="33.2%" stop-color="#cb0c23"/><stop offset="37.4%" stop-color="#cb0c22"/><stop offset="41.6%" stop-color="#cb0c21"/><stop offset="45.7%" stop-color="#cb0c22"/><stop offset="49.9%" stop-color="#cb0c24"/><stop offset="54.1%" stop-color="#cb0c25"/><stop offset="58.3%" stop-color="#cb0c26"/><stop offset="62.4%" stop-color="#cb0c27"/><stop offset="66.6%" stop-color="#cb0c27"/><stop offset="75.0%" stop-color="#cb0c28"/><stop offset="83.3%" stop-color="#cb0c2a"/><stop offset="91.7%" stop-color="#cb0c2a"/><stop offset="99.8%" stop-color="#cb0c2a"/></linearGradient><linearGradient id="k16" gradientUnits="userSpaceOnUse" x1="51" x2="700" y1="0" y2="0"><stop offset="0.0%" stop-color="#cb0c2d"/><stop offset="4.0%" stop-color="#cb0c2d"/><stop offset="8.2%" stop-color="#cb0c2d"/><stop offset="12.4%" stop-color="#cb0c2b"/><stop offset="16.5%" stop-color="#cb0c28"/><stop offset="20.7%" stop-color="#cb0c27"/><stop offset="24.9%" stop-color="#cb0c26"/><stop offset="29.1%" stop-color="#cb0c25"/><stop offset="33.2%" stop-color="#cb0c24"/><stop offset="37.4%" stop-color="#cb0c23"/><stop offset="41.6%" stop-color="#cb0c22"/><stop offset="45.7%" stop-color="#cb0c24"/><stop offset="49.9%" stop-color="#cb0c25"/><stop offset="54.1%" stop-color="#cb0c27"/><stop offset="58.3%" stop-color="#cb0c28"/><stop offset="62.4%" stop-color="#cb0c29"/><stop offset="66.6%" stop-color="#cb0c29"/><stop offset="75.0%" stop-color="#cb0c2b"/><stop offset="83.3%" stop-color="#cb0c2d"/><stop offset="91.7%" stop-color="#cb0c2d"/><stop offset="99.8%" stop-color="#cb0c2d"/></linearGradient><linearGradient id="k17" gradientUnits="userSpaceOnUse" x1="51" x2="700" y1="0" y2="0"><stop offset="0.0%" stop-color="#cb0c31"/><stop offset="4.0%" stop-color="#cb0c31"/><stop offset="8.2%" stop-color="#cb0c31"/><stop offset="12.4%" stop-color="#cb0c30"/><stop offset="16.5%" stop-color="#cb0c2c"/><stop offset="20.7%" stop-color="#cb0c2b"/><stop offset="24.9%" stop-color="#cb0c2a"/><stop offset="29.1%" stop-color="#cb0c29"/><stop offset="33.2%" stop-color="#cb0c27"/><stop offset="37.4%" stop-color="#cb0c26"/><stop offset="41.6%" stop-color="#cb0c25"/><stop offset="45.7%" stop-color="#cb0c27"/><stop offset="49.9%" stop-color="#cb0c29"/><stop offset="54.1%" stop-color="#cb0c2a"/><stop offset="58.3%" stop-color="#cb0c2c"/><stop offset="62.4%" stop-color="#cb0c2d"/><stop offset="66.6%" stop-color="#cb0c2d"/><stop offset="75.0%" stop-color="#cb0c2f"/><stop offset="83.3%" stop-color="#cb0c31"/><stop offset="91.7%" stop-color="#cb0c31"/><stop offset="99.8%" stop-color="#cb0c31"/></linearGradient><linearGradient id="k18" gradientUnits="userSpaceOnUse" x1="51" x2="700" y1="0" y2="0"><stop offset="0.0%" stop-color="#cb0c36"/><stop offset="4.0%" stop-color="#cb0c36"/><stop offset="8.2%" stop-color="#cb0c36"/><stop offset="12.4%" stop-color="#cb0c35"/><stop offset="16.5%" stop-color="#cb0c31"/><stop offset="20.7%" stop-color="#cb0c2f"/><stop offset="24.9%" stop-color="#cb0c2e"/><stop offset="29.1%" stop-color="#cb0c2d"/><stop offset="33.2%" stop-color="#cb0c2b"/><stop offset="37.4%" stop-color="#cb0c2a"/><stop offset="41.6%" stop-color="#cb0c29"/><stop offset="45.7%" stop-color="#cb0c2b"/><stop offset="49.9%" stop-color="#cb0c2d"/><stop offset="54.1%" stop-color="#cb0c2f"/><stop offset="58.3%" stop-color="#cb0c31"/><stop offset="62.4%" stop-color="#cb0c31"/><stop offset="66.6%" stop-color="#cb0c32"/><stop offset="75.0%" stop-color="#cb0c34"/><stop offset="83.3%" stop-color="#cb0c36"/><stop offset="91.7%" stop-color="#cb0c36"/><stop offset="99.8%" stop-color="#cb0c36"/></linearGradient><linearGradient id="k19" gradientUnits="userSpaceOnUse" x1="51" x2="700" y1="0" y2="0"><stop offset="0.0%" stop-color="#cb0c3c"/><stop offset="4.0%" stop-color="#cb0c3c"/><stop offset="8.2%" stop-color="#cb0c3c"/><stop offset="12.4%" stop-color="#cb0c39"/><stop offset="16.5%" stop-color="#cb0c35"/><stop offset="20.7%" stop-color="#cb0c34"/><stop offset="24.9%" stop-color="#cb0c32"/><stop offset="29.1%" stop-color="#cb0c31"/><stop offset="33.2%" stop-color="#cb0c2f"/><stop offset="37.4%" stop-color="#cb0c2e"/><stop offset="41.6%" stop-color="#cb0c2d"/><stop offset="45.7%" stop-color="#cb0c2f"/><stop offset="49.9%" stop-color="#cb0c31"/><stop offset="54.1%" stop-color="#cb0c33"/><stop offset="58.3%" stop-color="#cb0c35"/><stop offset="62.4%" stop-color="#cb0c36"/><stop offset="66.6%" stop-color="#cb0c37"/><stop offset="75.0%" stop-color="#cb0c39"/><stop offset="83.3%" stop-color="#cb0c3c"/><stop offset="91.7%" stop-color="#cb0c3c"/><stop offset="99.8%" stop-color="#cb0c3c"/></linearGradient><linearGradient id="k20" gradientUnits="userSpaceOnUse" x1="51" x2="700" y1="0" y2="0"><stop offset="0.0%" stop-color="#cb0c41"/><stop offset="4.0%" stop-color="#cb0c41"/><stop offset="8.2%" stop-color="#cb0c41"/><stop offset="12.4%" stop-color="#cb0c3e"/><stop offset="16.5%" stop-color="#cb0c3a"/><stop offset="20.7%" stop-color="#cb0c38"/><stop offset="24.9%" stop-color="#cb0c37"/><stop offset="29.1%" stop-color="#cb0c35"/><stop offset="33.2%" stop-color="#cb0c33"/><stop offset="37.4%" stop-color="#cb0c32"/><stop offset="41.6%" stop-color="#cb0c30"/><stop offset="45.7%" stop-color="#cb0c33"/><stop offset="49.9%" stop-color="#cb0c35"/><stop offset="54.1%" stop-color="#cb0c37"/><stop offset="58.3%" stop-color="#cb0c3a"/><stop offset="62.4%" stop-color="#cb0c3a"/><stop offset="66.6%" stop-color="#cb0c3b"/><stop offset="75.0%" stop-color="#cb0c3d"/><stop offset="83.3%" stop-color="#cb0c41"/><stop offset="91.7%" stop-color="#cb0c41"/><stop offset="99.8%" stop-color="#cb0c41"/></linearGradient><linearGradient id="k21" gradientUnits="userSpaceOnUse" x1="51" x2="700" y1="0" y2="0"><stop offset="0.0%" stop-color="#cb0c46"/><stop offset="4.0%" stop-color="#cb0c46"/><stop offset="8.2%" stop-color="#cb0c46"/><stop offset="12.4%" stop-color="#cb0c43"/><stop offset="16.5%" stop-color="#cb0c3e"/><stop offset="20.7%" stop-color="#cb0c3c"/><stop offset="24.9%" stop-color="#cb0c3b"/><stop offset="29.1%" stop-color="#cb0c39"/><stop offset="33.2%" stop-color="#cb0c37"/><stop offset="37.4%" stop-color="#cb0c36"/><stop offset="41.6%" stop-color="#cb0c34"/><stop offset="45.7%" stop-color="#cb0c37"/><stop offset="49.9%" stop-color="#cb0c39"/><stop offset="54.1%" stop-color="#cb0c3c"/><stop offset="58.3%" stop-color="#cb0c3e"/><stop offset="62.4%" stop-color="#cb0c3f"/><stop offset="66.6%" stop-color="#cb0c40"/><stop offset="75.0%" stop-color="#cb0c42"/><stop offset="83.3%" stop-color="#cb0c46"/><stop offset="91.7%" stop-color="#cb0c46"/><stop offset="99.8%" stop-color="#cb0c46"/></linearGradient><linearGradient id="k22" gradientUnits="userSpaceOnUse" x1="51" x2="700" y1="0" y2="0"><stop offset="0.0%" stop-color="#cb0c4b"/><stop offset="4.0%" stop-color="#cb0c4b"/><stop offset="8.2%" stop-color="#cb0c4b"/><stop offset="12.4%" stop-color="#cb0c48"/><stop offset="16.5%" stop-color="#cb0c43"/><stop offset="20.7%" stop-color="#cb0c41"/><stop offset="24.9%" stop-color="#cb0c3f"/><stop offset="29.1%" stop-color="#cb0c3d"/><stop offset="33.2%" stop-color="#cb0c3c"/><stop offset="37.4%" stop-color="#cb0c3a"/><stop offset="41.6%" stop-color="#cb0c38"/><stop offset="45.7%" stop-color="#cb0c3b"/><stop offset="49.9%" stop-color="#cb0c3d"/><stop offset="54.1%" stop-color="#cb0c40"/><stop offset="58.3%" stop-color="#cb0c43"/><stop offset="62.4%" stop-color="#cb0c43"/><stop offset="66.6%" stop-color="#cb0c44"/><stop offset="75.0%" stop-color="#cb0c47"/><stop offset="83.3%" stop-color="#cb0c4b"/><stop offset="91.7%" stop-color="#cb0c4b"/><stop offset="99.8%" stop-color="#cb0c4b"/></linearGradient><linearGradient id="k23" gradientUnits="userSpaceOnUse" x1="51" x2="700" y1="0" y2="0"><stop offset="0.0%" stop-color="#cb0c4f"/><stop offset="4.0%" stop-color="#cb0c4f"/><stop offset="8.2%" stop-color="#cb0c4f"/><stop offset="12.4%" stop-color="#cb0c4d"/><stop offset="16.5%" stop-color="#cb0c47"/><stop offset="20.7%" stop-color="#cb0c45"/><stop offset="24.9%" stop-color="#cb0c43"/><stop offset="29.1%" stop-color="#cb0c41"/><stop offset="33.2%" stop-color="#cb0c3f"/><stop offset="37.4%" stop-color="#cb0c3d"/><stop offset="41.6%" stop-color="#cb0c3c"/><stop offset="45.7%" stop-color="#cb0c3e"/><stop offset="49.9%" stop-color="#cb0c41"/><stop offset="54.1%" stop-color="#cb0c44"/><stop offset="58.3%" stop-color="#cb0c47"/><stop offset="62.4%" stop-color="#cb0c48"/><stop offset="66.6%" stop-color="#cb0c49"/><stop offset="75.0%" stop-color="#cb0c4c"/><stop offset="83.3%" stop-color="#cb0c4f"/><stop offset="91.7%" stop-color="#cb0c4f"/><stop offset="99.8%" stop-color="#cb0c4f"/></linearGradient><linearGradient id="k24" gradientUnits="userSpaceOnUse" x1="51" x2="700" y1="0" y2="0"><stop offset="0.0%" stop-color="#cb0c54"/><stop offset="4.0%" stop-color="#cb0c54"/><stop offset="8.2%" stop-color="#cb0c54"/><stop offset="12.4%" stop-color="#cb0c51"/><stop offset="16.5%" stop-color="#cb0c4b"/><stop offset="20.7%" stop-color="#cb0c49"/><stop offset="24.9%" stop-color="#cb0c47"/><stop offset="29.1%" stop-color="#cb0c45"/><stop offset="33.2%" stop-color="#cb0c43"/><stop offset="37.4%" stop-color="#cb0c41"/><stop offset="41.6%" stop-color="#cb0c3f"/><stop offset="45.7%" stop-color="#cb0c42"/><stop offset="49.9%" stop-color="#cb0c45"/><stop offset="54.1%" stop-color="#cb0c48"/><stop offset="58.3%" stop-color="#cb0c4b"/><stop offset="62.4%" stop-color="#cb0c4c"/><stop offset="66.6%" stop-color="#cb0c4d"/><stop offset="75.0%" stop-color="#cb0c50"/><stop offset="83.3%" stop-color="#cb0c54"/><stop offset="91.7%" stop-color="#cb0c54"/><stop offset="99.8%" stop-color="#cb0c54"/></linearGradient><linearGradient id="k25" gradientUnits="userSpaceOnUse" x1="51" x2="700" y1="0" y2="0"><stop offset="0.0%" stop-color="#cb0c59"/><stop offset="4.0%" stop-color="#cb0c59"/><stop offset="8.2%" stop-color="#cb0c59"/><stop offset="12.4%" stop-color="#cb0c55"/><stop offset="16.5%" stop-color="#cb0c4f"/><stop offset="20.7%" stop-color="#cb0c4d"/><stop offset="24.9%" stop-color="#cb0c4b"/><stop offset="29.1%" stop-color="#cb0c49"/><stop offset="33.2%" stop-color="#cb0c47"/><stop offset="37.4%" stop-color="#cb0c45"/><stop offset="41.6%" stop-color="#cb0c42"/><stop offset="45.7%" stop-color="#cb0c46"/><stop offset="49.9%" stop-color="#cb0c49"/><stop offset="54.1%" stop-color="#cb0c4c"/><stop offset="58.3%" stop-color="#cb0c4f"/><stop offset="62.4%" stop-color="#cb0c50"/><stop offset="66.6%" stop-color="#cb0c51"/><stop offset="75.0%" stop-color="#cb0c54"/><stop offset="83.3%" stop-color="#cb0c59"/><stop offset="91.7%" stop-color="#cb0c59"/><stop offset="99.8%" stop-color="#cb0c59"/></linearGradient><linearGradient id="k26" gradientUnits="userSpaceOnUse" x1="51" x2="700" y1="0" y2="0"><stop offset="0.0%" stop-color="#cb0c5e"/><stop offset="4.0%" stop-color="#cb0c5e"/><stop offset="8.2%" stop-color="#cb0c5e"/><stop offset="12.4%" stop-color="#cb0c5b"/><stop offset="16.5%" stop-color="#cb0c54"/><stop offset="20.7%" stop-color="#cb0c52"/><stop offset="24.9%" stop-color="#cb0c50"/><stop offset="29.1%" stop-color="#cb0c4d"/><stop offset="33.2%" stop-color="#cb0c4b"/><stop offset="37.4%" stop-color="#cb0c49"/><stop offset="41.6%" stop-color="#cb0c47"/><stop offset="45.7%" stop-color="#cb0c4a"/><stop offset="49.9%" stop-color="#cb0c4d"/><stop offset="54.1%" stop-color="#cb0c51"/><stop offset="58.3%" stop-color="#cb0c54"/><stop offset="62.4%" stop-color="#cb0c55"/><stop offset="66.6%" stop-color="#cb0c56"/><stop offset="75.0%" stop-color="#cb0c5a"/><stop offset="83.3%" stop-color="#cb0c5e"/><stop offset="91.7%" stop-color="#cb0c5e"/><stop offset="99.8%" stop-color="#cb0c5e"/></linearGradient><linearGradient id="k27" gradientUnits="userSpaceOnUse" x1="51" x2="700" y1="0" y2="0"><stop offset="0.0%" stop-color="#cb0c65"/><stop offset="4.0%" stop-color="#cb0c65"/><stop offset="8.2%" stop-color="#cb0c65"/><stop offset="12.4%" stop-color="#cb0c62"/><stop offset="16.5%" stop-color="#cb0c5b"/><stop offset="20.7%" stop-color="#cb0c58"/><stop offset="24.9%" stop-color="#cb0c56"/><stop offset="29.1%" stop-color="#cb0c53"/><stop offset="33.2%" stop-color="#cb0c51"/><stop offset="37.4%" stop-color="#cb0c4e"/><stop offset="41.6%" stop-color="#cb0c4c"/><stop offset="45.7%" stop-color="#cb0c50"/><stop offset="49.9%" stop-color="#cb0c53"/><stop offset="54.1%" stop-color="#cb0c57"/><stop offset="58.3%" stop-color="#cb0c5b"/><stop offset="62.4%" stop-color="#cb0c5c"/><stop offset="66.6%" stop-color="#cb0c5d"/><stop offset="75.0%" stop-color="#cb0c61"/><stop offset="83.3%" stop-color="#cb0c65"/><stop offset="91.7%" stop-color="#cb0c65"/><stop offset="99.8%" stop-color="#cb0c65"/></linearGradient><linearGradient id="k28" gradientUnits="userSpaceOnUse" x1="51" x2="700" y1="0" y2="0"><stop offset="0.0%" stop-color="#cb0c6d"/><stop offset="4.0%" stop-color="#cb0c6d"/><stop offset="8.2%" stop-color="#cb0c6d"/><stop offset="12.4%" stop-color="#cb0c69"/><stop offset="16.5%" stop-color="#cb0c61"/><stop offset="20.7%" stop-color="#cb0c5f"/><stop offset="24.9%" stop-color="#cb0c5c"/><stop offset="29.1%" stop-color="#cb0c59"/><stop offset="33.2%" stop-color="#cb0c57"/><stop offset="37.4%" stop-color="#cb0c54"/><stop offset="41.6%" stop-color="#cb0c52"/><stop offset="45.7%" stop-color="#cb0c55"/><stop offset="49.9%" stop-color="#cb0c59"/><stop offset="54.1%" stop-color="#cb0c5d"/><stop offset="58.3%" stop-color="#cb0c61"/><stop offset="62.4%" stop-color="#cb0c62"/><stop offset="66.6%" stop-color="#cb0c64"/><stop offset="75.0%" stop-color="#cb0c68"/><stop offset="83.3%" stop-color="#cb0c6d"/><stop offset="91.7%" stop-color="#cb0c6d"/><stop offset="99.8%" stop-color="#cb0c6d"/></linearGradient><linearGradient id="k29" gradientUnits="userSpaceOnUse" x1="51" x2="700" y1="0" y2="0"><stop offset="0.0%" stop-color="#cb0c74"/><stop offset="4.0%" stop-color="#cb0c74"/><stop offset="8.2%" stop-color="#cb0c74"/><stop offset="12.4%" stop-color="#cb0c70"/><stop offset="16.5%" stop-color="#cb0c67"/><stop offset="20.7%" stop-color="#cb0c65"/><stop offset="24.9%" stop-color="#cb0c62"/><stop offset="29.1%" stop-color="#cb0c5f"/><stop offset="33.2%" stop-color="#cb0c5c"/><stop offset="37.4%" stop-color="#cb0c5a"/><stop offset="41.6%" stop-color="#cb0c57"/><stop offset="45.7%" stop-color="#cb0c5b"/><stop offset="49.9%" stop-color="#cb0c5f"/><stop offset="54.1%" stop-color="#cb0c63"/><stop offset="58.3%" stop-color="#cb0c67"/><stop offset="62.4%" stop-color="#cb0c69"/><stop offset="66.6%" stop-color="#cb0c6a"/><stop offset="75.0%" stop-color="#cb0c6e"/><stop offset="83.3%" stop-color="#cb0c74"/><stop offset="91.7%" stop-color="#cb0c74"/><stop offset="99.8%" stop-color="#cb0c74"/></linearGradient><linearGradient id="k30" gradientUnits="userSpaceOnUse" x1="51" x2="700" y1="0" y2="0"><stop offset="0.0%" stop-color="#cb0c79"/><stop offset="4.0%" stop-color="#cb0c79"/><stop offset="8.2%" stop-color="#cb0c79"/><stop offset="12.4%" stop-color="#cb0c75"/><stop offset="16.5%" stop-color="#cb0c6c"/><stop offset="20.7%" stop-color="#cb0c69"/><stop offset="24.9%" stop-color="#cb0c67"/><stop offset="29.1%" stop-color="#cb0c64"/><stop offset="33.2%" stop-color="#cb0c61"/><stop offset="37.4%" stop-color="#cb0c5e"/><stop offset="41.6%" stop-color="#cb0c5b"/><stop offset="45.7%" stop-color="#cb0c5f"/><stop offset="49.9%" stop-color="#cb0c64"/><stop offset="54.1%" stop-color="#cb0c68"/><stop offset="58.3%" stop-color="#cb0c6c"/><stop offset="62.4%" stop-color="#cb0c6e"/><stop offset="66.6%" stop-color="#cb0c6f"/><stop offset="75.0%" stop-color="#cb0c74"/><stop offset="83.3%" stop-color="#cb0c79"/><stop offset="91.7%" stop-color="#cb0c79"/><stop offset="99.8%" stop-color="#cb0c79"/></linearGradient><linearGradient id="k31" gradientUnits="userSpaceOnUse" x1="51" x2="700" y1="0" y2="0"><stop offset="0.0%" stop-color="#cb0c7f"/><stop offset="4.0%" stop-color="#cb0c7f"/><stop offset="8.2%" stop-color="#cb0c7f"/><stop offset="12.4%" stop-color="#cb0c7b"/><stop offset="16.5%" stop-color="#cb0c71"/><stop offset="20.7%" stop-color="#cb0c6e"/><stop offset="24.9%" stop-color="#cb0c6b"/><stop offset="29.1%" stop-color="#cb0c68"/><stop offset="33.2%" stop-color="#cb0c65"/><stop offset="37.4%" stop-color="#cb0c62"/><stop offset="41.6%" stop-color="#cb0c5f"/><stop offset="45.7%" stop-color="#cb0c64"/><stop offset="49.9%" stop-color="#cb0c68"/><stop offset="54.1%" stop-color="#cb0c6d"/><stop offset="58.3%" stop-color="#cb0c71"/><stop offset="62.4%" stop-color="#cb0c73"/><stop offset="66.6%" stop-color="#cb0c75"/><stop offset="75.0%" stop-color="#cb0c79"/><stop offset="83.3%" stop-color="#cb0c7f"/><stop offset="91.7%" stop-color="#cb0c7f"/><stop offset="99.8%" stop-color="#cb0c7f"/></linearGradient><linearGradient id="k32" gradientUnits="userSpaceOnUse" x1="51" x2="700" y1="0" y2="0"><stop offset="0.0%" stop-color="#cb0c80"/><stop offset="4.0%" stop-color="#cb0c80"/><stop offset="8.2%" stop-color="#cb0c80"/><stop offset="12.4%" stop-color="#cb0c7c"/><stop offset="16.5%" stop-color="#cb0c73"/><stop offset="20.7%" stop-color="#cb0c70"/><stop offset="24.9%" stop-color="#cb0c6d"/><stop offset="29.1%" stop-color="#cb0c6a"/><stop offset="33.2%" stop-color="#cb0c67"/><stop offset="37.4%" stop-color="#cb0c64"/><stop offset="41.6%" stop-color="#cb0c61"/><stop offset="45.7%" stop-color="#cb0c65"/><stop offset="49.9%" stop-color="#cb0c6a"/><stop offset="54.1%" stop-color="#cb0c6e"/><stop offset="58.3%" stop-color="#cb0c73"/><stop offset="62.4%" stop-color="#cb0c74"/><stop offset="66.6%" stop-color="#cb0c76"/><stop offset="75.0%" stop-color="#cb0c7a"/><stop offset="83.3%" stop-color="#cb0c80"/><stop offset="91.7%" stop-color="#cb0c80"/><stop offset="99.8%" stop-color="#cb0c80"/></linearGradient><linearGradient id="k33" gradientUnits="userSpaceOnUse" x1="51" x2="700" y1="0" y2="0"><stop offset="0.0%" stop-color="#cb0c7f"/><stop offset="4.0%" stop-color="#cb0c7f"/><stop offset="8.2%" stop-color="#cb0c7f"/><stop offset="12.4%" stop-color="#cb0c7b"/><stop offset="16.5%" stop-color="#cb0c73"/><stop offset="20.7%" stop-color="#cb0c70"/><stop offset="24.9%" stop-color="#cb0c6d"/><stop offset="29.1%" stop-color="#cb0c6b"/><stop offset="33.2%" stop-color="#cb0c68"/><stop offset="37.4%" stop-color="#cb0c65"/><stop offset="41.6%" stop-color="#cb0c63"/><stop offset="45.7%" stop-color="#cb0c67"/><stop offset="49.9%" stop-color="#cb0c6b"/><stop offset="54.1%" stop-color="#cb0c6f"/><stop offset="58.3%" stop-color="#cb0c73"/><stop offset="62.4%" stop-color="#cb0c74"/><stop offset="66.6%" stop-color="#cb0c75"/><stop offset="75.0%" stop-color="#cb0c79"/><stop offset="83.3%" stop-color="#cb0c7f"/><stop offset="91.7%" stop-color="#cb0c7f"/><stop offset="99.8%" stop-color="#cb0c7f"/></linearGradient><linearGradient id="k34" gradientUnits="userSpaceOnUse" x1="51" x2="700" y1="0" y2="0"><stop offset="0.0%" stop-color="#cb0c7d"/><stop offset="4.0%" stop-color="#cb0c7d"/><stop offset="8.2%" stop-color="#cb0c7d"/><stop offset="12.4%" stop-color="#cb0c79"/><stop offset="16.5%" stop-color="#cb0c72"/><stop offset="20.7%" stop-color="#cb0c70"/><stop offset="24.9%" stop-color="#cb0c6d"/><stop offset="29.1%" stop-color="#cb0c6b"/><stop offset="33.2%" stop-color="#cb0c69"/><stop offset="37.4%" stop-color="#cb0c66"/><stop offset="41.6%" stop-color="#cb0c64"/><stop offset="45.7%" stop-color="#cb0c67"/><stop offset="49.9%" stop-color="#cb0c6b"/><stop offset="54.1%" stop-color="#cb0c6e"/><stop offset="58.3%" stop-color="#cb0c72"/><stop offset="62.4%" stop-color="#cb0c73"/><stop offset="66.6%" stop-color="#cb0c74"/><stop offset="75.0%" stop-color="#cb0c78"/><stop offset="83.3%" stop-color="#cb0c7d"/><stop offset="91.7%" stop-color="#cb0c7d"/><stop offset="99.8%" stop-color="#cb0c7d"/></linearGradient><linearGradient id="k35" gradientUnits="userSpaceOnUse" x1="51" x2="700" y1="0" y2="0"><stop offset="0.0%" stop-color="#cb0c78"/><stop offset="4.0%" stop-color="#cb0c78"/><stop offset="8.2%" stop-color="#cb0c78"/><stop offset="12.4%" stop-color="#cb0c75"/><stop offset="16.5%" stop-color="#cb0c6f"/><stop offset="20.7%" stop-color="#cb0c6d"/><stop offset="24.9%" stop-color="#cb0c6b"/><stop offset="29.1%" stop-color="#cb0c69"/><stop offset="33.2%" stop-color="#cb0c67"/><stop offset="37.4%" stop-color="#cb0c65"/><stop offset="41.6%" stop-color="#cb0c63"/><stop offset="45.7%" stop-color="#cb0c66"/><stop offset="49.9%" stop-color="#cb0c69"/><stop offset="54.1%" stop-color="#cb0c6c"/><stop offset="58.3%" stop-color="#cb0c6f"/><stop offset="62.4%" stop-color="#cb0c70"/><stop offset="66.6%" stop-color="#cb0c71"/><stop offset="75.0%" stop-color="#cb0c74"/><stop offset="83.3%" stop-color="#cb0c78"/><stop offset="91.7%" stop-color="#cb0c78"/><stop offset="99.8%" stop-color="#cb0c78"/></linearGradient><linearGradient id="k36" gradientUnits="userSpaceOnUse" x1="51" x2="700" y1="0" y2="0"><stop offset="0.0%" stop-color="#cb0c73"/><stop offset="4.0%" stop-color="#cb0c73"/><stop offset="8.2%" stop-color="#cb0c73"/><stop offset="12.4%" stop-color="#cb0c71"/><stop offset="16.5%" stop-color="#cb0c6c"/><stop offset="20.7%" stop-color="#cb0c6a"/><stop offset="24.9%" stop-color="#cb0c69"/><stop offset="29.1%" stop-color="#cb0c67"/><stop offset="33.2%" stop-color="#cb0c65"/><stop offset="37.4%" stop-color="#cb0c64"/><stop offset="41.6%" stop-color="#cb0c62"/><stop offset="45.7%" stop-color="#cb0c65"/><stop offset="49.9%" stop-color="#cb0c67"/><stop offset="54.1%" stop-color="#cb0c69"/><stop offset="58.3%" stop-color="#cb0c6c"/><stop offset="62.4%" stop-color="#cb0c6d"/><stop offset="66.6%" stop-color="#cb0c6d"/><stop offset="75.0%" stop-color="#cb0c70"/><stop offset="83.3%" stop-color="#cb0c73"/><stop offset="91.7%" stop-color="#cb0c73"/><stop offset="99.8%" stop-color="#cb0c73"/></linearGradient><linearGradient id="k37" gradientUnits="userSpaceOnUse" x1="51" x2="700" y1="0" y2="0"><stop offset="0.0%" stop-color="#cb0c6f"/><stop offset="4.0%" stop-color="#cb0c6f"/><stop offset="8.2%" stop-color="#cb0c6f"/><stop offset="12.4%" stop-color="#cb0c6d"/><stop offset="16.5%" stop-color="#cb0c69"/><stop offset="20.7%" stop-color="#cb0c68"/><stop offset="24.9%" stop-color="#cb0c67"/><stop offset="29.1%" stop-color="#cb0c65"/><stop offset="33.2%" stop-color="#cb0c64"/><stop offset="37.4%" stop-color="#cb0c63"/><stop offset="41.6%" stop-color="#cb0c61"/><stop offset="45.7%" stop-color="#cb0c63"/><stop offset="49.9%" stop-color="#cb0c65"/><stop offset="54.1%" stop-color="#cb0c67"/><stop offset="58.3%" stop-color="#cb0c69"/><stop offset="62.4%" stop-color="#cb0c6a"/><stop offset="66.6%" stop-color="#cb0c6a"/><stop offset="75.0%" stop-color="#cb0c6c"/><stop offset="83.3%" stop-color="#cb0c6f"/><stop offset="91.7%" stop-color="#cb0c6f"/><stop offset="99.8%" stop-color="#cb0c6f"/></linearGradient><linearGradient id="k38" gradientUnits="userSpaceOnUse" x1="51" x2="700" y1="0" y2="0"><stop offset="0.0%" stop-color="#cb0c6b"/><stop offset="4.0%" stop-color="#cb0c6b"/><stop offset="8.2%" stop-color="#cb0c6b"/><stop offset="12.4%" stop-color="#cb0c69"/><stop offset="16.5%" stop-color="#cb0c66"/><stop offset="20.7%" stop-color="#cb0c65"/><stop offset="24.9%" stop-color="#cb0c64"/><stop offset="29.1%" stop-color="#cb0c64"/><stop offset="33.2%" stop-color="#cb0c63"/><stop offset="37.4%" stop-color="#cb0c62"/><stop offset="41.6%" stop-color="#cb0c61"/><stop offset="45.7%" stop-color="#cb0c62"/><stop offset="49.9%" stop-color="#cb0c64"/><stop offset="54.1%" stop-color="#cb0c65"/><stop offset="58.3%" stop-color="#cb0c66"/><stop offset="62.4%" stop-color="#cb0c67"/><stop offset="66.6%" stop-color="#cb0c67"/><stop offset="75.0%" stop-color="#cb0c69"/><stop offset="83.3%" stop-color="#cb0c6b"/><stop offset="91.7%" stop-color="#cb0c6b"/><stop offset="99.8%" stop-color="#cb0c6b"/></linearGradient><linearGradient id="k39" gradientUnits="userSpaceOnUse" x1="51" x2="700" y1="0" y2="0"><stop offset="0.0%" stop-color="#cb0c67"/><stop offset="4.0%" stop-color="#cb0c67"/><stop offset="8.2%" stop-color="#cb0c67"/><stop offset="12.4%" stop-color="#cb0c67"/><stop offset="16.5%" stop-color="#cb0c65"/><stop offset="20.7%" stop-color="#cb0c64"/><stop offset="24.9%" stop-color="#cb0c63"/><stop offset="29.1%" stop-color="#cb0c63"/><stop offset="33.2%" stop-color="#cb0c62"/><stop offset="37.4%" stop-color="#cb0c61"/><stop offset="41.6%" stop-color="#cb0c61"/><stop offset="45.7%" stop-color="#cb0c62"/><stop offset="49.9%" stop-color="#cb0c63"/><stop offset="54.1%" stop-color="#cb0c64"/><stop offset="58.3%" stop-color="#cb0c65"/><stop offset="62.4%" stop-color="#cb0c65"/><stop offset="66.6%" stop-color="#cb0c65"/><stop offset="75.0%" stop-color="#cb0c66"/><stop offset="83.3%" stop-color="#cb0c67"/><stop offset="91.7%" stop-color="#cb0c67"/><stop offset="99.8%" stop-color="#cb0c67"/></linearGradient><linearGradient id="k40" gradientUnits="userSpaceOnUse" x1="51" x2="700" y1="0" y2="0"><stop offset="0.0%" stop-color="#cb0c65"/><stop offset="4.0%" stop-color="#cb0c65"/><stop offset="8.2%" stop-color="#cb0c65"/><stop offset="12.4%" stop-color="#cb0c64"/><stop offset="16.5%" stop-color="#cb0c63"/><stop offset="20.7%" stop-color="#cb0c63"/><stop offset="24.9%" stop-color="#cb0c62"/><stop offset="29.1%" stop-color="#cb0c62"/><stop offset="33.2%" stop-color="#cb0c62"/><stop offset="37.4%" stop-color="#cb0c61"/><stop offset="41.6%" stop-color="#cb0c61"/><stop offset="45.7%" stop-color="#cb0c61"/><stop offset="49.9%" stop-color="#cb0c62"/><stop offset="54.1%" stop-color="#cb0c62"/><stop offset="58.3%" stop-color="#cb0c63"/><stop offset="62.4%" stop-color="#cb0c63"/><stop offset="66.6%" stop-color="#cb0c63"/><stop offset="75.0%" stop-color="#cb0c64"/><stop offset="83.3%" stop-color="#cb0c65"/><stop offset="91.7%" stop-color="#cb0c65"/><stop offset="99.8%" stop-color="#cb0c65"/></linearGradient><linearGradient id="k41" gradientUnits="userSpaceOnUse" x1="51" x2="700" y1="0" y2="0"><stop offset="0.0%" stop-color="#cb0c62"/><stop offset="4.0%" stop-color="#cb0c62"/><stop offset="8.2%" stop-color="#cb0c62"/><stop offset="12.4%" stop-color="#cb0c62"/><stop offset="16.5%" stop-color="#cb0c61"/><stop offset="20.7%" stop-color="#cb0c61"/><stop offset="24.9%" stop-color="#cb0c61"/><stop offset="29.1%" stop-color="#cb0c61"/><stop offset="33.2%" stop-color="#cb0c61"/><stop offset="37.4%" stop-color="#cb0c61"/><stop offset="41.6%" stop-color="#cb0c61"/><stop offset="45.7%" stop-color="#cb0c61"/><stop offset="49.9%" stop-color="#cb0c61"/><stop offset="54.1%" stop-color="#cb0c61"/><stop offset="58.3%" stop-color="#cb0c61"/><stop offset="62.4%" stop-color="#cb0c61"/><stop offset="66.6%" stop-color="#cb0c61"/><stop offset="75.0%" stop-color="#cb0c61"/><stop offset="83.3%" stop-color="#cb0c62"/><stop offset="91.7%" stop-color="#cb0c62"/><stop offset="99.8%" stop-color="#cb0c62"/></linearGradient><linearGradient id="k42" gradientUnits="userSpaceOnUse" x1="51" x2="700" y1="0" y2="0"><stop offset="0.0%" stop-color="#cb0c5e"/><stop offset="4.0%" stop-color="#cb0c5e"/><stop offset="8.2%" stop-color="#cb0c5e"/><stop offset="12.4%" stop-color="#cb0c5e"/><stop offset="16.5%" stop-color="#cb0c5e"/><stop offset="20.7%" stop-color="#cb0c5e"/><stop offset="24.9%" stop-color="#cb0c5e"/><stop offset="29.1%" stop-color="#cb0c5e"/><stop offset="33.2%" stop-color="#cb0c5e"/><stop offset="37.4%" stop-color="#cb0c5e"/><stop offset="41.6%" stop-color="#cb0c5e"/><stop offset="45.7%" stop-color="#cb0c5e"/><stop offset="49.9%" stop-color="#cb0c5e"/><stop offset="54.1%" stop-color="#cb0c5e"/><stop offset="58.3%" stop-color="#cb0c5e"/><stop offset="62.4%" stop-color="#cb0c5e"/><stop offset="66.6%" stop-color="#cb0c5e"/><stop offset="75.0%" stop-color="#cb0c5e"/><stop offset="83.3%" stop-color="#cb0c5e"/><stop offset="91.7%" stop-color="#cb0c5e"/><stop offset="99.8%" stop-color="#cb0c5e"/></linearGradient><linearGradient id="k43" gradientUnits="userSpaceOnUse" x1="51" x2="700" y1="0" y2="0"><stop offset="0.0%" stop-color="#cb0c56"/><stop offset="4.0%" stop-color="#cb0c56"/><stop offset="8.2%" stop-color="#cb0c56"/><stop offset="12.4%" stop-color="#cb0c56"/><stop offset="16.5%" stop-color="#cb0c56"/><stop offset="20.7%" stop-color="#cb0c56"/><stop offset="24.9%" stop-color="#cb0c56"/><stop offset="29.1%" stop-color="#cb0c56"/><stop offset="33.2%" stop-color="#cb0c56"/><stop offset="37.4%" stop-color="#cb0c56"/><stop offset="41.6%" stop-color="#cb0c56"/><stop offset="45.7%" stop-color="#cb0c56"/><stop offset="49.9%" stop-color="#cb0c56"/><stop offset="54.1%" stop-color="#cb0c56"/><stop offset="58.3%" stop-color="#cb0c56"/><stop offset="62.4%" stop-color="#cb0c56"/><stop offset="66.6%" stop-color="#cb0c56"/><stop offset="75.0%" stop-color="#cb0c56"/><stop offset="83.3%" stop-color="#cb0c56"/><stop offset="91.7%" stop-color="#cb0c56"/><stop offset="99.8%" stop-color="#cb0c56"/></linearGradient><linearGradient id="k44" gradientUnits="userSpaceOnUse" x1="51" x2="700" y1="0" y2="0"><stop offset="0.0%" stop-color="#cb0c42"/><stop offset="4.0%" stop-color="#cb0c42"/><stop offset="8.2%" stop-color="#cb0c42"/><stop offset="12.4%" stop-color="#cb0c42"/><stop offset="16.5%" stop-color="#cb0c42"/><stop offset="20.7%" stop-color="#cb0c42"/><stop offset="24.9%" stop-color="#cb0c42"/><stop offset="29.1%" stop-color="#cb0c42"/><stop offset="33.2%" stop-color="#cb0c42"/><stop offset="37.4%" stop-color="#cb0c42"/><stop offset="41.6%" stop-color="#cb0c42"/><stop offset="45.7%" stop-color="#cb0c42"/><stop offset="49.9%" stop-color="#cb0c42"/><stop offset="54.1%" stop-color="#cb0c42"/><stop offset="58.3%" stop-color="#cb0c42"/><stop offset="62.4%" stop-color="#cb0c42"/><stop offset="66.6%" stop-color="#cb0c42"/><stop offset="75.0%" stop-color="#cb0c42"/><stop offset="83.3%" stop-color="#cb0c42"/><stop offset="91.7%" stop-color="#cb0c42"/><stop offset="99.8%" stop-color="#cb0c42"/></linearGradient><linearGradient id="k45" gradientUnits="userSpaceOnUse" x1="51" x2="700" y1="0" y2="0"><stop offset="0.0%" stop-color="#cb0c1a"/><stop offset="4.0%" stop-color="#cb0c1a"/><stop offset="8.2%" stop-color="#cb0c1a"/><stop offset="12.4%" stop-color="#cb0c1a"/><stop offset="16.5%" stop-color="#cb0c1a"/><stop offset="20.7%" stop-color="#cb0c1a"/><stop offset="24.9%" stop-color="#cb0c1a"/><stop offset="29.1%" stop-color="#cb0c1a"/><stop offset="33.2%" stop-color="#cb0c1a"/><stop offset="37.4%" stop-color="#cb0c1a"/><stop offset="41.6%" stop-color="#cb0c1a"/><stop offset="45.7%" stop-color="#cb0c1a"/><stop offset="49.9%" stop-color="#cb0c1a"/><stop offset="54.1%" stop-color="#cb0c1a"/><stop offset="58.3%" stop-color="#cb0c1a"/><stop offset="62.4%" stop-color="#cb0c1a"/><stop offset="66.6%" stop-color="#cb0c1a"/><stop offset="75.0%" stop-color="#cb0c1a"/><stop offset="83.3%" stop-color="#cb0c1a"/><stop offset="91.7%" stop-color="#cb0c1a"/><stop offset="99.8%" stop-color="#cb0c1a"/></linearGradient><linearGradient id="k46" gradientUnits="userSpaceOnUse" x1="51" x2="700" y1="0" y2="0"><stop offset="0.0%" stop-color="#cb0c00"/><stop offset="4.0%" stop-color="#cb0c00"/><stop offset="8.2%" stop-color="#cb0c00"/><stop offset="12.4%" stop-color="#cb0c00"/><stop offset="16.5%" stop-color="#cb0c00"/><stop offset="20.7%" stop-color="#cb0c00"/><stop offset="24.9%" stop-color="#cb0c00"/><stop offset="29.1%" stop-color="#cb0c00"/><stop offset="33.2%" stop-color="#cb0c00"/><stop offset="37.4%" stop-color="#cb0c00"/><stop offset="41.6%" stop-color="#cb0c00"/><stop offset="45.7%" stop-color="#cb0c00"/><stop offset="49.9%" stop-color="#cb0c00"/><stop offset="54.1%" stop-color="#cb0c00"/><stop offset="58.3%" stop-color="#cb0c00"/><stop offset="62.4%" stop-color="#cb0c00"/><stop offset="66.6%" stop-color="#cb0c00"/><stop offset="75.0%" stop-color="#cb0c00"/><stop offset="83.3%" stop-color="#cb0c00"/><stop offset="91.7%" stop-color="#cb0c00"/><stop offset="99.8%" stop-color="#cb0c00"/></linearGradient><linearGradient id="k47" gradientUnits="userSpaceOnUse" x1="51" x2="700" y1="0" y2="0"><stop offset="0.0%" stop-color="#cb0c00"/><stop offset="4.0%" stop-color="#cb0c00"/><stop offset="8.2%" stop-color="#cb0c00"/><stop offset="12.4%" stop-color="#cb0c00"/><stop offset="16.5%" stop-color="#cb0c00"/><stop offset="20.7%" stop-color="#cb0c00"/><stop offset="24.9%" stop-color="#cb0c00"/><stop offset="29.1%" stop-color="#cb0c00"/><stop offset="33.2%" stop-color="#cb0c00"/><stop offset="37.4%" stop-color="#cb0c00"/><stop offset="41.6%" stop-color="#cb0c00"/><stop offset="45.7%" stop-color="#cb0c00"/><stop offset="49.9%" stop-color="#cb0c00"/><stop offset="54.1%" stop-color="#cb0c00"/><stop offset="58.3%" stop-color="#cb0c00"/><stop offset="62.4%" stop-color="#cb0c00"/><stop offset="66.6%" stop-color="#cb0c00"/><stop offset="75.0%" stop-color="#cb0c00"/><stop offset="83.3%" stop-color="#cb0c00"/><stop offset="91.7%" stop-color="#cb0c00"/><stop offset="99.8%" stop-color="#cb0c00"/></linearGradient></defs><g filter="url(#nz)"><rect x="51" y="235" width="649" height="2" fill="url(#g0)"/><rect x="51" y="237" width="649" height="2" fill="url(#g1)"/><rect x="51" y="239" width="649" height="2" fill="url(#g2)"/><rect x="51" y="241" width="649" height="2" fill="url(#g3)"/><rect x="51" y="243" width="649" height="2" fill="url(#g4)"/><rect x="51" y="245" width="649" height="2" fill="url(#g5)"/><rect x="51" y="247" width="649" height="2" fill="url(#g6)"/><rect x="51" y="249" width="649" height="2" fill="url(#g7)"/><rect x="51" y="251" width="649" height="2" fill="url(#g8)"/><rect x="51" y="253" width="649" height="2" fill="url(#g9)"/><rect x="51" y="255" width="649" height="2" fill="url(#g10)"/><rect x="51" y="257" width="649" height="2" fill="url(#g11)"/><rect x="51" y="259" width="649" height="2" fill="url(#g12)"/><rect x="51" y="261" width="649" height="2" fill="url(#g13)"/><rect x="51" y="263" width="649" height="2" fill="url(#g14)"/><rect x="51" y="265" width="649" height="2" fill="url(#g15)"/><rect x="51" y="267" width="649" height="2" fill="url(#g16)"/><rect x="51" y="269" width="649" height="2" fill="url(#g17)"/><rect x="51" y="271" width="649" height="2" fill="url(#g18)"/><rect x="51" y="273" width="649" height="2" fill="url(#g19)"/><rect x="51" y="275" width="649" height="2" fill="url(#g20)"/><rect x="51" y="277" width="649" height="2" fill="url(#g21)"/><rect x="51" y="279" width="649" height="2" fill="url(#g22)"/><rect x="51" y="281" width="649" height="2" fill="url(#g23)"/><rect x="51" y="283" width="649" height="2" fill="url(#g24)"/><rect x="51" y="285" width="649" height="2" fill="url(#g25)"/><rect x="51" y="287" width="649" height="2" fill="url(#g26)"/><rect x="51" y="289" width="649" height="2" fill="url(#g27)"/><rect x="51" y="291" width="649" height="2" fill="url(#g28)"/><rect x="51" y="293" width="649" height="2" fill="url(#g29)"/><rect x="51" y="295" width="649" height="2" fill="url(#g30)"/><rect x="51" y="297" width="649" height="2" fill="url(#g31)"/><rect x="51" y="299" width="649" height="2" fill="url(#g32)"/><rect x="51" y="301" width="649" height="2" fill="url(#g33)"/><rect x="51" y="303" width="649" height="2" fill="url(#g34)"/><rect x="51" y="305" width="649" height="2" fill="url(#g35)"/><rect x="51" y="307" width="649" height="2" fill="url(#g36)"/><rect x="51" y="309" width="649" height="2" fill="url(#g37)"/><rect x="51" y="311" width="649" height="2" fill="url(#g38)"/><rect x="51" y="313" width="649" height="2" fill="url(#g39)"/><rect x="51" y="315" width="649" height="2" fill="url(#g40)"/><rect x="51" y="317" width="649" height="2" fill="url(#g41)"/><rect x="51" y="319" width="649" height="2" fill="url(#g42)"/><rect x="51" y="321" width="649" height="2" fill="url(#g43)"/><rect x="51" y="323" width="649" height="2" fill="url(#g44)"/><rect x="51" y="325" width="649" height="2" fill="url(#g45)"/><rect x="51" y="327" width="649" height="2" fill="url(#g46)"/><rect x="51" y="329" width="649" height="2" fill="url(#g47)"/><rect x="51" y="331" width="649" height="2" fill="url(#g48)"/><rect x="51" y="333" width="649" height="2" fill="url(#g49)"/><rect x="51" y="335" width="649" height="2" fill="url(#g50)"/><rect x="51" y="337" width="649" height="2" fill="url(#g51)"/><rect x="51" y="339" width="649" height="2" fill="url(#g52)"/><rect x="51" y="341" width="649" height="2" fill="url(#g53)"/><rect x="51" y="343" width="649" height="2" fill="url(#g54)"/><rect x="51" y="345" width="649" height="2" fill="url(#g55)"/><rect x="51" y="347" width="649" height="2" fill="url(#g56)"/><rect x="51" y="349" width="649" height="2" fill="url(#g57)"/><rect x="51" y="351" width="649" height="2" fill="url(#g58)"/><rect x="51" y="353" width="649" height="2" fill="url(#g59)"/><rect x="51" y="355" width="649" height="2" fill="url(#g60)"/><rect x="51" y="357" width="649" height="2" fill="url(#g61)"/><rect x="51" y="359" width="649" height="2" fill="url(#g62)"/><rect x="51" y="361" width="649" height="2" fill="url(#g63)"/><rect x="51" y="363" width="649" height="2" fill="url(#g64)"/><rect x="51" y="365" width="649" height="2" fill="url(#g65)"/><rect x="51" y="367" width="649" height="2" fill="url(#g66)"/><rect x="51" y="369" width="649" height="2" fill="url(#g67)"/><rect x="51" y="371" width="649" height="2" fill="url(#g68)"/><rect x="51" y="373" width="649" height="2" fill="url(#g69)"/><rect x="51" y="375" width="649" height="2" fill="url(#g70)"/><rect x="51" y="377" width="649" height="2" fill="url(#g71)"/></g><g filter="url(#nz2)"><rect x="51" y="235" width="649" height="3" fill="url(#k0)"/><rect x="51" y="238" width="649" height="3" fill="url(#k1)"/><rect x="51" y="241" width="649" height="3" fill="url(#k2)"/><rect x="51" y="244" width="649" height="3" fill="url(#k3)"/><rect x="51" y="247" width="649" height="3" fill="url(#k4)"/><rect x="51" y="250" width="649" height="3" fill="url(#k5)"/><rect x="51" y="253" width="649" height="3" fill="url(#k6)"/><rect x="51" y="256" width="649" height="3" fill="url(#k7)"/><rect x="51" y="259" width="649" height="3" fill="url(#k8)"/><rect x="51" y="262" width="649" height="3" fill="url(#k9)"/><rect x="51" y="265" width="649" height="3" fill="url(#k10)"/><rect x="51" y="268" width="649" height="3" fill="url(#k11)"/><rect x="51" y="271" width="649" height="3" fill="url(#k12)"/><rect x="51" y="274" width="649" height="3" fill="url(#k13)"/><rect x="51" y="277" width="649" height="3" fill="url(#k14)"/><rect x="51" y="280" width="649" height="3" fill="url(#k15)"/><rect x="51" y="283" width="649" height="3" fill="url(#k16)"/><rect x="51" y="286" width="649" height="3" fill="url(#k17)"/><rect x="51" y="289" width="649" height="3" fill="url(#k18)"/><rect x="51" y="292" width="649" height="3" fill="url(#k19)"/><rect x="51" y="295" width="649" height="3" fill="url(#k20)"/><rect x="51" y="298" width="649" height="3" fill="url(#k21)"/><rect x="51" y="301" width="649" height="3" fill="url(#k22)"/><rect x="51" y="304" width="649" height="3" fill="url(#k23)"/><rect x="51" y="307" width="649" height="3" fill="url(#k24)"/><rect x="51" y="310" width="649" height="3" fill="url(#k25)"/><rect x="51" y="313" width="649" height="3" fill="url(#k26)"/><rect x="51" y="316" width="649" height="3" fill="url(#k27)"/><rect x="51" y="319" width="649" height="3" fill="url(#k28)"/><rect x="51" y="322" width="649" height="3" fill="url(#k29)"/><rect x="51" y="325" width="649" height="3" fill="url(#k30)"/><rect x="51" y="328" width="649" height="3" fill="url(#k31)"/><rect x="51" y="331" width="649" height="3" fill="url(#k32)"/><rect x="51" y="334" width="649" height="3" fill="url(#k33)"/><rect x="51" y="337" width="649" height="3" fill="url(#k34)"/><rect x="51" y="340" width="649" height="3" fill="url(#k35)"/><rect x="51" y="343" width="649" height="3" fill="url(#k36)"/><rect x="51" y="346" width="649" height="3" fill="url(#k37)"/><rect x="51" y="349" width="649" height="3" fill="url(#k38)"/><rect x="51" y="352" width="649" height="3" fill="url(#k39)"/><rect x="51" y="355" width="649" height="3" fill="url(#k40)"/><rect x="51" y="358" width="649" height="3" fill="url(#k41)"/><rect x="51" y="361" width="649" height="3" fill="url(#k42)"/><rect x="51" y="364" width="649" height="3" fill="url(#k43)"/><rect x="51" y="367" width="649" height="3" fill="url(#k44)"/><rect x="51" y="370" width="649" height="3" fill="url(#k45)"/><rect x="51" y="373" width="649" height="3" fill="url(#k46)"/><rect x="51" y="376" width="649" height="3" fill="url(#k47)"/></g><path fill="#ff0000" d="M51 335h1v1h-1zM51 336h1v1h-1zM53 334h1v1h-1zM54 335h1v1h-1zM55 334h1v1h-1zM55 335h1v1h-1zM57 335h1v1h-1zM58 334h1v1h-1zM59 333h1v1h-1zM61 333h1v1h-1zM62 333h1v1h-1zM62 334h1v1h-1zM64 333h1v1h-1zM66 333h1v1h-1zM66 334h1v1h-1zM67 333h1v1h-1zM67 334h1v1h-1zM68 333h1v1h-1zM69 333h1v1h-1zM69 334h1v1h-1zM70 333h1v1h-1zM71 333h1v1h-1zM72 333h1v1h-1zM72 334h1v1h-1zM73 333h1v1h-1zM73 334h1v1h-1zM74 334h1v1h-1zM75 333h1v1h-1zM76 334h1v1h-1zM80 333h1v1h-1zM81 333h1v1h-1zM81 334h1v1h-1zM82 334h1v1h-1zM83 335h1v1h-1zM84 335h1v1h-1zM85 334h1v1h-1zM86 334h1v1h-1zM87 335h1v1h-1zM88 336h1v1h-1zM86 345h1v1h-1zM86 346h1v1h-1zM87 339h1v1h-1zM87 343h1v1h-1zM87 344h1v1h-1zM96 336h1v1h-1zM97 335h1v1h-1zM100 349h1v1h-1zM98 344h1v1h-1zM101 346h1v1h-1zM102 344h1v1h-1zM102 346h1v1h-1zM104 342h1v1h-1zM105 341h1v1h-1zM106 342h1v1h-1zM108 343h1v1h-1zM108 344h1v1h-1zM108 346h1v1h-1zM110 345h1v1h-1zM112 348h1v1h-1zM113 344h1v1h-1zM114 347h1v1h-1zM114 348h1v1h-1zM115 347h1v1h-1zM117 345h1v1h-1zM117 346h1v1h-1zM117 349h1v1h-1zM119 350h1v1h-1zM229 344h1v1h-1zM231 344h1v1h-1zM233 344h1v1h-1zM234 344h1v1h-1zM294 344h1v1h-1zM305 343h1v1h-1zM305 344h1v1h-1z"/><path fill="#ff8000" d="M52 335h1v1h-1zM52 336h1v1h-1zM54 334h1v1h-1zM55 333h1v1h-1zM56 333h1v1h-1zM56 334h1v1h-1zM57 334h1v1h-1zM58 333h1v1h-1zM64 334h1v1h-1zM65 333h1v1h-1zM72 332h1v1h-1zM74 333h1v1h-1zM75 334h1v1h-1zM76 333h1v1h-1zM77 333h1v1h-1zM79 333h1v1h-1zM79 334h1v1h-1zM80 334h1v1h-1zM83 334h1v1h-1zM84 334h1v1h-1zM86 333h1v1h-1zM87 334h1v1h-1zM66 344h1v1h-1zM67 338h1v1h-1zM67 341h1v1h-1zM67 342h1v1h-1zM67 344h1v1h-1zM86 339h1v1h-1zM86 342h1v1h-1zM86 343h1v1h-1zM87 345h1v1h-1zM94 335h1v1h-1zM95 336h1v1h-1zM97 338h1v1h-1zM98 339h1v1h-1zM98 340h1v1h-1zM98 341h1v1h-1zM99 343h1v1h-1zM99 345h1v1h-1zM101 344h1v1h-1zM102 340h1v1h-1zM103 339h1v1h-1zM98 348h1v1h-1zM99 347h1v1h-1zM100 344h1v1h-1zM101 349h1v1h-1zM111 346h1v1h-1zM112 347h1v1h-1zM115 345h1v1h-1zM115 346h1v1h-1zM118 349h1v1h-1zM229 343h1v1h-1zM230 343h1v1h-1zM231 343h1v1h-1zM294 343h1v1h-1zM305 342h1v1h-1zM306 343h1v1h-1z"/><path fill="#00ff00" d="M54 333h1v1h-1zM60 332h1v1h-1zM85 333h1v1h-1zM87 340h1v1h-1zM96 337h1v1h-1zM99 344h1v1h-1zM100 347h1v1h-1zM103 338h1v1h-1zM105 344h1v1h-1zM110 347h1v1h-1zM116 348h1v1h-1z"/><path fill="#ffff00" d="M56 335h1v1h-1zM59 334h1v1h-1zM60 334h1v1h-1zM63 334h1v1h-1zM65 332h1v1h-1zM68 334h1v1h-1zM69 332h1v1h-1zM70 334h1v1h-1zM71 334h1v1h-1zM77 334h1v1h-1zM78 334h1v1h-1zM85 335h1v1h-1zM86 335h1v1h-1zM66 336h1v1h-1zM67 337h1v1h-1zM86 338h1v1h-1zM86 341h1v1h-1zM95 335h1v1h-1zM97 337h1v1h-1zM100 348h1v1h-1zM102 341h1v1h-1zM102 342h1v1h-1zM99 348h1v1h-1zM100 346h1v1h-1zM104 341h1v1h-1zM104 343h1v1h-1zM106 344h1v1h-1zM107 344h1v1h-1zM109 344h1v1h-1zM110 344h1v1h-1zM112 346h1v1h-1zM113 345h1v1h-1zM113 346h1v1h-1zM116 347h1v1h-1zM120 351h1v1h-1zM230 344h1v1h-1zM235 344h1v1h-1zM294 342h1v1h-1z"/><path fill="#800088" d="M61 334h1v1h-1zM88 337h1v1h-1zM94 338h1v1h-1zM95 338h1v1h-1zM97 336h1v1h-1zM101 343h1v1h-1zM101 345h1v1h-1zM118 347h1v1h-1z"/><path fill="#ffd000" d="M306 342h1v1h-1z"/></svg>
<div class="frame" style="left:50px;top:229px"></div>
<svg class="ov" width="780" height="420" style="top:0;left:0"><rect x="51" y="361" width="5" height="1"/><rect x="695" y="361" width="5" height="1"/><rect x="51" y="342" width="5" height="1"/><rect x="695" y="342" width="5" height="1"/><rect x="51" y="323" width="5" height="1"/><rect x="695" y="323" width="5" height="1"/><rect x="51" y="304" width="5" height="1"/><rect x="695" y="304" width="5" height="1"/><rect x="51" y="286" width="5" height="1"/><rect x="695" y="286" width="5" height="1"/><rect x="51" y="267" width="5" height="1"/><rect x="695" y="267" width="5" height="1"/><rect x="51" y="248" width="5" height="1"/><rect x="695" y="248" width="5" height="1"/><rect x="158" y="230" width="1" height="5"/><rect x="158" y="374" width="1" height="5"/><rect x="266" y="230" width="1" height="5"/><rect x="266" y="374" width="1" height="5"/><rect x="375" y="230" width="1" height="5"/><rect x="375" y="374" width="1" height="5"/><rect x="483" y="230" width="1" height="5"/><rect x="483" y="374" width="1" height="5"/><rect x="591" y="230" width="1" height="5"/><rect x="591" y="374" width="1" height="5"/></svg>
<div class="t" style="right:733px;top:370px;text-align:right;">0</div>
<div class="t" style="right:733px;top:352px;text-align:right;">1</div>
<div class="t" style="right:733px;top:333px;text-align:right;">2</div>
<div class="t" style="right:733px;top:314px;text-align:right;">3</div>
<div class="t" style="right:733px;top:295px;text-align:right;">4</div>
<div class="t" style="right:733px;top:277px;text-align:right;">5</div>
<div class="t" style="right:733px;top:258px;text-align:right;">6</div>
<div class="t" style="right:733px;top:239px;text-align:right;">7</div>
<div class="t" style="right:733px;top:220px;text-align:right;">8</div>
<div class="t" style="left:-49.25px;width:200px;top:380px;text-align:center;letter-spacing:0.5px;">00:00</div>
<div class="t" style="left:58.75px;width:200px;top:380px;text-align:center;letter-spacing:0.5px;">04:00</div>
<div class="t" style="left:166.75px;width:200px;top:380px;text-align:center;letter-spacing:0.5px;">08:00</div>
<div class="t" style="left:275.75px;width:200px;top:380px;text-align:center;letter-spacing:0.5px;">12:00</div>
<div class="t" style="left:383.75px;width:200px;top:380px;text-align:center;letter-spacing:0.5px;">16:00</div>
<div class="t" style="left:491.75px;width:200px;top:380px;text-align:center;letter-spacing:0.5px;">20:00</div>
<div class="t" style="left:600.75px;width:200px;top:380px;text-align:center;letter-spacing:0.5px;">00:00</div>
<div class="t" style="left:275px;width:200px;top:398px;text-align:center;">Time (UTC)</div>
<div class="t rot" style="left:-20px;top:295px;width:100px;text-align:center">Height (km)</div>
<div class="t" style="left:57px;top:232px;font-weight:700;letter-spacing:0.39px;">Raw attenuated backscatter coefficient</div>
<div class="cbar" style="left:754px;top:229px"></div>
<div class="t" style="right:35.5px;top:221px;text-align:right;letter-spacing:1px;">10</div>
<div class="t" style="left:742px;top:218.5px;font-size:10px;letter-spacing:1.5px;">-4</div>
<div class="t" style="right:35.5px;top:271px;text-align:right;letter-spacing:1px;">10</div>
<div class="t" style="left:742px;top:268.5px;font-size:10px;letter-spacing:1.5px;">-5</div>
<div class="t" style="right:35.5px;top:321px;text-align:right;letter-spacing:1px;">10</div>
<div class="t" style="left:742px;top:318.5px;font-size:10px;letter-spacing:1.5px;">-6</div>
<div class="t" style="right:35.5px;top:371px;text-align:right;letter-spacing:1px;">10</div>
<div class="t" style="left:742px;top:368.5px;font-size:10px;letter-spacing:1.5px;">-7</div>
<div class="t rot" style="left:669px;top:294px;width:100px;text-align:center">m<sup>-1</sup> sr<sup>-1</sup></div>
<div class="t" style="left:54px;top:19px;letter-spacing:0.3px;">10 Sept 2025</div>
<div class="t" style="left:3px;top:399px;font-weight:700;letter-spacing:0.25px;">Jarvselja CL31 ceilometer</div></body></html>
